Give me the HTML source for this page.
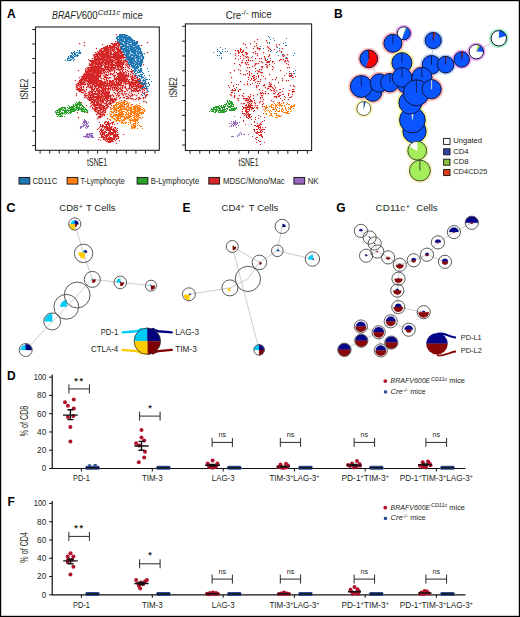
<!DOCTYPE html>
<html><head><meta charset="utf-8"><style>
html,body{margin:0;padding:0;background:#fff;}
svg{display:block;}
text{font-family:"Liberation Sans", sans-serif;}
</style></head><body>
<svg width="520" height="617" viewBox="0 0 520 617">
<rect x="0" y="0" width="520" height="617" fill="#fff"/>
<g fill="#231f20">
<text x="6.9" y="18.2" font-size="12" font-weight="bold" fill="#000">A</text>
<text x="52" y="18.5" font-size="10.3" font-style="italic" textLength="29.6" lengthAdjust="spacingAndGlyphs">BRAFV</text>
<text x="81.7" y="18.5" font-size="10.3" textLength="15.9" lengthAdjust="spacingAndGlyphs">600</text>
<text x="97.8" y="14.6" font-size="7.4" font-style="italic" textLength="22.5" lengthAdjust="spacingAndGlyphs">Cd11c</text>
<text x="122.6" y="18.5" font-size="10.3" textLength="20.1" lengthAdjust="spacingAndGlyphs">mice</text>
<text x="225.7" y="18.5" font-size="10.3" textLength="15.5" lengthAdjust="spacingAndGlyphs">Cre</text>
<text x="241.0" y="15.0" font-size="7.8" textLength="7.2" lengthAdjust="spacingAndGlyphs">-/-</text>
<text x="251.2" y="18.4" font-size="10.3" textLength="20.3" lengthAdjust="spacingAndGlyphs">mice</text>
<rect x="35.5" y="27" width="123.80000000000001" height="123.30000000000001" fill="none" stroke="#231f20" stroke-width="1.1"/>
<path d="M32.3 29.50H35.5M32.3 44.00H35.5M32.3 58.50H35.5M32.3 73.00H35.5M32.3 87.50H35.5M32.3 102.00H35.5M32.3 116.50H35.5M32.3 131.00H35.5M32.3 145.50H35.5M40.10 150.3V153.5M49.68 150.3V153.5M59.26 150.3V153.5M68.84 150.3V153.5M78.42 150.3V153.5M88.00 150.3V153.5M97.58 150.3V153.5M107.16 150.3V153.5M116.74 150.3V153.5M126.32 150.3V153.5M135.90 150.3V153.5M145.48 150.3V153.5M155.06 150.3V153.5" stroke="#231f20" stroke-width="1" fill="none"/>
<rect x="185.4" y="23.9" width="126.20000000000002" height="126.6" fill="none" stroke="#231f20" stroke-width="1.1"/>
<path d="M182.2 26.30H185.4M182.2 41.14H185.4M182.2 55.98H185.4M182.2 70.82H185.4M182.2 85.66H185.4M182.2 100.50H185.4M182.2 115.34H185.4M182.2 130.18H185.4M182.2 145.02H185.4M190.00 150.5V153.7M199.78 150.5V153.7M209.56 150.5V153.7M219.34 150.5V153.7M229.12 150.5V153.7M238.90 150.5V153.7M248.68 150.5V153.7M258.46 150.5V153.7M268.24 150.5V153.7M278.02 150.5V153.7M287.80 150.5V153.7M297.58 150.5V153.7M307.36 150.5V153.7" stroke="#231f20" stroke-width="1" fill="none"/>
<text x="97.1" y="165.8" font-size="10.2" text-anchor="middle" textLength="20" lengthAdjust="spacingAndGlyphs">tSNE1</text>
<text x="248.5" y="165.8" font-size="10.2" text-anchor="middle" textLength="20" lengthAdjust="spacingAndGlyphs">tSNE1</text>
<text x="27.9" y="89" font-size="10.2" text-anchor="middle" textLength="20.5" lengthAdjust="spacingAndGlyphs" transform="rotate(-90 27.9 89)">tSNE2</text>
<text x="177.4" y="87.3" font-size="10.2" text-anchor="middle" textLength="19.8" lengthAdjust="spacingAndGlyphs" transform="rotate(-90 177.4 87.3)">tSNE2</text>
<rect x="19.0" y="177.4" width="10.8" height="6.7" fill="#1f77b4" stroke="#111" stroke-width="0.9"/>
<text x="32.4" y="183.7" font-size="8.4" textLength="24.9" lengthAdjust="spacingAndGlyphs">CD11C</text>
<rect x="67.1" y="177.4" width="10.8" height="6.7" fill="#ff7f0e" stroke="#111" stroke-width="0.9"/>
<text x="80.5" y="183.7" font-size="8.4" textLength="44.3" lengthAdjust="spacingAndGlyphs">T-Lymphocyte</text>
<rect x="137.1" y="177.4" width="10.8" height="6.7" fill="#2ca02c" stroke="#111" stroke-width="0.9"/>
<text x="150.7" y="183.7" font-size="8.4" textLength="48.5" lengthAdjust="spacingAndGlyphs">B-Lymphocyte</text>
<rect x="208.8" y="177.4" width="10.8" height="6.7" fill="#d62728" stroke="#111" stroke-width="0.9"/>
<text x="222.9" y="183.7" font-size="8.4" textLength="61.9" lengthAdjust="spacingAndGlyphs">MDSC/Mono/Mac</text>
<rect x="293.9" y="177.4" width="10.8" height="6.7" fill="#9467bd" stroke="#111" stroke-width="0.9"/>
<text x="307.7" y="183.7" font-size="8.4" textLength="10.8" lengthAdjust="spacingAndGlyphs">NK</text>
<polygon points="119.0,41.0 114.4,42.3 108.5,44.6 101.0,49.0 96.5,52.5 93.0,55.5 90.0,62.0 86.5,69.0 82.0,77.0 77.5,83.5 75.8,86.5 76.5,89.5 80.8,92.3 85.4,96.9 90.0,101.5 92.3,107.7 95.4,113.8 97.7,118.5 103.8,116.9 108.5,107.7 112.0,104.0 116.2,100.5 122.3,98.0 130.0,99.5 137.7,99.6 143.8,100.8 147.5,96.0 148.1,92.1 144.2,86.3 139.1,79.8 133.9,72.1 128.7,63.0 123.5,53.9 120.3,46.1" fill="#d62728" fill-opacity="0.06"/>
<path d="M106.5 91.5h0M105.5 62.5h0M126.5 60.5h0M114.5 57.5h0M86.5 75.5h0M127.5 81.5h0M100.5 80.5h0M109.5 55.5h0M92.5 86.5h0M97.5 76.5h0M91.5 77.5h0M113.5 55.5h0M79.5 90.5h0M95.5 92.5h0M120.5 76.5h0M112.5 64.5h0M88.5 94.5h0M94.5 93.5h0M129.5 84.5h0M101.5 112.5h0M122.5 75.5h0M105.5 103.5h0M102.5 111.5h0M78.5 82.5h0M86.5 79.5h0M112.5 74.5h0M104.5 60.5h0M117.5 48.5h0M106.5 74.5h0M111.5 70.5h0M93.5 60.5h0M99.5 107.5h0M81.5 76.5h0M98.5 62.5h0M94.5 80.5h0M121.5 57.5h0M117.5 64.5h0M121.5 54.5h0M102.5 51.5h0M121.5 61.5h0M91.5 67.5h0M116.5 34.5h0M88.5 96.5h0M103.5 57.5h0M100.5 109.5h0M116.5 59.5h0M98.5 52.5h0M85.5 71.5h0M108.5 78.5h0M86.5 75.5h0M105.5 50.5h0M105.5 112.5h0M126.5 72.5h0M107.5 82.5h0M95.5 101.5h0M90.5 82.5h0M105.5 62.5h0M115.5 44.5h0M126.5 42.5h0M117.5 53.5h0M98.5 105.5h0M114.5 99.5h0M91.5 67.5h0M108.5 90.5h0M107.5 75.5h0M106.5 54.5h0M121.5 59.5h0M102.5 85.5h0M121.5 77.5h0M106.5 85.5h0M97.5 54.5h0M123.5 95.5h0M104.5 55.5h0M107.5 58.5h0M88.5 69.5h0M96.5 80.5h0M91.5 88.5h0M122.5 56.5h0M119.5 57.5h0M96.5 98.5h0M99.5 92.5h0M108.5 51.5h0M106.5 59.5h0M94.5 97.5h0M100.5 101.5h0M100.5 56.5h0M96.5 114.5h0M117.5 57.5h0M100.5 82.5h0M101.5 100.5h0M91.5 81.5h0M129.5 84.5h0M97.5 59.5h0M119.5 93.5h0M112.5 67.5h0M107.5 59.5h0M106.5 88.5h0M78.5 85.5h0M106.5 107.5h0M93.5 108.5h0M104.5 79.5h0M108.5 64.5h0M117.5 56.5h0M135.5 78.5h0M124.5 93.5h0M120.5 85.5h0M101.5 87.5h0M116.5 77.5h0M108.5 56.5h0M106.5 84.5h0M108.5 61.5h0M89.5 65.5h0M122.5 74.5h0M134.5 82.5h0M109.5 49.5h0M112.5 63.5h0M116.5 54.5h0M125.5 82.5h0M118.5 85.5h0M83.5 83.5h0M103.5 90.5h0M89.5 69.5h0M98.5 70.5h0M117.5 58.5h0M103.5 109.5h0M95.5 58.5h0M91.5 79.5h0M106.5 102.5h0M94.5 89.5h0M105.5 65.5h0M97.5 94.5h0M138.5 79.5h0M82.5 92.5h0M110.5 62.5h0M107.5 49.5h0M95.5 68.5h0M100.5 107.5h0M89.5 72.5h0M100.5 76.5h0M100.5 73.5h0M97.5 62.5h0M118.5 87.5h0M113.5 47.5h0M101.5 112.5h0M105.5 75.5h0M84.5 42.5h0M123.5 61.5h0M134.5 76.5h0M82.5 92.5h0M125.5 84.5h0M91.5 99.5h0M119.5 49.5h0M94.5 108.5h0M121.5 62.5h0M102.5 61.5h0M127.5 70.5h0M118.5 65.5h0M92.5 101.5h0M97.5 75.5h0M90.5 61.5h0M94.5 81.5h0M116.5 54.5h0M119.5 72.5h0M101.5 103.5h0M111.5 46.5h0M109.5 58.5h0M92.5 75.5h0M77.5 104.5h0M81.5 87.5h0M108.5 69.5h0M121.5 55.5h0M94.5 78.5h0M109.5 61.5h0M102.5 98.5h0M106.5 66.5h0M80.5 90.5h0M120.5 83.5h0M96.5 94.5h0M118.5 49.5h0M80.5 80.5h0M102.5 92.5h0M120.5 80.5h0M118.5 63.5h0M91.5 79.5h0M78.5 117.5h0M120.5 81.5h0M103.5 96.5h0M92.5 104.5h0M90.5 61.5h0M113.5 73.5h0M100.5 58.5h0M118.5 45.5h0M109.5 60.5h0M121.5 53.5h0M97.5 71.5h0M120.5 81.5h0M102.5 91.5h0M94.5 68.5h0M82.5 89.5h0M91.5 67.5h0M94.5 94.5h0M98.5 110.5h0M119.5 54.5h0M91.5 79.5h0M104.5 107.5h0M91.5 72.5h0M107.5 55.5h0M119.5 88.5h0M107.5 54.5h0M106.5 101.5h0M105.5 81.5h0M96.5 74.5h0M130.5 88.5h0M95.5 61.5h0M99.5 80.5h0M101.5 63.5h0M88.5 92.5h0M123.5 72.5h0M86.5 78.5h0M103.5 57.5h0M116.5 81.5h0M119.5 49.5h0M142.5 95.5h0M103.5 48.5h0M122.5 52.5h0M103.5 107.5h0M97.5 82.5h0M99.5 73.5h0M92.5 70.5h0M98.5 87.5h0M104.5 89.5h0M103.5 96.5h0M106.5 92.5h0M98.5 68.5h0M109.5 95.5h0M94.5 80.5h0M100.5 82.5h0M117.5 94.5h0M88.5 76.5h0M115.5 78.5h0M115.5 45.5h0M94.5 62.5h0M107.5 52.5h0M130.5 98.5h0M132.5 84.5h0M89.5 99.5h0M114.5 60.5h0M100.5 109.5h0M115.5 79.5h0M98.5 56.5h0M81.5 81.5h0M117.5 84.5h0M106.5 53.5h0M124.5 81.5h0M96.5 62.5h0M98.5 71.5h0M91.5 86.5h0M99.5 113.5h0M102.5 53.5h0M142.5 89.5h0M111.5 64.5h0M111.5 53.5h0M102.5 106.5h0M101.5 103.5h0M98.5 101.5h0M110.5 95.5h0M95.5 104.5h0M110.5 87.5h0M94.5 68.5h0M115.5 81.5h0M100.5 83.5h0M126.5 60.5h0M103.5 54.5h0M90.5 79.5h0M115.5 67.5h0M92.5 104.5h0M97.5 72.5h0M93.5 77.5h0M83.5 78.5h0M127.5 96.5h0M94.5 101.5h0M123.5 78.5h0M120.5 77.5h0M114.5 44.5h0M105.5 97.5h0M92.5 72.5h0M105.5 86.5h0M92.5 71.5h0M102.5 61.5h0M114.5 56.5h0M110.5 47.5h0M98.5 95.5h0M111.5 47.5h0M108.5 87.5h0M130.5 82.5h0M125.5 79.5h0M123.5 64.5h0M107.5 92.5h0M99.5 95.5h0M96.5 111.5h0M84.5 81.5h0M97.5 72.5h0M98.5 77.5h0M96.5 102.5h0M118.5 67.5h0M101.5 88.5h0M100.5 64.5h0M99.5 100.5h0M107.5 64.5h0M81.5 79.5h0M95.5 86.5h0M94.5 75.5h0M120.5 51.5h0M137.5 79.5h0M103.5 58.5h0M91.5 89.5h0M94.5 82.5h0M103.5 93.5h0M119.5 63.5h0M121.5 62.5h0M115.5 63.5h0M106.5 108.5h0M92.5 68.5h0M125.5 77.5h0M135.5 80.5h0M91.5 75.5h0M97.5 56.5h0M119.5 62.5h0M131.5 76.5h0M106.5 75.5h0M96.5 81.5h0M102.5 95.5h0M118.5 79.5h0M104.5 110.5h0M99.5 53.5h0M116.5 58.5h0M112.5 61.5h0M123.5 81.5h0M132.5 77.5h0M84.5 91.5h0M113.5 54.5h0M88.5 73.5h0M103.5 113.5h0M106.5 98.5h0M112.5 66.5h0M123.5 75.5h0M102.5 92.5h0M134.5 83.5h0M89.5 80.5h0M116.5 88.5h0M108.5 103.5h0M119.5 63.5h0M98.5 95.5h0M97.5 102.5h0M106.5 105.5h0M110.5 54.5h0M106.5 55.5h0M106.5 96.5h0M112.5 44.5h0M91.5 105.5h0M114.5 77.5h0M105.5 100.5h0M91.5 73.5h0M125.5 94.5h0M120.5 55.5h0M85.5 76.5h0M87.5 77.5h0M93.5 93.5h0M94.5 100.5h0M109.5 80.5h0M105.5 100.5h0M140.5 88.5h0M92.5 71.5h0M94.5 88.5h0M112.5 81.5h0M109.5 55.5h0M122.5 76.5h0M107.5 93.5h0M115.5 55.5h0M99.5 114.5h0M120.5 81.5h0M88.5 73.5h0M108.5 55.5h0M98.5 90.5h0M91.5 90.5h0M129.5 60.5h0M95.5 93.5h0M93.5 74.5h0M79.5 84.5h0M117.5 57.5h0M97.5 78.5h0M119.5 38.5h0M98.5 80.5h0M124.5 73.5h0M88.5 78.5h0M118.5 43.5h0M102.5 109.5h0M91.5 64.5h0M113.5 101.5h0M99.5 69.5h0M109.5 53.5h0M101.5 95.5h0M101.5 81.5h0M108.5 97.5h0M92.5 79.5h0M137.5 82.5h0M95.5 73.5h0M101.5 67.5h0M96.5 68.5h0M109.5 95.5h0M108.5 50.5h0M107.5 59.5h0M104.5 59.5h0M112.5 83.5h0M98.5 69.5h0M97.5 66.5h0M105.5 94.5h0M122.5 65.5h0M141.5 86.5h0M91.5 101.5h0M101.5 83.5h0M137.5 86.5h0M120.5 61.5h0M122.5 52.5h0M93.5 80.5h0M97.5 63.5h0M110.5 68.5h0M96.5 48.5h0M90.5 97.5h0M92.5 65.5h0M107.5 93.5h0M139.5 78.5h0M89.5 99.5h0M92.5 63.5h0M98.5 116.5h0M95.5 62.5h0M106.5 52.5h0M96.5 93.5h0M97.5 67.5h0M107.5 56.5h0M132.5 95.5h0M106.5 103.5h0M129.5 92.5h0M117.5 46.5h0M123.5 78.5h0M131.5 81.5h0M101.5 116.5h0M113.5 86.5h0M102.5 89.5h0M95.5 78.5h0M114.5 99.5h0M91.5 74.5h0M103.5 89.5h0M111.5 83.5h0M135.5 74.5h0M95.5 78.5h0M94.5 68.5h0M125.5 75.5h0M131.5 89.5h0M91.5 63.5h0M123.5 63.5h0M102.5 58.5h0M94.5 60.5h0M119.5 44.5h0M89.5 65.5h0M105.5 98.5h0M107.5 48.5h0M113.5 96.5h0M95.5 70.5h0M87.5 70.5h0M99.5 105.5h0M93.5 66.5h0M95.5 78.5h0M145.5 84.5h0M93.5 71.5h0M97.5 104.5h0M121.5 63.5h0M106.5 108.5h0M120.5 56.5h0M94.5 109.5h0M135.5 99.5h0M92.5 76.5h0M88.5 77.5h0M132.5 82.5h0M93.5 73.5h0M101.5 49.5h0M97.5 71.5h0M118.5 68.5h0M94.5 80.5h0M93.5 105.5h0M112.5 59.5h0M115.5 57.5h0M92.5 93.5h0M98.5 54.5h0M132.5 86.5h0M99.5 116.5h0M145.5 95.5h0M98.5 81.5h0M105.5 56.5h0M107.5 62.5h0M96.5 66.5h0M136.5 90.5h0M125.5 55.5h0M93.5 81.5h0M83.5 77.5h0M131.5 98.5h0M95.5 81.5h0M112.5 68.5h0M107.5 54.5h0M92.5 74.5h0M125.5 77.5h0M95.5 72.5h0M96.5 89.5h0M87.5 83.5h0M133.5 91.5h0M120.5 62.5h0M95.5 77.5h0M78.5 84.5h0M98.5 78.5h0M96.5 53.5h0M126.5 75.5h0M104.5 49.5h0M93.5 63.5h0M108.5 60.5h0M104.5 107.5h0M94.5 68.5h0M112.5 85.5h0M102.5 59.5h0M122.5 93.5h0M117.5 63.5h0M122.5 57.5h0M117.5 62.5h0M96.5 62.5h0M100.5 104.5h0M114.5 92.5h0M108.5 106.5h0M112.5 56.5h0M120.5 56.5h0M121.5 64.5h0M91.5 97.5h0M104.5 77.5h0M83.5 92.5h0M103.5 102.5h0M103.5 70.5h0M117.5 83.5h0M103.5 88.5h0M131.5 86.5h0M113.5 68.5h0M134.5 86.5h0M97.5 83.5h0M122.5 78.5h0M90.5 64.5h0M109.5 51.5h0M114.5 76.5h0M92.5 61.5h0M128.5 76.5h0M94.5 83.5h0M88.5 81.5h0M111.5 69.5h0M97.5 105.5h0M121.5 80.5h0M84.5 95.5h0M118.5 67.5h0M119.5 78.5h0M98.5 70.5h0M98.5 104.5h0M109.5 93.5h0M76.5 93.5h0M100.5 60.5h0M84.5 74.5h0M134.5 63.5h0M99.5 90.5h0M103.5 107.5h0M86.5 95.5h0M111.5 83.5h0M83.5 92.5h0M102.5 91.5h0M104.5 54.5h0M107.5 98.5h0M91.5 71.5h0M121.5 56.5h0M99.5 87.5h0M126.5 78.5h0M112.5 66.5h0M96.5 61.5h0M95.5 64.5h0M112.5 59.5h0M123.5 74.5h0M109.5 84.5h0M104.5 67.5h0M128.5 74.5h0M98.5 62.5h0M110.5 86.5h0M107.5 94.5h0M90.5 70.5h0M118.5 50.5h0M92.5 99.5h0M86.5 78.5h0M94.5 79.5h0M92.5 80.5h0M95.5 96.5h0M117.5 65.5h0M132.5 76.5h0M100.5 86.5h0M96.5 60.5h0M94.5 86.5h0M99.5 51.5h0M93.5 68.5h0M91.5 74.5h0M118.5 50.5h0M116.5 59.5h0M115.5 60.5h0M124.5 91.5h0M102.5 73.5h0M107.5 107.5h0M93.5 78.5h0M122.5 75.5h0M91.5 65.5h0M92.5 73.5h0M120.5 81.5h0M91.5 63.5h0M98.5 104.5h0M131.5 72.5h0M116.5 43.5h0M107.5 67.5h0M102.5 106.5h0M131.5 84.5h0M118.5 51.5h0M86.5 78.5h0M103.5 96.5h0M109.5 62.5h0M97.5 51.5h0M89.5 67.5h0M117.5 57.5h0M92.5 101.5h0M117.5 63.5h0M102.5 82.5h0M106.5 84.5h0M115.5 45.5h0M94.5 79.5h0M104.5 93.5h0M102.5 82.5h0M94.5 78.5h0M121.5 67.5h0M98.5 112.5h0M97.5 66.5h0M105.5 55.5h0M107.5 66.5h0M111.5 103.5h0M86.5 71.5h0M94.5 74.5h0M119.5 78.5h0M99.5 97.5h0M120.5 80.5h0M112.5 62.5h0M95.5 76.5h0M84.5 75.5h0M103.5 89.5h0M100.5 74.5h0M98.5 111.5h0M117.5 59.5h0M94.5 62.5h0M102.5 54.5h0M94.5 68.5h0M105.5 59.5h0M103.5 69.5h0M108.5 103.5h0M139.5 83.5h0M113.5 44.5h0M91.5 61.5h0M112.5 98.5h0M118.5 81.5h0M124.5 77.5h0M106.5 56.5h0M141.5 85.5h0M112.5 68.5h0M108.5 92.5h0M99.5 106.5h0M116.5 78.5h0M104.5 53.5h0M109.5 91.5h0M95.5 105.5h0M142.5 92.5h0M96.5 104.5h0M110.5 81.5h0M96.5 84.5h0M97.5 59.5h0M96.5 56.5h0M99.5 75.5h0M89.5 93.5h0M107.5 106.5h0M106.5 48.5h0M105.5 62.5h0M120.5 75.5h0M95.5 79.5h0M109.5 51.5h0M109.5 55.5h0M115.5 84.5h0M103.5 99.5h0M112.5 63.5h0M105.5 77.5h0M115.5 59.5h0M79.5 91.5h0M123.5 81.5h0M118.5 46.5h0M93.5 73.5h0M115.5 56.5h0M111.5 70.5h0M119.5 76.5h0M99.5 66.5h0M142.5 88.5h0M99.5 108.5h0M110.5 71.5h0M119.5 83.5h0M101.5 55.5h0M94.5 96.5h0M90.5 78.5h0M100.5 72.5h0M91.5 99.5h0M94.5 91.5h0M116.5 64.5h0M124.5 77.5h0M104.5 53.5h0M102.5 112.5h0M95.5 52.5h0M100.5 56.5h0M115.5 43.5h0M102.5 70.5h0M112.5 50.5h0M79.5 86.5h0M121.5 69.5h0M93.5 96.5h0M98.5 57.5h0M103.5 97.5h0M93.5 60.5h0M118.5 74.5h0M95.5 72.5h0M80.5 91.5h0M107.5 82.5h0M111.5 60.5h0M95.5 85.5h0M114.5 50.5h0M94.5 79.5h0M95.5 101.5h0M86.5 71.5h0M82.5 83.5h0M125.5 75.5h0M106.5 83.5h0M97.5 91.5h0M101.5 62.5h0M107.5 82.5h0M124.5 80.5h0M98.5 94.5h0M110.5 107.5h0M83.5 74.5h0M101.5 58.5h0M104.5 93.5h0M88.5 77.5h0M100.5 50.5h0M114.5 84.5h0M83.5 78.5h0M93.5 76.5h0M97.5 55.5h0M88.5 79.5h0M92.5 107.5h0M80.5 79.5h0M102.5 65.5h0M102.5 89.5h0M89.5 80.5h0M124.5 75.5h0M82.5 78.5h0M88.5 78.5h0M101.5 82.5h0M102.5 85.5h0M91.5 83.5h0M100.5 73.5h0M109.5 84.5h0M103.5 110.5h0M120.5 80.5h0M139.5 89.5h0M99.5 97.5h0M119.5 69.5h0M83.5 75.5h0M120.5 65.5h0M98.5 68.5h0M142.5 86.5h0M88.5 86.5h0M122.5 74.5h0M116.5 79.5h0M130.5 84.5h0M94.5 106.5h0M99.5 75.5h0M108.5 60.5h0M141.5 87.5h0M95.5 67.5h0M91.5 75.5h0M84.5 97.5h0M96.5 76.5h0M96.5 79.5h0M110.5 46.5h0M118.5 80.5h0M92.5 62.5h0M78.5 83.5h0M121.5 40.5h0M90.5 98.5h0M115.5 53.5h0M104.5 55.5h0M122.5 90.5h0M103.5 83.5h0M100.5 102.5h0M90.5 68.5h0M93.5 89.5h0M134.5 78.5h0M104.5 73.5h0M92.5 77.5h0M106.5 47.5h0M95.5 80.5h0M89.5 78.5h0M89.5 78.5h0M105.5 86.5h0M78.5 83.5h0M143.5 98.5h0M87.5 76.5h0M121.5 63.5h0M95.5 62.5h0M117.5 62.5h0M143.5 89.5h0M98.5 73.5h0M104.5 55.5h0M103.5 91.5h0M105.5 77.5h0M91.5 68.5h0M86.5 74.5h0M95.5 65.5h0M110.5 54.5h0M94.5 75.5h0M109.5 103.5h0M106.5 60.5h0M97.5 97.5h0M103.5 94.5h0M129.5 85.5h0M105.5 65.5h0M94.5 59.5h0M101.5 48.5h0M120.5 49.5h0M84.5 74.5h0M90.5 80.5h0M105.5 109.5h0M133.5 84.5h0M120.5 72.5h0M114.5 79.5h0M78.5 70.5h0M105.5 59.5h0M115.5 53.5h0M126.5 89.5h0M142.5 88.5h0M93.5 71.5h0M115.5 78.5h0M140.5 88.5h0M91.5 66.5h0M122.5 76.5h0M110.5 89.5h0M88.5 79.5h0M91.5 75.5h0M88.5 75.5h0M90.5 97.5h0M105.5 95.5h0M106.5 52.5h0M131.5 95.5h0M126.5 75.5h0M100.5 83.5h0M106.5 60.5h0M131.5 85.5h0M94.5 68.5h0M118.5 68.5h0M93.5 89.5h0M111.5 47.5h0M95.5 80.5h0M131.5 82.5h0M117.5 79.5h0M101.5 64.5h0M106.5 59.5h0M111.5 50.5h0M130.5 49.5h0M104.5 112.5h0M113.5 56.5h0M112.5 68.5h0M91.5 71.5h0M100.5 92.5h0M83.5 81.5h0M140.5 98.5h0M144.5 90.5h0M137.5 82.5h0M125.5 79.5h0M115.5 45.5h0M95.5 79.5h0M110.5 100.5h0M105.5 97.5h0M110.5 64.5h0M112.5 60.5h0M100.5 114.5h0M118.5 57.5h0M83.5 87.5h0M106.5 50.5h0M92.5 76.5h0M116.5 62.5h0M138.5 99.5h0M132.5 70.5h0M89.5 76.5h0M106.5 97.5h0M107.5 46.5h0M117.5 82.5h0M98.5 85.5h0M101.5 83.5h0M105.5 56.5h0M98.5 74.5h0M95.5 97.5h0M103.5 89.5h0M114.5 82.5h0M111.5 52.5h0M126.5 80.5h0M102.5 68.5h0M111.5 81.5h0M138.5 91.5h0M103.5 50.5h0M99.5 95.5h0M101.5 70.5h0M99.5 71.5h0M107.5 57.5h0M92.5 73.5h0M110.5 56.5h0M94.5 97.5h0M120.5 89.5h0M94.5 79.5h0M110.5 60.5h0M88.5 78.5h0M98.5 57.5h0M120.5 63.5h0M100.5 116.5h0M86.5 80.5h0M97.5 73.5h0M94.5 58.5h0M88.5 97.5h0M81.5 81.5h0M136.5 87.5h0M102.5 55.5h0M111.5 61.5h0M100.5 99.5h0M99.5 84.5h0M102.5 51.5h0M107.5 47.5h0M115.5 57.5h0M80.5 90.5h0M115.5 47.5h0M122.5 62.5h0M108.5 95.5h0M119.5 84.5h0M114.5 46.5h0M102.5 114.5h0M108.5 56.5h0M108.5 48.5h0M113.5 64.5h0M120.5 60.5h0M129.5 81.5h0M121.5 73.5h0M108.5 86.5h0M106.5 96.5h0M85.5 75.5h0M98.5 81.5h0M113.5 99.5h0M97.5 88.5h0M95.5 97.5h0M110.5 99.5h0M92.5 65.5h0M124.5 78.5h0M135.5 91.5h0M97.5 102.5h0M97.5 104.5h0M106.5 59.5h0M120.5 51.5h0M119.5 79.5h0M102.5 115.5h0M101.5 88.5h0M93.5 74.5h0M116.5 53.5h0M95.5 97.5h0M119.5 49.5h0M91.5 72.5h0M108.5 68.5h0M133.5 80.5h0M99.5 83.5h0M123.5 60.5h0M98.5 102.5h0M129.5 66.5h0M107.5 81.5h0M88.5 71.5h0M100.5 109.5h0M122.5 78.5h0M124.5 81.5h0M108.5 63.5h0M98.5 52.5h0M110.5 48.5h0M100.5 81.5h0M111.5 56.5h0M92.5 77.5h0M94.5 81.5h0M98.5 98.5h0M107.5 56.5h0M92.5 81.5h0M113.5 49.5h0M134.5 82.5h0M101.5 112.5h0M92.5 69.5h0M85.5 96.5h0M123.5 55.5h0M98.5 80.5h0M120.5 46.5h0M102.5 59.5h0M117.5 83.5h0M93.5 71.5h0M98.5 101.5h0M120.5 74.5h0M94.5 104.5h0M107.5 105.5h0M91.5 81.5h0M128.5 76.5h0M107.5 101.5h0M107.5 93.5h0M104.5 112.5h0M96.5 62.5h0M96.5 69.5h0M123.5 80.5h0M97.5 101.5h0M118.5 64.5h0M102.5 55.5h0M99.5 50.5h0M103.5 110.5h0M91.5 71.5h0M106.5 92.5h0M110.5 59.5h0M107.5 118.5h0M105.5 85.5h0M105.5 64.5h0M110.5 57.5h0M102.5 99.5h0M105.5 47.5h0M87.5 83.5h0M114.5 98.5h0M121.5 72.5h0M100.5 68.5h0M91.5 83.5h0M113.5 55.5h0M117.5 86.5h0M105.5 54.5h0M98.5 52.5h0M89.5 79.5h0M100.5 96.5h0M88.5 77.5h0M123.5 76.5h0M146.5 102.5h0M105.5 89.5h0M106.5 49.5h0M93.5 72.5h0M130.5 83.5h0M132.5 80.5h0M91.5 72.5h0M97.5 62.5h0M114.5 78.5h0M109.5 95.5h0M123.5 77.5h0M91.5 100.5h0M104.5 106.5h0M107.5 89.5h0M76.5 85.5h0M126.5 75.5h0M101.5 58.5h0M105.5 82.5h0M94.5 93.5h0M119.5 50.5h0M90.5 99.5h0M93.5 81.5h0M121.5 73.5h0M97.5 69.5h0M96.5 69.5h0M106.5 85.5h0M98.5 93.5h0M122.5 78.5h0M87.5 75.5h0M96.5 55.5h0M102.5 93.5h0M92.5 78.5h0M108.5 100.5h0M108.5 60.5h0M112.5 48.5h0M98.5 84.5h0M112.5 57.5h0M107.5 59.5h0M100.5 65.5h0M110.5 54.5h0M85.5 78.5h0M94.5 78.5h0M104.5 63.5h0M79.5 81.5h0M98.5 61.5h0M104.5 115.5h0M89.5 98.5h0M98.5 62.5h0M94.5 101.5h0M121.5 61.5h0M121.5 79.5h0M78.5 88.5h0M96.5 72.5h0M101.5 59.5h0M91.5 79.5h0M144.5 88.5h0M88.5 99.5h0M96.5 109.5h0M101.5 67.5h0M139.5 97.5h0M92.5 94.5h0M97.5 54.5h0M103.5 85.5h0M102.5 99.5h0M107.5 60.5h0M102.5 73.5h0M110.5 82.5h0M107.5 66.5h0M98.5 84.5h0M90.5 81.5h0M117.5 46.5h0M132.5 80.5h0M111.5 52.5h0M86.5 76.5h0M145.5 88.5h0M134.5 82.5h0M99.5 87.5h0M99.5 117.5h0M103.5 109.5h0M102.5 109.5h0M112.5 99.5h0M108.5 94.5h0M93.5 102.5h0M105.5 87.5h0M87.5 112.5h0M135.5 85.5h0M108.5 68.5h0M99.5 73.5h0M105.5 65.5h0M91.5 92.5h0M84.5 76.5h0M142.5 87.5h0M87.5 76.5h0M139.5 82.5h0M106.5 91.5h0M116.5 65.5h0M102.5 92.5h0M92.5 79.5h0M100.5 113.5h0M99.5 76.5h0M116.5 47.5h0M112.5 88.5h0M99.5 96.5h0M118.5 65.5h0M117.5 58.5h0M100.5 72.5h0M99.5 62.5h0M112.5 84.5h0M105.5 65.5h0M89.5 83.5h0M128.5 80.5h0M99.5 97.5h0M111.5 66.5h0M118.5 64.5h0M97.5 64.5h0M95.5 68.5h0M105.5 68.5h0M82.5 84.5h0M90.5 71.5h0M118.5 52.5h0M105.5 83.5h0M94.5 63.5h0M110.5 46.5h0M114.5 44.5h0M108.5 48.5h0M93.5 78.5h0M91.5 78.5h0M99.5 113.5h0M117.5 64.5h0M114.5 67.5h0M104.5 56.5h0M99.5 59.5h0M96.5 69.5h0M112.5 43.5h0M87.5 76.5h0M83.5 79.5h0M82.5 78.5h0M107.5 64.5h0M100.5 86.5h0M120.5 57.5h0M101.5 55.5h0M110.5 53.5h0M103.5 58.5h0M97.5 81.5h0M90.5 69.5h0M98.5 53.5h0M95.5 77.5h0M109.5 103.5h0M117.5 54.5h0M100.5 107.5h0M91.5 102.5h0M121.5 81.5h0M78.5 84.5h0M90.5 70.5h0M92.5 84.5h0M97.5 83.5h0M99.5 90.5h0M142.5 85.5h0M113.5 69.5h0M79.5 90.5h0M91.5 72.5h0M101.5 84.5h0M105.5 49.5h0M120.5 76.5h0M112.5 100.5h0M95.5 60.5h0M137.5 91.5h0M114.5 55.5h0M91.5 78.5h0M111.5 48.5h0M105.5 91.5h0M117.5 61.5h0M103.5 54.5h0M79.5 86.5h0M103.5 83.5h0M96.5 78.5h0M102.5 105.5h0M97.5 88.5h0M115.5 89.5h0M99.5 64.5h0M101.5 71.5h0M119.5 64.5h0M136.5 77.5h0M101.5 63.5h0M96.5 66.5h0M109.5 59.5h0M109.5 104.5h0M101.5 49.5h0M89.5 78.5h0M101.5 72.5h0M98.5 86.5h0M98.5 64.5h0M97.5 54.5h0M100.5 64.5h0M102.5 89.5h0M91.5 71.5h0M117.5 55.5h0M124.5 82.5h0M117.5 78.5h0M113.5 61.5h0M121.5 77.5h0M94.5 81.5h0M107.5 54.5h0M91.5 64.5h0M113.5 80.5h0M87.5 78.5h0M98.5 83.5h0M93.5 75.5h0M104.5 58.5h0M103.5 52.5h0M95.5 82.5h0M83.5 79.5h0M110.5 96.5h0M80.5 85.5h0M97.5 74.5h0M131.5 83.5h0M97.5 75.5h0M104.5 93.5h0M101.5 94.5h0M91.5 89.5h0M86.5 72.5h0M131.5 91.5h0M130.5 82.5h0M97.5 112.5h0M112.5 98.5h0M118.5 64.5h0M80.5 81.5h0M107.5 69.5h0M105.5 68.5h0M77.5 87.5h0M91.5 74.5h0M109.5 88.5h0M106.5 83.5h0M137.5 77.5h0M118.5 52.5h0M120.5 64.5h0M130.5 71.5h0M90.5 91.5h0M143.5 85.5h0M96.5 54.5h0M92.5 71.5h0M95.5 63.5h0M96.5 73.5h0M98.5 60.5h0M92.5 75.5h0M139.5 98.5h0M111.5 64.5h0M108.5 57.5h0M110.5 55.5h0M97.5 66.5h0M91.5 79.5h0M118.5 53.5h0M93.5 76.5h0M112.5 49.5h0M117.5 90.5h0M100.5 71.5h0M102.5 89.5h0M138.5 79.5h0M146.5 94.5h0M95.5 71.5h0M97.5 82.5h0M99.5 59.5h0M122.5 57.5h0M117.5 69.5h0M117.5 79.5h0M137.5 88.5h0M96.5 99.5h0M133.5 84.5h0M138.5 85.5h0M108.5 83.5h0M110.5 54.5h0M135.5 76.5h0M124.5 73.5h0M97.5 83.5h0M84.5 79.5h0M120.5 74.5h0M85.5 83.5h0M93.5 79.5h0M97.5 98.5h0M109.5 69.5h0M104.5 53.5h0M120.5 74.5h0M98.5 113.5h0M92.5 94.5h0M106.5 54.5h0M102.5 90.5h0M105.5 90.5h0M117.5 56.5h0M134.5 78.5h0M95.5 94.5h0M86.5 75.5h0M125.5 67.5h0M96.5 97.5h0M97.5 76.5h0M109.5 77.5h0M82.5 78.5h0M106.5 101.5h0M129.5 82.5h0M122.5 78.5h0M85.5 77.5h0M134.5 75.5h0M97.5 88.5h0M88.5 80.5h0M101.5 97.5h0M89.5 87.5h0M100.5 65.5h0M102.5 92.5h0M114.5 68.5h0M115.5 43.5h0M116.5 54.5h0M123.5 78.5h0M102.5 56.5h0M110.5 48.5h0M117.5 79.5h0M128.5 81.5h0M117.5 93.5h0M99.5 82.5h0M118.5 68.5h0M108.5 94.5h0M111.5 59.5h0M105.5 86.5h0M129.5 88.5h0M138.5 87.5h0M96.5 76.5h0M99.5 57.5h0M100.5 81.5h0M113.5 90.5h0M98.5 77.5h0M125.5 64.5h0M100.5 67.5h0M103.5 109.5h0M92.5 79.5h0M101.5 66.5h0M82.5 82.5h0M120.5 51.5h0M109.5 62.5h0M100.5 104.5h0M123.5 77.5h0M96.5 108.5h0M93.5 102.5h0M95.5 97.5h0M135.5 81.5h0M98.5 83.5h0M95.5 69.5h0M110.5 96.5h0M101.5 54.5h0M115.5 99.5h0M101.5 96.5h0M86.5 79.5h0M92.5 80.5h0M107.5 59.5h0M131.5 91.5h0M84.5 95.5h0M123.5 64.5h0M138.5 97.5h0M104.5 72.5h0M91.5 69.5h0M111.5 48.5h0M119.5 79.5h0M102.5 90.5h0M84.5 78.5h0M88.5 73.5h0M95.5 70.5h0M120.5 56.5h0M108.5 58.5h0M101.5 58.5h0M92.5 71.5h0M102.5 73.5h0M92.5 87.5h0M102.5 88.5h0M119.5 51.5h0M103.5 101.5h0M113.5 57.5h0M106.5 64.5h0M115.5 54.5h0M101.5 73.5h0M98.5 84.5h0M117.5 73.5h0M93.5 81.5h0M103.5 97.5h0M81.5 90.5h0M105.5 76.5h0M94.5 63.5h0M136.5 82.5h0M96.5 58.5h0M92.5 70.5h0M112.5 59.5h0M133.5 85.5h0M105.5 55.5h0M85.5 83.5h0M103.5 92.5h0M117.5 43.5h0M104.5 47.5h0M107.5 100.5h0M112.5 54.5h0M98.5 69.5h0M133.5 90.5h0M111.5 100.5h0M94.5 82.5h0M111.5 48.5h0M113.5 51.5h0M100.5 72.5h0M119.5 74.5h0M93.5 75.5h0M127.5 90.5h0M107.5 57.5h0M114.5 53.5h0M105.5 95.5h0M124.5 76.5h0M100.5 113.5h0M122.5 85.5h0M122.5 57.5h0M98.5 101.5h0M107.5 50.5h0M119.5 55.5h0M133.5 80.5h0M94.5 73.5h0M120.5 69.5h0M96.5 88.5h0M118.5 54.5h0M97.5 68.5h0M118.5 63.5h0M120.5 87.5h0M125.5 87.5h0M98.5 97.5h0M123.5 78.5h0M82.5 78.5h0M93.5 68.5h0M141.5 88.5h0M96.5 74.5h0M106.5 50.5h0M91.5 75.5h0M126.5 60.5h0M95.5 82.5h0M99.5 68.5h0M93.5 100.5h0M127.5 83.5h0M93.5 66.5h0M106.5 58.5h0M94.5 68.5h0M98.5 86.5h0M133.5 88.5h0M118.5 83.5h0M101.5 96.5h0M108.5 62.5h0M94.5 84.5h0M90.5 71.5h0M109.5 59.5h0M104.5 51.5h0M97.5 55.5h0M118.5 47.5h0M90.5 83.5h0M116.5 85.5h0M117.5 83.5h0M110.5 84.5h0M97.5 62.5h0M116.5 55.5h0M98.5 62.5h0M96.5 96.5h0M97.5 67.5h0M93.5 90.5h0M117.5 53.5h0M102.5 48.5h0M97.5 63.5h0M110.5 56.5h0M94.5 69.5h0M114.5 47.5h0M95.5 77.5h0M82.5 89.5h0M110.5 49.5h0M93.5 78.5h0M89.5 64.5h0M121.5 77.5h0M138.5 97.5h0M100.5 86.5h0M118.5 57.5h0M117.5 61.5h0M103.5 55.5h0M98.5 71.5h0M89.5 94.5h0M130.5 82.5h0M96.5 70.5h0M118.5 51.5h0M97.5 99.5h0M103.5 60.5h0M96.5 108.5h0M107.5 80.5h0M105.5 63.5h0M97.5 107.5h0M99.5 93.5h0M132.5 94.5h0M97.5 62.5h0M120.5 76.5h0M128.5 82.5h0M88.5 78.5h0M135.5 86.5h0M104.5 82.5h0M91.5 75.5h0M111.5 73.5h0M103.5 72.5h0M104.5 48.5h0M118.5 56.5h0M116.5 55.5h0M81.5 82.5h0M89.5 77.5h0M92.5 64.5h0M97.5 76.5h0M92.5 78.5h0M104.5 63.5h0M99.5 53.5h0M96.5 77.5h0M99.5 106.5h0M98.5 58.5h0M119.5 50.5h0M111.5 52.5h0M106.5 56.5h0M106.5 98.5h0M118.5 41.5h0M121.5 75.5h0M113.5 87.5h0M138.5 81.5h0M120.5 53.5h0M91.5 79.5h0M142.5 86.5h0M100.5 87.5h0M96.5 101.5h0M97.5 97.5h0M126.5 98.5h0M102.5 68.5h0M96.5 93.5h0M105.5 46.5h0M104.5 76.5h0M127.5 76.5h0M93.5 63.5h0M94.5 63.5h0M103.5 75.5h0M114.5 50.5h0M101.5 93.5h0M126.5 74.5h0M87.5 71.5h0M80.5 83.5h0M96.5 111.5h0M99.5 80.5h0M106.5 94.5h0M96.5 70.5h0M85.5 77.5h0M117.5 57.5h0M97.5 97.5h0M106.5 60.5h0M118.5 77.5h0M86.5 77.5h0M88.5 71.5h0M104.5 112.5h0M101.5 84.5h0M92.5 83.5h0M102.5 61.5h0M100.5 55.5h0M97.5 99.5h0M94.5 82.5h0M95.5 82.5h0M108.5 68.5h0M138.5 87.5h0M104.5 84.5h0M109.5 85.5h0M99.5 60.5h0M125.5 80.5h0M111.5 65.5h0M120.5 97.5h0M85.5 75.5h0M111.5 47.5h0M103.5 82.5h0M83.5 74.5h0M101.5 86.5h0M110.5 97.5h0M91.5 60.5h0M105.5 51.5h0M93.5 75.5h0M101.5 56.5h0M84.5 75.5h0M107.5 98.5h0M124.5 76.5h0M125.5 79.5h0M107.5 57.5h0M112.5 68.5h0M124.5 57.5h0M89.5 60.5h0M103.5 58.5h0M97.5 60.5h0M97.5 70.5h0M95.5 100.5h0M98.5 62.5h0M139.5 86.5h0M91.5 69.5h0M108.5 67.5h0M116.5 44.5h0M118.5 46.5h0M105.5 66.5h0M94.5 70.5h0M113.5 47.5h0M98.5 92.5h0M104.5 114.5h0M94.5 89.5h0M98.5 105.5h0M106.5 55.5h0M108.5 85.5h0M107.5 88.5h0M111.5 47.5h0M101.5 83.5h0M78.5 84.5h0M136.5 86.5h0M104.5 94.5h0M98.5 91.5h0M128.5 74.5h0M144.5 92.5h0M134.5 88.5h0M109.5 69.5h0M113.5 58.5h0M107.5 59.5h0M93.5 77.5h0M104.5 56.5h0M93.5 94.5h0M81.5 82.5h0M90.5 86.5h0M126.5 65.5h0M121.5 78.5h0M107.5 51.5h0M114.5 48.5h0M102.5 101.5h0M104.5 92.5h0M119.5 73.5h0M97.5 58.5h0M123.5 75.5h0M99.5 90.5h0M108.5 55.5h0M100.5 81.5h0M115.5 63.5h0M94.5 102.5h0M98.5 61.5h0M89.5 81.5h0M101.5 82.5h0M113.5 50.5h0M103.5 111.5h0M90.5 73.5h0M100.5 62.5h0M118.5 80.5h0M120.5 58.5h0M106.5 63.5h0M89.5 71.5h0M105.5 50.5h0M94.5 71.5h0M98.5 61.5h0M120.5 84.5h0M106.5 107.5h0M121.5 79.5h0M102.5 56.5h0M102.5 68.5h0M99.5 73.5h0M121.5 54.5h0M107.5 54.5h0M122.5 88.5h0M94.5 70.5h0M117.5 89.5h0M92.5 75.5h0M101.5 87.5h0M91.5 78.5h0M112.5 47.5h0M106.5 55.5h0M106.5 69.5h0M93.5 89.5h0M118.5 76.5h0M93.5 90.5h0M91.5 66.5h0M105.5 98.5h0M135.5 88.5h0M96.5 67.5h0M121.5 78.5h0M110.5 84.5h0M99.5 63.5h0M101.5 71.5h0M89.5 82.5h0M106.5 63.5h0M124.5 79.5h0M98.5 58.5h0M118.5 60.5h0M114.5 71.5h0M90.5 67.5h0M121.5 81.5h0M94.5 55.5h0M106.5 85.5h0M118.5 76.5h0M90.5 87.5h0M90.5 93.5h0M142.5 88.5h0M116.5 79.5h0M95.5 91.5h0M99.5 67.5h0M118.5 58.5h0M78.5 90.5h0M103.5 91.5h0M88.5 72.5h0M89.5 70.5h0M102.5 58.5h0M98.5 73.5h0M101.5 112.5h0M104.5 60.5h0M124.5 77.5h0M129.5 85.5h0M132.5 73.5h0M100.5 111.5h0M134.5 75.5h0M99.5 98.5h0M92.5 60.5h0M95.5 110.5h0M97.5 90.5h0M94.5 97.5h0M123.5 79.5h0M136.5 85.5h0M96.5 89.5h0M96.5 97.5h0M109.5 81.5h0M101.5 100.5h0M115.5 55.5h0M142.5 85.5h0M132.5 80.5h0M109.5 69.5h0M103.5 71.5h0M98.5 94.5h0M117.5 46.5h0M99.5 104.5h0M102.5 90.5h0M100.5 59.5h0M141.5 86.5h0M96.5 54.5h0M112.5 85.5h0M81.5 92.5h0M99.5 67.5h0M132.5 87.5h0M99.5 97.5h0M103.5 86.5h0M110.5 57.5h0M98.5 77.5h0M136.5 83.5h0M122.5 55.5h0M96.5 83.5h0M115.5 68.5h0M100.5 59.5h0M93.5 80.5h0M111.5 95.5h0M102.5 109.5h0M128.5 75.5h0M122.5 94.5h0M102.5 90.5h0M109.5 58.5h0M98.5 66.5h0M138.5 93.5h0M140.5 64.5h0M107.5 68.5h0M85.5 78.5h0M100.5 112.5h0M118.5 50.5h0M116.5 58.5h0M125.5 78.5h0M97.5 64.5h0M100.5 100.5h0M104.5 94.5h0M94.5 65.5h0M120.5 64.5h0M131.5 71.5h0M102.5 68.5h0M101.5 73.5h0M105.5 89.5h0M102.5 54.5h0M118.5 54.5h0M97.5 79.5h0M81.5 83.5h0M90.5 76.5h0M128.5 97.5h0M123.5 78.5h0M95.5 80.5h0M107.5 59.5h0M142.5 86.5h0M105.5 90.5h0M82.5 80.5h0M92.5 80.5h0M123.5 61.5h0M100.5 71.5h0M91.5 101.5h0M106.5 58.5h0M90.5 82.5h0M89.5 80.5h0M99.5 80.5h0M95.5 77.5h0M80.5 81.5h0M95.5 83.5h0M99.5 98.5h0M90.5 76.5h0M117.5 88.5h0M104.5 50.5h0M107.5 56.5h0M122.5 70.5h0M118.5 76.5h0M109.5 85.5h0M116.5 55.5h0M92.5 79.5h0M98.5 63.5h0M118.5 59.5h0M103.5 105.5h0M120.5 52.5h0M99.5 75.5h0M123.5 64.5h0M105.5 62.5h0M102.5 84.5h0M142.5 85.5h0M104.5 60.5h0M91.5 88.5h0M129.5 87.5h0M97.5 73.5h0M102.5 52.5h0M99.5 64.5h0M100.5 107.5h0M98.5 90.5h0M138.5 84.5h0M117.5 85.5h0M99.5 103.5h0M112.5 67.5h0M93.5 70.5h0M115.5 58.5h0M123.5 74.5h0M125.5 64.5h0M87.5 77.5h0M107.5 59.5h0M118.5 45.5h0M122.5 75.5h0M108.5 61.5h0M100.5 84.5h0M112.5 64.5h0M112.5 66.5h0M103.5 53.5h0M94.5 65.5h0M106.5 80.5h0M121.5 77.5h0M94.5 65.5h0M120.5 74.5h0M109.5 104.5h0M107.5 58.5h0M92.5 77.5h0M96.5 66.5h0M81.5 79.5h0M100.5 58.5h0M91.5 71.5h0M123.5 58.5h0M108.5 94.5h0M89.5 80.5h0M123.5 62.5h0M103.5 62.5h0M79.5 77.5h0M117.5 53.5h0M126.5 93.5h0M117.5 91.5h0M98.5 71.5h0M122.5 79.5h0M114.5 98.5h0M115.5 67.5h0M95.5 54.5h0M130.5 74.5h0M95.5 69.5h0M118.5 69.5h0M138.5 80.5h0M98.5 94.5h0M93.5 89.5h0M122.5 66.5h0M93.5 75.5h0M116.5 57.5h0M91.5 62.5h0M98.5 69.5h0M99.5 85.5h0M88.5 76.5h0M84.5 80.5h0M143.5 97.5h0M93.5 81.5h0M93.5 108.5h0M102.5 107.5h0M100.5 116.5h0M123.5 78.5h0M137.5 84.5h0M104.5 77.5h0M120.5 83.5h0M100.5 65.5h0M129.5 65.5h0M89.5 82.5h0M96.5 83.5h0M102.5 102.5h0M143.5 101.5h0M83.5 79.5h0M93.5 104.5h0M119.5 55.5h0M98.5 100.5h0M89.5 77.5h0M98.5 73.5h0M79.5 88.5h0M95.5 101.5h0M86.5 75.5h0M94.5 85.5h0M115.5 54.5h0M110.5 54.5h0M105.5 91.5h0M121.5 56.5h0M111.5 46.5h0M107.5 58.5h0M77.5 89.5h0M84.5 76.5h0M84.5 95.5h0M105.5 105.5h0M107.5 45.5h0M98.5 107.5h0M133.5 80.5h0M97.5 108.5h0M117.5 46.5h0M93.5 97.5h0M118.5 52.5h0M101.5 82.5h0M122.5 74.5h0M127.5 66.5h0M99.5 59.5h0M95.5 83.5h0M100.5 77.5h0M125.5 78.5h0M79.5 80.5h0M94.5 89.5h0M104.5 98.5h0M104.5 58.5h0M132.5 84.5h0M118.5 52.5h0M147.5 42.5h0M100.5 64.5h0M109.5 96.5h0M97.5 69.5h0M86.5 81.5h0M110.5 61.5h0M97.5 76.5h0M90.5 73.5h0M97.5 67.5h0M120.5 81.5h0M131.5 77.5h0M92.5 71.5h0M94.5 74.5h0M98.5 58.5h0M103.5 107.5h0M122.5 74.5h0M78.5 82.5h0M87.5 86.5h0M115.5 53.5h0M100.5 117.5h0M116.5 52.5h0M97.5 85.5h0M92.5 62.5h0M99.5 93.5h0M119.5 79.5h0M110.5 47.5h0M120.5 67.5h0M127.5 75.5h0M125.5 69.5h0M136.5 98.5h0M112.5 83.5h0M100.5 99.5h0M125.5 60.5h0M106.5 54.5h0M105.5 94.5h0M137.5 84.5h0M96.5 66.5h0M100.5 83.5h0M118.5 50.5h0M90.5 78.5h0M115.5 51.5h0M112.5 57.5h0M111.5 67.5h0M97.5 94.5h0M122.5 67.5h0M91.5 91.5h0M93.5 73.5h0M118.5 53.5h0M95.5 96.5h0M92.5 81.5h0M115.5 54.5h0M119.5 63.5h0M96.5 93.5h0M95.5 104.5h0M92.5 102.5h0M85.5 70.5h0M104.5 56.5h0M83.5 81.5h0M85.5 79.5h0M117.5 88.5h0M117.5 60.5h0M114.5 45.5h0M108.5 47.5h0M96.5 102.5h0M105.5 67.5h0M103.5 72.5h0M98.5 61.5h0M104.5 54.5h0M104.5 51.5h0M110.5 48.5h0M123.5 69.5h0M100.5 99.5h0M96.5 99.5h0M107.5 96.5h0M101.5 103.5h0M104.5 58.5h0M106.5 60.5h0M100.5 75.5h0M87.5 77.5h0M100.5 107.5h0M90.5 95.5h0M98.5 84.5h0M78.5 89.5h0M95.5 93.5h0M105.5 92.5h0M114.5 52.5h0M104.5 50.5h0M115.5 75.5h0M104.5 93.5h0M103.5 89.5h0M120.5 78.5h0M118.5 82.5h0M125.5 78.5h0M124.5 75.5h0M104.5 69.5h0M81.5 88.5h0M95.5 68.5h0M105.5 66.5h0M113.5 56.5h0M119.5 50.5h0M98.5 88.5h0M104.5 65.5h0M105.5 82.5h0M99.5 95.5h0M94.5 66.5h0M103.5 50.5h0M102.5 88.5h0M103.5 114.5h0M102.5 55.5h0M104.5 51.5h0M92.5 64.5h0M100.5 63.5h0M116.5 58.5h0M93.5 77.5h0M83.5 74.5h0M97.5 95.5h0M122.5 64.5h0M97.5 70.5h0M123.5 77.5h0M95.5 107.5h0M115.5 52.5h0M118.5 65.5h0M136.5 95.5h0M97.5 53.5h0M100.5 84.5h0M122.5 91.5h0M141.5 86.5h0M114.5 50.5h0M109.5 70.5h0M85.5 84.5h0M108.5 55.5h0M97.5 100.5h0M115.5 54.5h0M94.5 77.5h0M96.5 61.5h0M103.5 93.5h0M99.5 82.5h0M99.5 73.5h0M106.5 86.5h0M110.5 65.5h0M105.5 110.5h0M119.5 80.5h0M112.5 67.5h0M97.5 57.5h0M76.5 86.5h0M98.5 99.5h0M113.5 44.5h0M125.5 77.5h0M98.5 99.5h0M117.5 64.5h0M93.5 72.5h0M115.5 86.5h0M109.5 100.5h0M133.5 83.5h0M95.5 68.5h0M132.5 75.5h0M101.5 56.5h0M98.5 64.5h0M92.5 60.5h0M103.5 51.5h0M99.5 66.5h0M91.5 61.5h0M116.5 65.5h0M121.5 76.5h0M100.5 94.5h0M99.5 60.5h0M95.5 100.5h0M98.5 94.5h0M113.5 46.5h0M84.5 76.5h0M121.5 54.5h0M125.5 77.5h0M84.5 81.5h0M93.5 69.5h0M128.5 107.5h0M95.5 79.5h0M93.5 61.5h0M93.5 74.5h0M126.5 96.5h0M106.5 94.5h0M88.5 78.5h0M116.5 82.5h0M95.5 75.5h0M98.5 81.5h0M125.5 79.5h0M135.5 74.5h0M141.5 83.5h0M117.5 52.5h0M93.5 76.5h0M82.5 76.5h0M94.5 85.5h0M100.5 98.5h0M89.5 64.5h0M118.5 55.5h0M109.5 47.5h0M84.5 78.5h0M107.5 50.5h0M100.5 85.5h0M105.5 112.5h0M98.5 52.5h0M92.5 73.5h0M106.5 46.5h0M115.5 86.5h0M119.5 76.5h0M143.5 64.5h0M134.5 84.5h0M102.5 98.5h0M94.5 74.5h0M127.5 78.5h0M95.5 101.5h0M94.5 67.5h0M126.5 79.5h0M102.5 109.5h0M95.5 73.5h0M125.5 76.5h0M103.5 61.5h0M99.5 55.5h0M93.5 104.5h0M104.5 72.5h0M115.5 93.5h0M98.5 54.5h0M95.5 83.5h0M135.5 75.5h0M143.5 85.5h0M94.5 61.5h0M88.5 80.5h0M95.5 109.5h0M133.5 88.5h0M134.5 86.5h0M126.5 78.5h0M94.5 65.5h0M95.5 73.5h0M119.5 52.5h0M126.5 76.5h0M109.5 56.5h0M138.5 85.5h0M91.5 80.5h0M103.5 93.5h0M92.5 95.5h0M109.5 45.5h0M110.5 85.5h0M101.5 94.5h0M97.5 93.5h0M79.5 84.5h0M134.5 94.5h0M101.5 78.5h0M102.5 93.5h0M76.5 89.5h0M94.5 82.5h0M118.5 80.5h0M93.5 83.5h0M92.5 69.5h0M117.5 66.5h0M131.5 93.5h0M106.5 85.5h0M102.5 87.5h0M110.5 60.5h0M141.5 45.5h0M105.5 74.5h0M89.5 69.5h0M93.5 71.5h0M100.5 67.5h0M120.5 71.5h0M92.5 64.5h0M98.5 60.5h0M140.5 81.5h0M97.5 84.5h0M117.5 53.5h0M119.5 65.5h0M91.5 65.5h0M125.5 69.5h0M93.5 61.5h0M79.5 88.5h0M109.5 53.5h0M89.5 78.5h0M115.5 85.5h0M103.5 113.5h0M85.5 74.5h0M105.5 55.5h0M136.5 86.5h0M82.5 89.5h0M92.5 73.5h0M97.5 66.5h0M96.5 77.5h0M99.5 86.5h0M124.5 104.5h0M99.5 81.5h0M126.5 79.5h0M106.5 62.5h0M84.5 45.5h0M96.5 83.5h0M96.5 73.5h0M85.5 74.5h0M111.5 83.5h0M104.5 93.5h0M120.5 64.5h0M114.5 49.5h0M132.5 77.5h0M96.5 55.5h0M85.5 72.5h0M98.5 103.5h0M89.5 76.5h0M124.5 76.5h0M111.5 50.5h0M92.5 80.5h0M96.5 69.5h0M111.5 59.5h0M81.5 80.5h0M106.5 94.5h0M98.5 97.5h0M126.5 61.5h0M90.5 83.5h0M97.5 91.5h0M138.5 83.5h0M77.5 112.5h0M101.5 104.5h0M93.5 76.5h0M146.5 95.5h0M103.5 64.5h0M101.5 101.5h0M106.5 56.5h0M110.5 73.5h0M99.5 64.5h0M102.5 83.5h0M92.5 102.5h0M133.5 86.5h0M104.5 57.5h0M138.5 86.5h0M81.5 87.5h0M98.5 84.5h0M95.5 99.5h0M96.5 53.5h0M108.5 63.5h0M100.5 65.5h0M100.5 107.5h0M138.5 90.5h0M92.5 85.5h0M137.5 85.5h0M122.5 76.5h0M102.5 52.5h0M118.5 68.5h0M79.5 89.5h0M133.5 82.5h0M113.5 53.5h0M107.5 83.5h0M122.5 54.5h0M105.5 52.5h0M109.5 83.5h0M118.5 76.5h0M91.5 73.5h0M103.5 50.5h0M95.5 59.5h0M87.5 75.5h0M98.5 71.5h0M113.5 65.5h0M92.5 88.5h0M90.5 70.5h0M88.5 77.5h0M103.5 88.5h0M107.5 63.5h0M99.5 87.5h0M115.5 58.5h0M110.5 80.5h0M100.5 67.5h0M118.5 52.5h0M122.5 79.5h0M117.5 49.5h0M109.5 67.5h0M90.5 67.5h0M97.5 72.5h0M133.5 85.5h0M98.5 69.5h0M102.5 58.5h0M95.5 111.5h0M108.5 97.5h0M117.5 67.5h0M86.5 77.5h0M96.5 80.5h0M105.5 94.5h0M95.5 77.5h0M98.5 70.5h0M118.5 48.5h0M107.5 60.5h0M112.5 63.5h0M95.5 76.5h0M104.5 65.5h0M107.5 60.5h0M93.5 80.5h0M76.5 84.5h0M99.5 60.5h0M106.5 83.5h0M94.5 75.5h0M122.5 78.5h0M101.5 101.5h0M89.5 91.5h0M97.5 99.5h0M100.5 63.5h0M105.5 51.5h0M98.5 100.5h0M93.5 83.5h0M104.5 53.5h0M116.5 97.5h0M112.5 64.5h0M93.5 79.5h0M94.5 73.5h0M106.5 48.5h0M115.5 62.5h0M83.5 87.5h0M124.5 72.5h0M104.5 66.5h0M95.5 56.5h0M110.5 81.5h0M89.5 83.5h0M107.5 92.5h0M106.5 99.5h0M96.5 75.5h0M76.5 87.5h0M133.5 82.5h0M102.5 65.5h0M105.5 98.5h0M110.5 64.5h0M102.5 63.5h0M106.5 64.5h0M101.5 85.5h0M94.5 97.5h0M97.5 57.5h0M118.5 84.5h0M94.5 76.5h0M99.5 110.5h0M96.5 75.5h0M116.5 47.5h0M136.5 90.5h0M92.5 77.5h0M116.5 48.5h0M105.5 64.5h0M95.5 63.5h0M106.5 49.5h0M90.5 75.5h0M116.5 53.5h0M102.5 62.5h0M113.5 56.5h0M102.5 109.5h0M109.5 84.5h0M117.5 62.5h0M121.5 77.5h0M90.5 70.5h0M93.5 103.5h0M77.5 89.5h0M114.5 64.5h0M89.5 80.5h0M92.5 72.5h0M99.5 61.5h0M91.5 79.5h0M105.5 93.5h0M93.5 76.5h0M130.5 83.5h0M118.5 63.5h0M89.5 91.5h0M122.5 68.5h0M111.5 85.5h0M101.5 101.5h0M88.5 82.5h0M92.5 99.5h0M97.5 74.5h0M110.5 96.5h0M90.5 78.5h0M96.5 68.5h0M108.5 67.5h0M93.5 98.5h0M96.5 86.5h0M133.5 84.5h0M101.5 83.5h0M128.5 71.5h0M122.5 70.5h0M98.5 61.5h0M118.5 66.5h0M97.5 58.5h0M104.5 62.5h0M96.5 96.5h0M116.5 55.5h0M87.5 80.5h0M120.5 83.5h0M84.5 78.5h0M115.5 53.5h0M96.5 55.5h0M90.5 71.5h0M85.5 75.5h0M79.5 81.5h0M84.5 84.5h0M96.5 66.5h0M105.5 94.5h0M92.5 108.5h0M98.5 74.5h0M108.5 100.5h0M93.5 74.5h0M98.5 113.5h0M118.5 55.5h0M98.5 53.5h0M131.5 82.5h0M131.5 79.5h0M128.5 75.5h0M97.5 58.5h0M94.5 83.5h0M84.5 75.5h0M136.5 80.5h0M94.5 82.5h0M96.5 82.5h0M96.5 103.5h0M97.5 72.5h0M115.5 60.5h0M98.5 99.5h0M104.5 51.5h0M134.5 86.5h0M117.5 63.5h0M94.5 59.5h0M116.5 87.5h0M93.5 96.5h0M106.5 104.5h0M121.5 82.5h0M118.5 78.5h0M87.5 72.5h0M87.5 77.5h0M90.5 75.5h0M118.5 43.5h0M108.5 64.5h0M112.5 84.5h0M91.5 105.5h0M89.5 73.5h0M99.5 83.5h0M100.5 73.5h0M88.5 85.5h0M135.5 86.5h0M94.5 99.5h0M90.5 76.5h0M114.5 56.5h0M118.5 52.5h0M88.5 74.5h0M119.5 63.5h0M99.5 69.5h0M104.5 93.5h0M121.5 64.5h0M84.5 81.5h0M112.5 67.5h0M82.5 77.5h0M119.5 51.5h0M97.5 83.5h0M102.5 82.5h0M91.5 72.5h0M92.5 97.5h0M124.5 62.5h0M103.5 72.5h0M132.5 79.5h0M114.5 75.5h0M93.5 78.5h0M88.5 75.5h0M103.5 88.5h0M92.5 70.5h0M119.5 85.5h0M93.5 74.5h0M92.5 92.5h0M111.5 85.5h0M117.5 54.5h0M104.5 56.5h0M104.5 92.5h0M97.5 113.5h0M122.5 80.5h0M88.5 67.5h0M100.5 53.5h0M100.5 105.5h0M106.5 77.5h0M122.5 78.5h0M99.5 62.5h0M93.5 96.5h0M110.5 77.5h0M99.5 108.5h0M107.5 64.5h0M93.5 64.5h0M93.5 79.5h0M100.5 75.5h0M105.5 63.5h0M94.5 103.5h0M106.5 57.5h0M117.5 43.5h0M108.5 53.5h0M111.5 56.5h0M84.5 78.5h0M110.5 51.5h0M94.5 65.5h0M108.5 50.5h0M118.5 53.5h0M124.5 80.5h0M124.5 57.5h0M117.5 57.5h0M121.5 78.5h0M117.5 79.5h0M118.5 65.5h0M89.5 63.5h0M118.5 80.5h0M86.5 79.5h0M132.5 104.5h0M108.5 95.5h0M113.5 58.5h0M98.5 100.5h0M88.5 77.5h0M107.5 57.5h0M98.5 94.5h0M125.5 86.5h0M85.5 68.5h0M123.5 56.5h0M105.5 69.5h0M103.5 84.5h0M105.5 88.5h0M95.5 87.5h0M120.5 53.5h0M106.5 108.5h0M98.5 72.5h0M106.5 59.5h0M92.5 79.5h0M104.5 58.5h0M137.5 81.5h0M120.5 48.5h0M81.5 92.5h0M114.5 50.5h0M93.5 77.5h0M118.5 44.5h0M94.5 68.5h0M131.5 85.5h0M121.5 62.5h0M92.5 80.5h0M133.5 77.5h0M88.5 80.5h0M118.5 66.5h0M100.5 90.5h0M121.5 104.5h0M102.5 89.5h0M96.5 73.5h0M98.5 73.5h0M87.5 68.5h0M137.5 41.5h0M82.5 82.5h0M109.5 45.5h0M108.5 96.5h0M90.5 82.5h0M101.5 61.5h0M132.5 81.5h0M91.5 87.5h0M110.5 54.5h0M101.5 50.5h0M124.5 78.5h0M116.5 48.5h0M89.5 79.5h0M118.5 65.5h0M90.5 64.5h0M97.5 103.5h0M90.5 81.5h0M99.5 108.5h0M118.5 79.5h0M119.5 88.5h0M127.5 61.5h0M108.5 88.5h0M88.5 78.5h0M105.5 96.5h0M103.5 89.5h0M85.5 93.5h0M89.5 81.5h0M135.5 89.5h0M96.5 96.5h0M98.5 78.5h0M109.5 46.5h0M100.5 81.5h0M129.5 82.5h0M129.5 86.5h0M91.5 77.5h0M94.5 82.5h0M105.5 57.5h0M113.5 56.5h0M138.5 86.5h0M90.5 71.5h0M98.5 66.5h0M97.5 72.5h0M91.5 78.5h0M122.5 78.5h0M91.5 72.5h0M79.5 84.5h0M107.5 97.5h0M105.5 60.5h0M114.5 54.5h0M123.5 63.5h0M101.5 84.5h0M93.5 55.5h0M112.5 49.5h0M93.5 74.5h0M102.5 96.5h0M90.5 71.5h0M85.5 75.5h0M118.5 63.5h0M111.5 83.5h0M84.5 77.5h0M97.5 103.5h0M111.5 68.5h0M130.5 84.5h0M112.5 64.5h0M96.5 59.5h0M119.5 79.5h0M98.5 111.5h0M95.5 91.5h0M99.5 83.5h0M91.5 68.5h0M121.5 60.5h0M107.5 94.5h0M114.5 89.5h0M136.5 83.5h0M88.5 77.5h0M145.5 96.5h0M89.5 98.5h0M122.5 81.5h0M124.5 97.5h0M106.5 105.5h0M111.5 61.5h0M115.5 47.5h0M102.5 73.5h0M98.5 73.5h0M108.5 67.5h0M98.5 94.5h0M101.5 78.5h0M98.5 78.5h0M124.5 79.5h0M93.5 71.5h0M126.5 75.5h0M100.5 51.5h0M115.5 84.5h0M138.5 87.5h0M96.5 88.5h0M87.5 86.5h0M91.5 64.5h0M125.5 82.5h0M79.5 88.5h0M110.5 88.5h0M87.5 75.5h0M103.5 91.5h0M92.5 73.5h0M139.5 81.5h0M139.5 84.5h0M94.5 110.5h0M109.5 71.5h0M123.5 61.5h0M133.5 99.5h0M105.5 47.5h0M125.5 77.5h0M123.5 67.5h0M137.5 90.5h0M104.5 63.5h0M81.5 88.5h0M134.5 80.5h0M113.5 87.5h0M91.5 88.5h0M119.5 84.5h0M104.5 96.5h0M95.5 83.5h0M87.5 67.5h0M102.5 69.5h0M96.5 73.5h0M94.5 86.5h0M102.5 52.5h0M96.5 71.5h0M117.5 79.5h0M92.5 89.5h0M108.5 49.5h0M98.5 62.5h0M121.5 61.5h0M137.5 86.5h0M83.5 77.5h0M99.5 72.5h0M96.5 63.5h0M100.5 60.5h0M123.5 85.5h0M116.5 52.5h0M107.5 67.5h0M81.5 89.5h0M97.5 54.5h0M111.5 83.5h0M104.5 98.5h0M105.5 59.5h0M96.5 59.5h0M102.5 82.5h0M93.5 80.5h0M122.5 63.5h0M88.5 84.5h0M117.5 65.5h0M84.5 80.5h0M139.5 79.5h0M108.5 66.5h0M82.5 80.5h0M110.5 86.5h0M93.5 102.5h0M105.5 110.5h0M100.5 68.5h0M96.5 73.5h0M96.5 67.5h0M121.5 76.5h0M119.5 77.5h0M125.5 71.5h0M108.5 94.5h0M79.5 89.5h0M104.5 108.5h0M105.5 57.5h0M113.5 83.5h0M108.5 58.5h0M103.5 88.5h0M118.5 69.5h0M112.5 59.5h0M79.5 80.5h0M94.5 79.5h0M82.5 79.5h0M132.5 87.5h0M103.5 99.5h0M129.5 81.5h0M101.5 85.5h0M106.5 55.5h0M95.5 106.5h0M123.5 79.5h0M102.5 87.5h0M96.5 105.5h0M127.5 98.5h0M114.5 67.5h0M138.5 79.5h0M99.5 81.5h0M107.5 57.5h0M105.5 47.5h0M89.5 75.5h0M104.5 69.5h0M107.5 50.5h0M99.5 73.5h0M112.5 70.5h0M98.5 65.5h0M92.5 97.5h0M89.5 80.5h0M127.5 61.5h0M96.5 77.5h0M103.5 88.5h0M112.5 89.5h0M102.5 63.5h0M109.5 84.5h0M102.5 58.5h0M99.5 69.5h0M86.5 76.5h0M114.5 54.5h0M93.5 82.5h0M133.5 85.5h0M137.5 79.5h0M106.5 74.5h0M104.5 69.5h0M119.5 78.5h0M101.5 72.5h0M99.5 96.5h0M122.5 80.5h0M115.5 57.5h0M138.5 82.5h0M94.5 61.5h0M79.5 82.5h0M107.5 95.5h0M95.5 62.5h0M83.5 74.5h0M133.5 73.5h0M100.5 49.5h0M102.5 98.5h0M96.5 71.5h0M92.5 78.5h0M111.5 67.5h0M140.5 86.5h0M111.5 60.5h0M92.5 80.5h0M119.5 42.5h0M122.5 56.5h0M101.5 107.5h0M89.5 75.5h0M92.5 85.5h0M95.5 80.5h0M122.5 65.5h0M100.5 109.5h0M118.5 73.5h0M94.5 110.5h0M105.5 71.5h0M112.5 82.5h0M108.5 47.5h0M89.5 81.5h0M95.5 70.5h0M121.5 59.5h0M104.5 59.5h0M117.5 66.5h0M90.5 77.5h0M103.5 86.5h0M87.5 80.5h0M119.5 60.5h0M125.5 83.5h0M99.5 58.5h0M115.5 51.5h0M102.5 114.5h0M117.5 51.5h0M96.5 76.5h0M107.5 51.5h0M84.5 94.5h0M95.5 104.5h0M92.5 85.5h0M105.5 53.5h0M117.5 61.5h0M98.5 67.5h0M104.5 107.5h0M121.5 52.5h0M98.5 100.5h0M97.5 96.5h0M117.5 76.5h0M102.5 73.5h0M91.5 82.5h0M122.5 64.5h0M83.5 78.5h0M101.5 98.5h0M122.5 78.5h0M93.5 103.5h0M122.5 55.5h0M125.5 77.5h0M85.5 96.5h0M86.5 71.5h0M120.5 75.5h0M129.5 79.5h0M97.5 110.5h0M119.5 81.5h0M110.5 69.5h0M115.5 54.5h0M147.5 88.5h0M99.5 58.5h0M115.5 55.5h0M104.5 114.5h0M119.5 50.5h0M101.5 116.5h0M80.5 89.5h0M98.5 100.5h0M144.5 93.5h0M134.5 47.5h0M83.5 76.5h0M94.5 71.5h0M95.5 105.5h0M90.5 85.5h0M91.5 80.5h0M105.5 53.5h0M112.5 61.5h0M121.5 58.5h0M92.5 87.5h0M102.5 112.5h0M119.5 74.5h0M107.5 96.5h0M94.5 73.5h0M108.5 48.5h0M124.5 60.5h0M147.5 91.5h0M108.5 89.5h0M124.5 72.5h0M120.5 57.5h0M119.5 45.5h0M76.5 95.5h0M98.5 63.5h0M108.5 57.5h0M95.5 66.5h0M98.5 74.5h0M129.5 95.5h0M121.5 55.5h0M90.5 81.5h0M108.5 100.5h0M98.5 84.5h0M98.5 84.5h0M103.5 75.5h0M116.5 59.5h0M125.5 71.5h0M114.5 47.5h0M103.5 47.5h0M95.5 108.5h0M135.5 78.5h0M115.5 78.5h0M91.5 80.5h0M119.5 58.5h0M96.5 59.5h0M82.5 80.5h0M119.5 63.5h0M116.5 53.5h0M115.5 55.5h0M109.5 58.5h0M118.5 85.5h0M107.5 66.5h0M117.5 57.5h0M105.5 92.5h0M115.5 100.5h0M89.5 80.5h0M102.5 85.5h0M90.5 96.5h0M89.5 69.5h0M109.5 45.5h0M121.5 48.5h0M97.5 93.5h0M103.5 94.5h0M122.5 79.5h0M106.5 107.5h0M94.5 75.5h0M88.5 81.5h0M96.5 70.5h0M93.5 105.5h0M98.5 81.5h0M112.5 101.5h0M93.5 79.5h0M118.5 77.5h0M106.5 105.5h0M108.5 95.5h0M97.5 85.5h0M103.5 54.5h0M89.5 79.5h0M90.5 65.5h0M98.5 98.5h0M83.5 77.5h0M113.5 51.5h0M86.5 105.5h0M109.5 102.5h0M81.5 86.5h0M80.5 79.5h0M95.5 68.5h0M101.5 57.5h0M82.5 78.5h0M110.5 52.5h0M90.5 74.5h0M99.5 76.5h0M108.5 56.5h0M100.5 106.5h0M92.5 79.5h0M121.5 68.5h0M92.5 60.5h0M140.5 87.5h0M118.5 62.5h0M79.5 82.5h0M116.5 84.5h0M121.5 58.5h0M117.5 65.5h0M114.5 53.5h0M97.5 74.5h0M102.5 90.5h0M101.5 94.5h0M105.5 55.5h0M128.5 94.5h0M96.5 85.5h0M113.5 83.5h0M123.5 97.5h0M119.5 75.5h0M97.5 83.5h0M97.5 77.5h0M87.5 73.5h0M129.5 95.5h0M97.5 66.5h0M123.5 73.5h0M92.5 107.5h0M96.5 74.5h0M86.5 89.5h0M93.5 77.5h0M107.5 54.5h0M112.5 94.5h0M105.5 94.5h0M91.5 78.5h0M101.5 64.5h0M95.5 92.5h0M119.5 61.5h0M90.5 103.5h0M100.5 115.5h0M116.5 90.5h0M91.5 70.5h0M101.5 114.5h0M91.5 67.5h0M140.5 83.5h0M117.5 50.5h0M93.5 77.5h0M125.5 60.5h0M102.5 52.5h0M102.5 100.5h0M93.5 83.5h0M97.5 65.5h0M89.5 95.5h0M97.5 91.5h0M100.5 74.5h0M129.5 86.5h0M112.5 89.5h0M96.5 61.5h0M110.5 48.5h0M95.5 76.5h0M112.5 62.5h0M116.5 61.5h0M98.5 84.5h0M102.5 114.5h0M95.5 109.5h0M123.5 78.5h0M127.5 75.5h0M97.5 80.5h0M107.5 99.5h0M96.5 90.5h0M95.5 64.5h0M133.5 99.5h0M101.5 52.5h0M107.5 59.5h0M87.5 81.5h0M97.5 53.5h0M111.5 83.5h0M98.5 86.5h0M129.5 81.5h0M92.5 82.5h0M99.5 85.5h0M92.5 67.5h0M89.5 97.5h0M116.5 77.5h0M87.5 80.5h0M96.5 61.5h0M118.5 64.5h0M136.5 83.5h0M84.5 80.5h0M98.5 70.5h0M92.5 96.5h0M94.5 71.5h0M102.5 93.5h0M108.5 70.5h0M93.5 84.5h0M95.5 63.5h0M119.5 55.5h0M90.5 98.5h0M99.5 68.5h0M132.5 84.5h0M140.5 87.5h0M108.5 106.5h0M102.5 88.5h0M107.5 101.5h0M127.5 64.5h0M96.5 82.5h0M87.5 71.5h0M108.5 63.5h0M103.5 68.5h0M91.5 70.5h0M95.5 72.5h0M89.5 80.5h0M120.5 73.5h0M77.5 89.5h0M103.5 53.5h0M95.5 93.5h0M92.5 81.5h0M102.5 89.5h0M114.5 87.5h0M88.5 69.5h0M131.5 77.5h0M119.5 55.5h0M106.5 69.5h0M136.5 88.5h0M107.5 99.5h0M84.5 77.5h0M90.5 78.5h0M102.5 60.5h0M119.5 55.5h0M97.5 72.5h0M93.5 94.5h0M126.5 83.5h0M122.5 73.5h0M118.5 61.5h0M98.5 99.5h0M103.5 99.5h0M108.5 93.5h0M106.5 95.5h0M93.5 72.5h0M101.5 105.5h0M101.5 50.5h0M144.5 88.5h0M97.5 82.5h0M90.5 60.5h0M98.5 87.5h0M106.5 61.5h0M118.5 42.5h0M121.5 54.5h0M115.5 53.5h0M98.5 58.5h0M102.5 55.5h0M108.5 53.5h0M109.5 64.5h0M85.5 78.5h0M101.5 64.5h0M132.5 90.5h0M105.5 52.5h0M125.5 60.5h0M95.5 108.5h0M100.5 83.5h0M120.5 80.5h0M122.5 79.5h0M121.5 79.5h0M104.5 54.5h0M116.5 99.5h0M88.5 75.5h0M135.5 82.5h0M119.5 56.5h0M102.5 90.5h0M127.5 90.5h0M89.5 79.5h0M81.5 79.5h0M113.5 54.5h0M142.5 87.5h0M79.5 90.5h0M137.5 77.5h0M123.5 54.5h0M133.5 79.5h0M105.5 60.5h0M88.5 81.5h0M111.5 65.5h0M130.5 96.5h0M122.5 71.5h0M116.5 44.5h0M124.5 87.5h0M89.5 74.5h0M99.5 54.5h0M104.5 67.5h0M88.5 78.5h0M123.5 80.5h0M128.5 59.5h0M103.5 102.5h0M89.5 70.5h0M118.5 57.5h0M100.5 108.5h0M94.5 100.5h0M94.5 73.5h0M102.5 100.5h0M94.5 75.5h0M101.5 95.5h0M99.5 67.5h0M93.5 67.5h0M109.5 66.5h0M141.5 94.5h0M90.5 77.5h0M108.5 68.5h0M95.5 71.5h0M90.5 71.5h0M116.5 63.5h0M89.5 92.5h0M103.5 78.5h0M120.5 82.5h0M100.5 81.5h0M94.5 72.5h0M96.5 63.5h0M119.5 52.5h0M115.5 68.5h0M96.5 90.5h0M122.5 76.5h0M103.5 58.5h0M129.5 85.5h0M107.5 94.5h0M77.5 83.5h0M99.5 89.5h0M109.5 58.5h0M115.5 55.5h0M110.5 55.5h0M102.5 51.5h0M108.5 51.5h0M108.5 52.5h0M86.5 97.5h0M100.5 54.5h0M114.5 60.5h0M147.5 52.5h0M123.5 56.5h0M138.5 90.5h0M95.5 97.5h0M93.5 95.5h0M103.5 87.5h0M113.5 56.5h0M93.5 74.5h0M126.5 74.5h0M99.5 63.5h0M107.5 53.5h0M107.5 50.5h0M98.5 63.5h0M100.5 81.5h0M103.5 111.5h0M92.5 78.5h0M119.5 51.5h0M114.5 70.5h0M101.5 94.5h0M124.5 82.5h0M141.5 85.5h0M111.5 43.5h0M116.5 55.5h0M126.5 81.5h0M124.5 100.5h0M144.5 88.5h0M122.5 52.5h0M112.5 54.5h0M99.5 54.5h0M126.5 76.5h0M101.5 71.5h0M139.5 90.5h0M94.5 79.5h0M94.5 100.5h0M115.5 54.5h0M100.5 102.5h0M118.5 78.5h0M143.5 86.5h0M105.5 110.5h0M100.5 62.5h0M99.5 84.5h0M88.5 68.5h0M106.5 63.5h0M112.5 80.5h0M108.5 58.5h0M100.5 102.5h0M122.5 55.5h0M80.5 82.5h0M110.5 99.5h0M102.5 44.5h0M112.5 102.5h0M94.5 83.5h0M95.5 81.5h0M121.5 74.5h0M116.5 55.5h0M100.5 50.5h0M126.5 63.5h0M98.5 74.5h0M111.5 60.5h0M91.5 95.5h0M91.5 75.5h0M111.5 62.5h0M94.5 61.5h0M131.5 78.5h0M112.5 47.5h0M106.5 108.5h0M92.5 72.5h0M110.5 85.5h0M113.5 102.5h0M103.5 83.5h0M83.5 86.5h0M116.5 43.5h0M96.5 63.5h0M99.5 84.5h0M110.5 74.5h0M125.5 61.5h0M103.5 55.5h0M90.5 100.5h0M93.5 62.5h0M90.5 78.5h0M79.5 91.5h0M98.5 107.5h0M111.5 68.5h0M93.5 67.5h0M98.5 68.5h0M113.5 65.5h0M121.5 77.5h0M87.5 67.5h0M87.5 76.5h0M94.5 83.5h0M92.5 77.5h0M96.5 102.5h0M99.5 86.5h0M93.5 75.5h0M91.5 71.5h0M90.5 78.5h0M141.5 87.5h0M105.5 103.5h0M112.5 84.5h0M92.5 66.5h0M101.5 57.5h0M113.5 45.5h0M108.5 68.5h0M100.5 90.5h0M97.5 89.5h0M99.5 92.5h0M122.5 90.5h0M92.5 89.5h0M144.5 88.5h0M141.5 84.5h0M99.5 85.5h0M105.5 60.5h0M121.5 89.5h0M94.5 74.5h0M91.5 81.5h0M134.5 83.5h0M106.5 56.5h0M98.5 84.5h0M99.5 70.5h0M98.5 79.5h0M124.5 77.5h0M116.5 65.5h0M132.5 98.5h0M103.5 84.5h0M100.5 50.5h0M93.5 66.5h0M109.5 92.5h0M104.5 51.5h0M101.5 65.5h0M104.5 59.5h0M106.5 99.5h0M91.5 82.5h0M86.5 73.5h0M85.5 83.5h0M105.5 69.5h0M82.5 77.5h0M115.5 59.5h0M128.5 71.5h0M94.5 74.5h0M97.5 67.5h0M118.5 89.5h0M103.5 61.5h0M142.5 84.5h0M94.5 54.5h0M121.5 77.5h0M94.5 105.5h0M129.5 83.5h0M95.5 79.5h0M106.5 72.5h0M93.5 71.5h0M119.5 91.5h0M134.5 84.5h0M99.5 73.5h0M106.5 53.5h0M115.5 98.5h0M121.5 54.5h0M143.5 87.5h0M85.5 91.5h0M91.5 98.5h0M124.5 76.5h0M118.5 56.5h0M108.5 98.5h0M91.5 74.5h0M107.5 69.5h0M80.5 80.5h0M91.5 94.5h0M90.5 75.5h0M110.5 96.5h0M114.5 53.5h0M94.5 56.5h0M105.5 59.5h0M92.5 70.5h0M119.5 45.5h0M117.5 41.5h0M132.5 61.5h0M91.5 82.5h0M97.5 55.5h0M120.5 52.5h0M99.5 84.5h0M107.5 63.5h0M91.5 60.5h0M91.5 98.5h0M79.5 80.5h0M102.5 92.5h0M112.5 44.5h0M103.5 64.5h0M100.5 64.5h0M113.5 67.5h0M89.5 83.5h0M98.5 76.5h0M97.5 53.5h0M129.5 68.5h0M121.5 66.5h0M98.5 60.5h0M92.5 71.5h0M125.5 57.5h0M96.5 107.5h0M93.5 97.5h0M81.5 82.5h0M87.5 86.5h0M105.5 91.5h0M81.5 84.5h0M114.5 101.5h0M94.5 63.5h0M92.5 77.5h0M101.5 80.5h0M112.5 70.5h0M115.5 86.5h0M103.5 60.5h0M95.5 61.5h0M120.5 78.5h0M93.5 72.5h0M104.5 56.5h0M95.5 72.5h0M99.5 52.5h0M104.5 62.5h0M108.5 51.5h0M107.5 106.5h0M98.5 91.5h0M104.5 84.5h0M104.5 50.5h0M98.5 95.5h0M107.5 80.5h0M97.5 73.5h0M125.5 76.5h0M102.5 55.5h0M86.5 97.5h0M89.5 82.5h0M112.5 65.5h0M101.5 70.5h0M87.5 72.5h0M145.5 97.5h0M102.5 87.5h0M93.5 71.5h0M142.5 91.5h0M122.5 68.5h0M132.5 71.5h0M104.5 93.5h0M87.5 78.5h0M99.5 91.5h0M91.5 70.5h0M104.5 95.5h0M88.5 72.5h0M104.5 49.5h0M110.5 47.5h0M105.5 89.5h0M94.5 78.5h0M119.5 66.5h0M102.5 62.5h0M98.5 85.5h0M95.5 81.5h0M123.5 83.5h0M98.5 71.5h0M122.5 78.5h0M96.5 96.5h0M114.5 48.5h0M113.5 90.5h0M105.5 92.5h0M122.5 55.5h0M107.5 104.5h0M99.5 82.5h0M135.5 82.5h0M128.5 73.5h0M101.5 61.5h0M98.5 63.5h0M137.5 85.5h0M112.5 46.5h0M108.5 54.5h0M125.5 78.5h0M103.5 96.5h0M117.5 57.5h0M85.5 95.5h0M118.5 48.5h0M110.5 58.5h0M92.5 80.5h0M103.5 90.5h0M114.5 65.5h0M101.5 80.5h0M98.5 59.5h0M110.5 98.5h0M91.5 79.5h0M98.5 61.5h0M84.5 77.5h0M110.5 95.5h0M116.5 79.5h0M119.5 51.5h0M97.5 93.5h0M105.5 67.5h0M123.5 74.5h0M96.5 66.5h0M126.5 76.5h0M118.5 75.5h0M81.5 81.5h0M99.5 53.5h0M91.5 101.5h0M103.5 91.5h0M87.5 80.5h0M115.5 66.5h0M99.5 52.5h0M80.5 90.5h0M102.5 81.5h0M99.5 51.5h0M93.5 61.5h0M111.5 84.5h0M111.5 83.5h0M108.5 72.5h0M98.5 91.5h0M89.5 75.5h0M118.5 77.5h0M137.5 78.5h0M88.5 81.5h0M96.5 56.5h0M90.5 65.5h0M82.5 76.5h0M107.5 58.5h0M119.5 95.5h0M94.5 76.5h0M123.5 73.5h0M90.5 106.5h0M116.5 55.5h0M100.5 62.5h0M99.5 84.5h0M115.5 81.5h0M90.5 77.5h0M119.5 52.5h0M116.5 49.5h0M101.5 58.5h0M86.5 69.5h0M111.5 46.5h0M97.5 63.5h0M94.5 91.5h0M106.5 108.5h0M97.5 97.5h0M101.5 71.5h0M104.5 53.5h0M115.5 56.5h0M139.5 87.5h0M124.5 79.5h0M121.5 85.5h0M106.5 60.5h0M124.5 81.5h0M107.5 71.5h0M92.5 75.5h0M97.5 69.5h0M89.5 72.5h0M101.5 108.5h0M116.5 53.5h0M120.5 47.5h0M125.5 71.5h0M89.5 98.5h0M100.5 75.5h0M101.5 72.5h0M136.5 89.5h0M105.5 111.5h0M133.5 84.5h0M90.5 79.5h0M100.5 63.5h0M100.5 64.5h0M111.5 99.5h0M130.5 83.5h0M120.5 79.5h0M132.5 77.5h0M112.5 49.5h0M139.5 87.5h0M110.5 57.5h0M92.5 95.5h0M98.5 74.5h0M137.5 90.5h0M87.5 84.5h0M109.5 61.5h0M91.5 71.5h0M92.5 94.5h0M93.5 76.5h0M97.5 110.5h0M83.5 84.5h0M140.5 83.5h0M119.5 77.5h0M113.5 75.5h0M134.5 71.5h0M100.5 109.5h0M106.5 74.5h0M94.5 62.5h0M91.5 75.5h0M118.5 65.5h0M118.5 57.5h0M97.5 73.5h0M98.5 104.5h0M90.5 103.5h0M105.5 64.5h0M85.5 80.5h0M93.5 73.5h0M118.5 79.5h0M126.5 78.5h0M118.5 52.5h0M135.5 86.5h0M89.5 71.5h0M97.5 69.5h0M92.5 75.5h0M103.5 52.5h0M92.5 91.5h0M107.5 93.5h0M99.5 100.5h0M116.5 54.5h0M97.5 100.5h0M100.5 85.5h0M105.5 100.5h0M135.5 84.5h0M122.5 86.5h0M103.5 61.5h0M103.5 59.5h0M133.5 77.5h0M123.5 77.5h0M103.5 102.5h0M115.5 45.5h0M111.5 83.5h0M104.5 63.5h0M101.5 53.5h0M102.5 111.5h0M101.5 109.5h0M95.5 77.5h0M113.5 55.5h0M119.5 75.5h0M101.5 108.5h0M108.5 69.5h0M140.5 90.5h0M88.5 94.5h0M104.5 99.5h0M100.5 90.5h0M99.5 55.5h0M97.5 81.5h0M107.5 85.5h0M91.5 72.5h0M96.5 96.5h0M101.5 86.5h0M111.5 59.5h0M117.5 42.5h0M116.5 64.5h0M94.5 60.5h0M100.5 106.5h0M105.5 47.5h0M107.5 55.5h0M97.5 64.5h0M115.5 89.5h0M106.5 67.5h0M100.5 82.5h0M113.5 56.5h0M136.5 85.5h0M120.5 79.5h0M77.5 87.5h0M108.5 74.5h0M93.5 81.5h0M116.5 52.5h0M104.5 85.5h0M99.5 69.5h0M81.5 102.5h0M98.5 88.5h0M96.5 81.5h0M143.5 86.5h0M99.5 82.5h0M83.5 77.5h0M113.5 95.5h0M109.5 82.5h0M88.5 84.5h0M96.5 58.5h0M123.5 54.5h0M111.5 105.5h0M128.5 67.5h0M114.5 88.5h0M116.5 58.5h0M106.5 79.5h0M110.5 61.5h0M98.5 113.5h0M104.5 106.5h0M120.5 89.5h0M108.5 65.5h0M128.5 98.5h0M112.5 87.5h0M91.5 76.5h0M77.5 85.5h0M112.5 65.5h0M132.5 73.5h0M119.5 98.5h0M98.5 59.5h0M110.5 102.5h0M118.5 51.5h0M103.5 61.5h0M118.5 67.5h0M101.5 94.5h0M99.5 117.5h0M125.5 81.5h0M93.5 75.5h0M130.5 76.5h0M105.5 89.5h0M106.5 58.5h0M116.5 56.5h0M90.5 75.5h0M110.5 45.5h0M81.5 92.5h0M102.5 100.5h0M88.5 80.5h0M82.5 76.5h0M80.5 87.5h0M134.5 90.5h0M141.5 86.5h0M84.5 77.5h0M103.5 56.5h0M97.5 97.5h0M98.5 105.5h0M92.5 73.5h0M86.5 77.5h0M91.5 66.5h0M106.5 84.5h0M101.5 69.5h0M103.5 60.5h0M117.5 46.5h0M118.5 63.5h0M119.5 77.5h0M109.5 93.5h0M91.5 74.5h0M99.5 53.5h0M78.5 82.5h0M101.5 58.5h0M123.5 57.5h0M122.5 64.5h0M117.5 54.5h0M119.5 43.5h0M94.5 109.5h0M110.5 67.5h0M104.5 63.5h0M78.5 90.5h0M106.5 107.5h0M119.5 59.5h0M101.5 90.5h0M138.5 79.5h0M120.5 53.5h0M105.5 59.5h0M110.5 49.5h0M76.5 85.5h0M101.5 68.5h0M111.5 54.5h0M100.5 71.5h0M93.5 69.5h0M107.5 93.5h0M84.5 82.5h0M120.5 81.5h0M96.5 74.5h0M106.5 62.5h0M98.5 57.5h0M94.5 81.5h0M104.5 53.5h0M100.5 84.5h0M93.5 99.5h0M95.5 70.5h0M84.5 73.5h0M88.5 80.5h0M110.5 99.5h0M106.5 56.5h0M127.5 62.5h0M109.5 57.5h0M89.5 81.5h0M107.5 92.5h0M106.5 57.5h0M109.5 62.5h0M107.5 98.5h0M96.5 77.5h0M117.5 53.5h0M109.5 47.5h0M120.5 51.5h0M97.5 55.5h0M101.5 82.5h0M140.5 85.5h0M111.5 86.5h0M120.5 50.5h0M129.5 65.5h0M95.5 107.5h0M87.5 98.5h0M104.5 89.5h0M120.5 79.5h0M122.5 87.5h0M98.5 57.5h0M106.5 83.5h0M101.5 63.5h0M115.5 52.5h0M103.5 89.5h0M109.5 84.5h0M104.5 84.5h0M104.5 90.5h0M130.5 82.5h0M102.5 57.5h0M102.5 58.5h0M90.5 83.5h0M99.5 58.5h0M100.5 56.5h0M94.5 83.5h0M96.5 64.5h0M110.5 101.5h0M89.5 76.5h0M112.5 68.5h0M96.5 82.5h0M122.5 76.5h0M98.5 64.5h0M115.5 84.5h0M91.5 91.5h0M118.5 85.5h0M103.5 94.5h0M117.5 56.5h0M121.5 93.5h0M107.5 56.5h0M95.5 58.5h0M92.5 58.5h0M111.5 98.5h0M121.5 55.5h0M108.5 103.5h0M116.5 69.5h0M113.5 100.5h0M137.5 84.5h0M96.5 94.5h0M107.5 85.5h0M118.5 65.5h0M119.5 51.5h0M121.5 100.5h0M103.5 96.5h0M132.5 83.5h0M106.5 50.5h0M89.5 73.5h0M94.5 76.5h0M84.5 90.5h0M110.5 59.5h0M103.5 58.5h0M111.5 63.5h0M134.5 89.5h0M122.5 77.5h0M89.5 78.5h0M83.5 82.5h0M117.5 56.5h0M105.5 53.5h0M105.5 46.5h0M118.5 47.5h0M107.5 98.5h0M104.5 103.5h0M90.5 65.5h0M98.5 58.5h0M116.5 53.5h0M102.5 91.5h0M96.5 88.5h0M117.5 74.5h0M98.5 113.5h0M109.5 96.5h0M98.5 85.5h0M77.5 88.5h0M105.5 48.5h0M110.5 52.5h0M90.5 69.5h0M106.5 102.5h0M94.5 57.5h0M98.5 76.5h0M125.5 74.5h0M140.5 81.5h0M108.5 97.5h0M133.5 83.5h0M119.5 52.5h0M105.5 61.5h0M95.5 72.5h0M114.5 72.5h0M118.5 73.5h0M109.5 57.5h0M95.5 70.5h0M107.5 84.5h0M110.5 103.5h0M90.5 81.5h0M101.5 63.5h0M111.5 54.5h0M106.5 107.5h0M91.5 69.5h0M112.5 61.5h0M91.5 76.5h0M128.5 83.5h0M120.5 91.5h0M99.5 55.5h0M92.5 70.5h0M110.5 84.5h0M100.5 80.5h0M140.5 86.5h0M106.5 93.5h0M102.5 88.5h0M117.5 83.5h0M130.5 85.5h0M144.5 87.5h0M88.5 70.5h0M102.5 54.5h0M93.5 82.5h0M110.5 62.5h0M115.5 54.5h0M88.5 73.5h0M115.5 54.5h0M119.5 45.5h0M139.5 82.5h0M136.5 81.5h0M100.5 112.5h0M118.5 53.5h0M101.5 56.5h0M94.5 69.5h0M86.5 73.5h0M107.5 61.5h0M132.5 78.5h0M77.5 88.5h0M91.5 74.5h0M86.5 72.5h0M93.5 89.5h0M91.5 65.5h0M121.5 83.5h0M127.5 79.5h0M94.5 85.5h0M110.5 49.5h0M95.5 76.5h0M116.5 45.5h0M116.5 59.5h0M97.5 55.5h0M116.5 83.5h0M102.5 51.5h0M90.5 80.5h0M105.5 82.5h0M104.5 70.5h0M95.5 71.5h0M114.5 55.5h0M141.5 84.5h0M107.5 55.5h0M85.5 75.5h0M116.5 80.5h0M96.5 79.5h0M107.5 49.5h0M95.5 108.5h0M104.5 93.5h0M89.5 84.5h0M89.5 76.5h0M98.5 77.5h0M120.5 55.5h0M114.5 43.5h0M98.5 76.5h0M103.5 56.5h0M120.5 77.5h0M120.5 66.5h0M113.5 84.5h0M93.5 68.5h0M107.5 91.5h0M100.5 63.5h0M115.5 65.5h0M105.5 50.5h0M112.5 63.5h0M86.5 93.5h0M110.5 100.5h0M88.5 81.5h0M131.5 69.5h0M104.5 88.5h0M109.5 63.5h0M101.5 59.5h0M99.5 67.5h0M112.5 68.5h0M101.5 86.5h0M110.5 55.5h0M99.5 68.5h0M92.5 95.5h0M91.5 78.5h0M102.5 98.5h0M118.5 64.5h0M123.5 54.5h0M118.5 55.5h0M109.5 103.5h0M125.5 75.5h0M117.5 58.5h0M105.5 86.5h0M114.5 64.5h0M77.5 89.5h0M137.5 80.5h0M92.5 67.5h0M99.5 68.5h0M102.5 60.5h0M101.5 66.5h0M99.5 116.5h0M96.5 61.5h0M118.5 96.5h0M138.5 81.5h0M101.5 91.5h0M103.5 61.5h0M78.5 84.5h0M118.5 92.5h0M111.5 70.5h0M114.5 58.5h0M110.5 67.5h0M86.5 87.5h0M121.5 51.5h0M105.5 81.5h0M94.5 79.5h0M118.5 64.5h0M86.5 78.5h0M137.5 90.5h0M99.5 59.5h0M92.5 78.5h0M96.5 68.5h0M103.5 55.5h0M95.5 76.5h0M112.5 49.5h0M104.5 106.5h0M120.5 88.5h0M118.5 78.5h0M97.5 66.5h0M117.5 49.5h0M94.5 76.5h0M75.5 80.5h0M93.5 94.5h0M147.5 94.5h0M103.5 84.5h0M113.5 75.5h0M143.5 89.5h0M120.5 76.5h0M88.5 69.5h0M99.5 54.5h0M98.5 73.5h0M97.5 118.5h0M83.5 75.5h0M135.5 83.5h0M112.5 87.5h0M98.5 95.5h0M117.5 54.5h0M144.5 87.5h0M98.5 117.5h0M116.5 95.5h0M91.5 69.5h0M126.5 88.5h0M114.5 83.5h0M104.5 83.5h0M116.5 48.5h0M128.5 64.5h0M115.5 41.5h0M102.5 57.5h0M91.5 67.5h0M86.5 81.5h0M100.5 63.5h0M96.5 70.5h0M97.5 74.5h0M90.5 65.5h0M95.5 85.5h0M118.5 95.5h0M99.5 69.5h0M84.5 73.5h0M104.5 92.5h0M123.5 78.5h0M94.5 57.5h0M96.5 74.5h0M113.5 90.5h0M118.5 54.5h0M100.5 110.5h0M107.5 77.5h0M96.5 99.5h0M115.5 84.5h0M103.5 78.5h0M110.5 71.5h0M125.5 77.5h0M119.5 76.5h0M113.5 44.5h0M106.5 51.5h0M101.5 81.5h0M142.5 84.5h0M100.5 97.5h0M114.5 85.5h0M93.5 75.5h0M97.5 70.5h0M138.5 118.5h0M112.5 81.5h0M119.5 79.5h0M110.5 50.5h0M131.5 71.5h0M94.5 94.5h0M126.5 81.5h0M99.5 68.5h0M140.5 86.5h0M79.5 43.5h0M88.5 70.5h0M94.5 96.5h0M101.5 51.5h0M82.5 90.5h0M107.5 59.5h0M87.5 74.5h0M98.5 96.5h0M98.5 100.5h0M101.5 96.5h0M103.5 106.5h0M83.5 89.5h0M94.5 73.5h0M106.5 105.5h0M119.5 49.5h0M132.5 84.5h0M117.5 59.5h0M104.5 57.5h0M124.5 78.5h0M104.5 49.5h0M111.5 57.5h0M119.5 77.5h0M96.5 72.5h0M142.5 88.5h0M99.5 106.5h0M94.5 82.5h0M118.5 43.5h0M110.5 99.5h0M131.5 90.5h0M125.5 91.5h0M91.5 70.5h0M102.5 105.5h0M118.5 76.5h0M103.5 100.5h0M103.5 62.5h0M114.5 62.5h0M90.5 100.5h0M77.5 85.5h0M104.5 81.5h0M97.5 72.5h0M79.5 89.5h0M109.5 60.5h0M128.5 88.5h0M105.5 52.5h0M98.5 84.5h0M97.5 63.5h0M143.5 97.5h0M111.5 84.5h0M113.5 60.5h0M113.5 81.5h0M122.5 81.5h0M91.5 72.5h0M95.5 57.5h0M100.5 65.5h0M99.5 54.5h0M130.5 85.5h0M111.5 82.5h0M100.5 112.5h0M109.5 45.5h0M121.5 90.5h0M94.5 80.5h0M95.5 82.5h0M125.5 59.5h0M136.5 80.5h0M100.5 65.5h0M91.5 91.5h0M100.5 62.5h0M113.5 58.5h0M96.5 63.5h0M101.5 94.5h0M94.5 99.5h0M140.5 83.5h0M100.5 70.5h0M94.5 75.5h0M104.5 86.5h0M98.5 73.5h0M96.5 94.5h0M87.5 75.5h0M111.5 66.5h0M105.5 59.5h0M82.5 77.5h0M78.5 88.5h0M90.5 77.5h0M116.5 72.5h0M103.5 61.5h0M104.5 90.5h0M88.5 80.5h0M119.5 74.5h0M101.5 68.5h0M118.5 62.5h0M122.5 52.5h0M120.5 53.5h0M94.5 103.5h0M98.5 60.5h0M89.5 81.5h0M97.5 112.5h0M115.5 87.5h0M96.5 76.5h0M106.5 52.5h0M108.5 51.5h0M99.5 64.5h0M124.5 82.5h0M96.5 98.5h0M79.5 88.5h0M106.5 94.5h0M130.5 82.5h0M105.5 108.5h0M126.5 76.5h0M76.5 89.5h0M106.5 78.5h0M99.5 85.5h0M80.5 84.5h0M117.5 66.5h0M103.5 56.5h0M124.5 78.5h0M100.5 66.5h0M116.5 56.5h0M111.5 50.5h0M103.5 108.5h0M136.5 86.5h0M117.5 56.5h0M108.5 47.5h0M103.5 70.5h0M119.5 70.5h0M98.5 84.5h0M118.5 56.5h0M103.5 87.5h0M88.5 81.5h0M95.5 105.5h0M92.5 71.5h0M98.5 75.5h0M110.5 52.5h0M101.5 114.5h0M94.5 84.5h0M131.5 87.5h0M109.5 81.5h0M113.5 69.5h0M116.5 54.5h0M96.5 85.5h0M90.5 76.5h0M81.5 81.5h0M109.5 67.5h0M99.5 83.5h0M111.5 84.5h0M142.5 86.5h0M91.5 77.5h0M108.5 64.5h0M96.5 72.5h0M89.5 100.5h0M120.5 53.5h0M97.5 103.5h0M118.5 47.5h0M105.5 94.5h0M103.5 113.5h0M105.5 57.5h0M119.5 85.5h0M97.5 67.5h0M106.5 91.5h0M104.5 48.5h0M119.5 78.5h0M89.5 76.5h0M118.5 55.5h0M102.5 82.5h0M89.5 82.5h0M141.5 82.5h0M88.5 73.5h0M100.5 84.5h0M95.5 75.5h0M81.5 78.5h0M90.5 91.5h0M87.5 95.5h0" stroke="#d62728" stroke-width="1.25" stroke-linecap="square" fill="none"/>
<path d="M131.5 63.5h0M144.5 53.5h0M133.5 47.5h0M135.5 45.5h0M137.5 65.5h0M133.5 51.5h0M140.5 53.5h0M125.5 59.5h0M138.5 45.5h0M128.5 38.5h0M126.5 43.5h0M134.5 55.5h0M119.5 37.5h0M133.5 50.5h0M132.5 57.5h0M141.5 51.5h0M134.5 41.5h0M130.5 40.5h0M136.5 57.5h0M130.5 56.5h0M122.5 34.5h0M125.5 48.5h0M133.5 42.5h0M131.5 66.5h0M138.5 60.5h0M127.5 51.5h0M140.5 61.5h0M131.5 39.5h0M134.5 49.5h0M136.5 57.5h0M123.5 50.5h0M123.5 36.5h0M140.5 50.5h0M134.5 60.5h0M124.5 37.5h0M123.5 40.5h0M127.5 35.5h0M137.5 57.5h0M124.5 45.5h0M138.5 50.5h0M133.5 48.5h0M130.5 58.5h0M132.5 51.5h0M135.5 45.5h0M131.5 55.5h0M129.5 44.5h0M139.5 61.5h0M133.5 66.5h0M132.5 62.5h0M119.5 36.5h0M121.5 40.5h0M127.5 59.5h0M124.5 35.5h0M122.5 39.5h0M137.5 62.5h0M132.5 63.5h0M133.5 66.5h0M133.5 63.5h0M130.5 45.5h0M138.5 52.5h0M131.5 58.5h0M136.5 41.5h0M137.5 53.5h0M124.5 41.5h0M142.5 55.5h0M123.5 36.5h0M128.5 48.5h0M140.5 53.5h0M137.5 52.5h0M130.5 50.5h0M138.5 63.5h0M137.5 45.5h0M134.5 53.5h0M133.5 40.5h0M132.5 54.5h0M132.5 40.5h0M124.5 37.5h0M128.5 47.5h0M120.5 36.5h0M133.5 63.5h0M127.5 51.5h0M134.5 61.5h0M129.5 57.5h0M133.5 67.5h0M132.5 49.5h0M128.5 55.5h0M136.5 58.5h0M117.5 40.5h0M125.5 54.5h0M141.5 64.5h0M134.5 56.5h0M122.5 36.5h0M121.5 48.5h0M123.5 40.5h0M130.5 47.5h0M130.5 55.5h0M138.5 52.5h0M138.5 52.5h0M119.5 35.5h0M130.5 64.5h0M133.5 51.5h0M142.5 59.5h0M122.5 45.5h0M124.5 37.5h0M140.5 61.5h0M116.5 38.5h0M119.5 36.5h0M126.5 42.5h0M131.5 42.5h0M122.5 47.5h0M130.5 61.5h0M137.5 63.5h0M122.5 47.5h0M121.5 41.5h0M141.5 62.5h0M119.5 37.5h0M137.5 43.5h0M127.5 56.5h0M137.5 48.5h0M131.5 64.5h0M135.5 55.5h0M138.5 50.5h0M128.5 44.5h0M121.5 34.5h0M137.5 52.5h0M136.5 67.5h0M134.5 47.5h0M132.5 47.5h0M136.5 60.5h0M126.5 41.5h0M138.5 57.5h0M132.5 48.5h0M131.5 38.5h0M123.5 49.5h0M128.5 50.5h0M130.5 56.5h0M134.5 45.5h0M135.5 54.5h0M133.5 65.5h0M132.5 40.5h0M119.5 37.5h0M136.5 43.5h0M126.5 55.5h0M132.5 66.5h0M131.5 50.5h0M136.5 58.5h0M135.5 47.5h0M138.5 60.5h0M125.5 40.5h0M128.5 37.5h0M124.5 52.5h0M133.5 51.5h0M127.5 46.5h0M118.5 36.5h0M132.5 57.5h0M126.5 38.5h0M137.5 58.5h0M130.5 60.5h0M137.5 61.5h0M131.5 49.5h0M130.5 47.5h0M129.5 36.5h0M129.5 42.5h0M124.5 52.5h0M138.5 61.5h0M129.5 52.5h0M132.5 41.5h0M142.5 61.5h0M130.5 49.5h0M132.5 41.5h0M138.5 54.5h0M133.5 44.5h0M126.5 55.5h0M123.5 48.5h0M130.5 62.5h0M131.5 42.5h0M139.5 58.5h0M140.5 48.5h0M128.5 53.5h0M131.5 52.5h0M133.5 62.5h0M126.5 45.5h0M130.5 56.5h0M132.5 40.5h0M119.5 35.5h0M125.5 36.5h0M124.5 42.5h0M132.5 63.5h0M140.5 56.5h0M127.5 53.5h0M128.5 42.5h0M128.5 62.5h0M123.5 39.5h0M133.5 50.5h0M124.5 49.5h0M132.5 41.5h0M134.5 63.5h0M134.5 51.5h0M126.5 46.5h0M137.5 52.5h0M140.5 62.5h0M119.5 34.5h0M140.5 55.5h0M124.5 38.5h0M128.5 52.5h0M130.5 40.5h0M138.5 61.5h0M123.5 50.5h0M123.5 37.5h0M135.5 51.5h0M127.5 55.5h0M136.5 66.5h0M136.5 44.5h0M129.5 57.5h0M136.5 64.5h0M125.5 35.5h0M125.5 50.5h0M132.5 65.5h0M119.5 41.5h0M142.5 59.5h0M124.5 48.5h0M127.5 53.5h0M137.5 48.5h0M120.5 38.5h0M128.5 56.5h0M136.5 68.5h0M119.5 40.5h0M126.5 55.5h0M134.5 41.5h0M141.5 59.5h0M136.5 62.5h0M138.5 47.5h0M125.5 35.5h0M127.5 54.5h0M125.5 51.5h0M140.5 66.5h0M136.5 48.5h0M119.5 42.5h0M131.5 50.5h0M139.5 53.5h0M123.5 36.5h0M130.5 45.5h0M119.5 41.5h0M124.5 45.5h0M132.5 59.5h0M134.5 44.5h0M122.5 41.5h0M138.5 49.5h0M121.5 39.5h0M128.5 50.5h0M129.5 53.5h0M136.5 55.5h0M133.5 55.5h0M130.5 58.5h0M133.5 63.5h0M134.5 51.5h0M140.5 66.5h0M120.5 43.5h0M133.5 52.5h0M129.5 50.5h0M121.5 35.5h0M126.5 35.5h0M126.5 49.5h0M118.5 39.5h0M118.5 36.5h0M131.5 57.5h0M120.5 35.5h0M126.5 46.5h0M137.5 66.5h0M122.5 36.5h0M137.5 67.5h0M120.5 47.5h0M141.5 63.5h0M126.5 50.5h0M127.5 47.5h0M131.5 64.5h0M140.5 60.5h0M133.5 58.5h0M137.5 56.5h0M134.5 68.5h0M130.5 62.5h0M125.5 45.5h0M124.5 37.5h0M120.5 44.5h0M125.5 40.5h0M138.5 61.5h0M137.5 53.5h0M126.5 39.5h0M123.5 45.5h0M126.5 41.5h0M119.5 37.5h0M135.5 62.5h0M130.5 59.5h0M142.5 61.5h0M138.5 56.5h0M126.5 49.5h0M131.5 57.5h0M139.5 65.5h0M134.5 40.5h0M126.5 45.5h0M121.5 36.5h0M133.5 63.5h0M131.5 40.5h0M135.5 55.5h0M130.5 58.5h0M134.5 63.5h0M131.5 49.5h0M136.5 54.5h0M134.5 48.5h0M137.5 47.5h0M136.5 67.5h0M133.5 43.5h0M133.5 70.5h0M120.5 39.5h0M133.5 55.5h0M124.5 54.5h0M140.5 57.5h0M137.5 67.5h0M126.5 45.5h0M131.5 63.5h0M123.5 52.5h0M127.5 50.5h0M137.5 48.5h0M134.5 53.5h0M130.5 54.5h0M134.5 45.5h0M122.5 36.5h0M128.5 46.5h0M125.5 43.5h0M128.5 46.5h0M129.5 58.5h0M142.5 56.5h0M120.5 40.5h0M139.5 64.5h0M130.5 38.5h0M140.5 65.5h0M134.5 63.5h0M130.5 58.5h0M120.5 42.5h0M133.5 45.5h0M128.5 38.5h0M117.5 38.5h0M124.5 50.5h0M138.5 63.5h0M129.5 37.5h0M130.5 57.5h0M135.5 62.5h0M129.5 37.5h0M138.5 48.5h0M141.5 53.5h0M122.5 41.5h0M137.5 43.5h0M142.5 53.5h0M126.5 54.5h0M130.5 62.5h0M126.5 46.5h0M132.5 55.5h0M120.5 44.5h0M137.5 59.5h0M118.5 41.5h0M141.5 51.5h0M134.5 59.5h0M125.5 49.5h0M135.5 53.5h0M136.5 58.5h0M129.5 41.5h0M123.5 34.5h0M129.5 62.5h0M125.5 55.5h0M135.5 49.5h0M141.5 65.5h0M127.5 50.5h0M124.5 38.5h0M129.5 42.5h0M131.5 48.5h0M120.5 42.5h0M133.5 47.5h0M141.5 54.5h0M134.5 54.5h0M139.5 64.5h0M137.5 55.5h0M124.5 43.5h0M128.5 44.5h0M124.5 42.5h0M128.5 58.5h0M122.5 44.5h0M120.5 39.5h0M125.5 37.5h0M140.5 49.5h0M126.5 45.5h0M126.5 47.5h0M127.5 56.5h0M139.5 47.5h0M117.5 37.5h0M134.5 66.5h0M121.5 43.5h0M131.5 65.5h0M140.5 59.5h0M121.5 34.5h0M122.5 39.5h0M121.5 47.5h0M123.5 34.5h0M132.5 46.5h0M124.5 38.5h0M121.5 36.5h0M131.5 57.5h0M140.5 61.5h0M143.5 58.5h0M132.5 57.5h0M135.5 42.5h0M117.5 39.5h0M129.5 48.5h0M116.5 37.5h0M130.5 54.5h0M122.5 36.5h0M134.5 61.5h0M138.5 58.5h0M130.5 61.5h0M142.5 60.5h0M122.5 35.5h0M131.5 62.5h0M130.5 44.5h0M121.5 40.5h0M141.5 61.5h0M130.5 45.5h0M139.5 53.5h0M126.5 53.5h0M126.5 45.5h0M134.5 49.5h0M124.5 34.5h0M123.5 45.5h0M122.5 39.5h0M131.5 61.5h0M124.5 46.5h0M129.5 51.5h0M132.5 55.5h0M137.5 53.5h0M127.5 40.5h0M117.5 37.5h0M137.5 55.5h0M134.5 61.5h0M129.5 41.5h0M120.5 37.5h0M138.5 49.5h0M138.5 59.5h0M125.5 54.5h0M129.5 60.5h0M119.5 37.5h0M132.5 60.5h0M119.5 38.5h0M133.5 48.5h0M125.5 44.5h0M126.5 44.5h0M120.5 37.5h0M130.5 62.5h0M135.5 42.5h0M132.5 67.5h0M137.5 58.5h0M133.5 62.5h0M120.5 42.5h0M135.5 69.5h0M138.5 45.5h0M122.5 49.5h0M130.5 57.5h0M129.5 48.5h0M121.5 36.5h0M133.5 66.5h0M131.5 63.5h0M142.5 61.5h0M138.5 66.5h0M133.5 43.5h0M128.5 54.5h0M139.5 49.5h0M135.5 68.5h0M129.5 42.5h0M132.5 62.5h0M138.5 46.5h0M122.5 40.5h0M121.5 49.5h0M128.5 41.5h0M133.5 40.5h0M121.5 46.5h0M129.5 38.5h0M136.5 51.5h0M128.5 63.5h0M143.5 56.5h0M125.5 44.5h0M136.5 67.5h0M139.5 48.5h0M132.5 49.5h0M139.5 52.5h0M133.5 51.5h0M132.5 45.5h0M130.5 61.5h0M132.5 44.5h0M134.5 49.5h0M120.5 40.5h0M121.5 37.5h0M120.5 44.5h0M134.5 58.5h0M127.5 57.5h0M126.5 42.5h0M137.5 52.5h0M126.5 39.5h0M118.5 36.5h0M139.5 64.5h0M135.5 43.5h0M135.5 68.5h0M129.5 46.5h0M126.5 40.5h0M118.5 39.5h0M135.5 57.5h0M123.5 51.5h0M130.5 61.5h0M140.5 60.5h0M122.5 40.5h0M124.5 52.5h0M119.5 42.5h0M119.5 36.5h0M141.5 62.5h0M132.5 43.5h0M131.5 47.5h0M130.5 57.5h0M125.5 44.5h0M124.5 54.5h0M140.5 50.5h0M138.5 46.5h0M134.5 41.5h0M134.5 43.5h0M127.5 51.5h0M132.5 44.5h0M134.5 59.5h0M142.5 54.5h0M126.5 58.5h0M132.5 55.5h0M142.5 59.5h0M122.5 43.5h0M130.5 46.5h0M129.5 58.5h0M134.5 44.5h0M135.5 52.5h0M128.5 62.5h0M125.5 39.5h0M126.5 38.5h0M129.5 37.5h0M138.5 53.5h0M135.5 44.5h0M134.5 58.5h0M116.5 37.5h0M133.5 66.5h0M131.5 41.5h0M119.5 39.5h0M122.5 48.5h0M120.5 42.5h0M132.5 39.5h0M125.5 47.5h0M140.5 63.5h0M137.5 60.5h0M126.5 53.5h0M135.5 54.5h0M123.5 51.5h0M129.5 38.5h0M126.5 36.5h0M118.5 41.5h0M133.5 53.5h0M129.5 56.5h0M141.5 54.5h0M128.5 38.5h0M124.5 54.5h0M124.5 53.5h0M129.5 42.5h0M127.5 38.5h0M135.5 61.5h0M135.5 46.5h0M130.5 48.5h0M123.5 49.5h0M135.5 64.5h0M129.5 52.5h0M127.5 54.5h0M130.5 42.5h0M134.5 42.5h0M128.5 42.5h0M132.5 66.5h0M137.5 47.5h0M128.5 57.5h0M135.5 49.5h0M123.5 41.5h0M125.5 55.5h0M137.5 42.5h0M124.5 48.5h0M120.5 43.5h0M138.5 47.5h0M135.5 65.5h0M126.5 39.5h0M126.5 45.5h0M127.5 37.5h0M132.5 46.5h0M135.5 64.5h0M129.5 53.5h0M133.5 59.5h0M131.5 47.5h0M137.5 65.5h0M130.5 37.5h0M130.5 42.5h0M120.5 37.5h0M131.5 57.5h0M124.5 36.5h0M137.5 66.5h0M126.5 46.5h0M137.5 50.5h0M133.5 56.5h0M122.5 51.5h0M132.5 58.5h0M134.5 69.5h0M125.5 41.5h0M126.5 36.5h0M126.5 57.5h0M122.5 34.5h0M117.5 37.5h0M124.5 42.5h0M127.5 43.5h0M116.5 38.5h0M129.5 61.5h0M139.5 63.5h0M136.5 44.5h0M136.5 47.5h0M141.5 63.5h0M124.5 43.5h0M124.5 53.5h0M143.5 56.5h0M125.5 36.5h0M135.5 51.5h0M121.5 38.5h0M130.5 39.5h0M133.5 44.5h0M135.5 65.5h0M131.5 46.5h0M136.5 58.5h0M136.5 58.5h0M137.5 64.5h0M128.5 54.5h0M134.5 49.5h0M135.5 55.5h0M130.5 63.5h0M126.5 55.5h0M134.5 66.5h0M140.5 51.5h0M125.5 41.5h0M124.5 53.5h0M129.5 59.5h0M137.5 51.5h0M141.5 55.5h0M121.5 47.5h0M137.5 52.5h0M132.5 62.5h0M128.5 37.5h0M136.5 47.5h0M132.5 52.5h0M126.5 58.5h0M133.5 57.5h0M132.5 54.5h0M138.5 59.5h0M126.5 36.5h0M117.5 36.5h0M122.5 37.5h0M129.5 60.5h0M133.5 56.5h0M132.5 45.5h0M123.5 44.5h0M127.5 46.5h0M117.5 40.5h0M143.5 57.5h0M121.5 36.5h0M142.5 57.5h0M132.5 50.5h0M137.5 63.5h0M122.5 41.5h0M138.5 55.5h0M121.5 34.5h0M139.5 62.5h0M127.5 58.5h0M129.5 41.5h0M137.5 43.5h0M120.5 38.5h0M132.5 65.5h0M128.5 55.5h0M125.5 44.5h0M140.5 49.5h0M134.5 43.5h0M132.5 43.5h0M138.5 54.5h0M137.5 52.5h0M122.5 48.5h0M130.5 37.5h0M135.5 44.5h0M128.5 52.5h0M135.5 49.5h0M141.5 51.5h0M142.5 58.5h0M138.5 50.5h0M139.5 51.5h0M129.5 45.5h0M131.5 51.5h0M126.5 58.5h0M134.5 68.5h0M120.5 37.5h0M129.5 59.5h0M137.5 48.5h0M131.5 49.5h0M129.5 39.5h0M126.5 57.5h0M133.5 49.5h0M140.5 61.5h0M138.5 57.5h0M138.5 64.5h0M131.5 46.5h0M128.5 49.5h0M137.5 60.5h0M127.5 46.5h0M141.5 59.5h0M126.5 54.5h0M134.5 65.5h0M136.5 51.5h0M116.5 38.5h0M129.5 58.5h0M125.5 34.5h0M131.5 57.5h0M141.5 60.5h0M139.5 52.5h0M125.5 41.5h0M125.5 49.5h0M141.5 55.5h0M138.5 61.5h0M129.5 64.5h0M127.5 37.5h0M136.5 63.5h0M134.5 54.5h0M124.5 49.5h0M135.5 51.5h0M141.5 53.5h0M126.5 45.5h0M127.5 38.5h0M123.5 46.5h0M138.5 55.5h0M143.5 58.5h0M136.5 44.5h0M129.5 56.5h0M139.5 65.5h0M137.5 47.5h0M129.5 51.5h0M138.5 59.5h0M131.5 46.5h0M117.5 40.5h0M127.5 41.5h0M127.5 54.5h0M134.5 60.5h0M130.5 61.5h0M130.5 40.5h0M127.5 53.5h0M131.5 59.5h0M129.5 39.5h0M116.5 38.5h0M125.5 46.5h0M134.5 49.5h0M134.5 54.5h0M132.5 44.5h0M136.5 44.5h0M140.5 58.5h0M121.5 44.5h0M122.5 40.5h0M119.5 35.5h0M132.5 65.5h0M134.5 43.5h0M121.5 44.5h0M136.5 42.5h0M129.5 40.5h0M132.5 57.5h0M133.5 64.5h0M120.5 34.5h0M131.5 57.5h0M125.5 44.5h0M119.5 38.5h0M132.5 59.5h0M121.5 42.5h0M128.5 54.5h0M122.5 34.5h0M128.5 60.5h0M133.5 60.5h0M136.5 46.5h0M142.5 56.5h0M140.5 65.5h0M133.5 70.5h0M131.5 61.5h0M122.5 41.5h0M129.5 44.5h0M134.5 50.5h0M126.5 53.5h0M133.5 55.5h0M128.5 51.5h0M130.5 50.5h0M138.5 60.5h0M124.5 45.5h0M128.5 50.5h0M128.5 46.5h0M133.5 55.5h0M130.5 39.5h0M127.5 52.5h0M126.5 48.5h0M133.5 55.5h0M125.5 34.5h0M133.5 60.5h0M122.5 46.5h0M123.5 51.5h0M130.5 59.5h0M132.5 61.5h0M134.5 58.5h0M120.5 42.5h0M130.5 48.5h0M141.5 52.5h0M120.5 36.5h0M123.5 38.5h0M121.5 35.5h0M136.5 62.5h0M130.5 44.5h0M126.5 39.5h0M124.5 38.5h0M135.5 49.5h0M131.5 44.5h0M138.5 67.5h0M128.5 39.5h0M120.5 36.5h0M128.5 41.5h0M139.5 61.5h0M126.5 46.5h0M128.5 41.5h0M130.5 55.5h0M135.5 52.5h0M128.5 36.5h0M119.5 41.5h0M132.5 39.5h0M135.5 43.5h0M134.5 52.5h0M134.5 48.5h0M142.5 58.5h0M125.5 41.5h0M121.5 42.5h0M121.5 47.5h0M134.5 51.5h0M131.5 60.5h0M131.5 50.5h0M136.5 49.5h0M141.5 52.5h0M138.5 55.5h0M130.5 63.5h0M127.5 39.5h0M121.5 37.5h0M131.5 54.5h0M140.5 56.5h0M126.5 50.5h0M126.5 55.5h0M136.5 51.5h0M131.5 46.5h0M133.5 62.5h0M130.5 44.5h0M125.5 42.5h0M127.5 49.5h0M129.5 42.5h0M131.5 42.5h0M127.5 56.5h0M140.5 60.5h0M131.5 42.5h0M132.5 60.5h0M137.5 48.5h0M133.5 43.5h0M122.5 35.5h0M141.5 54.5h0M140.5 57.5h0M130.5 58.5h0M118.5 39.5h0M134.5 59.5h0M135.5 57.5h0M128.5 47.5h0M142.5 62.5h0M130.5 48.5h0M134.5 60.5h0M129.5 48.5h0M135.5 51.5h0M129.5 62.5h0M127.5 40.5h0M117.5 38.5h0M134.5 56.5h0M119.5 36.5h0M135.5 67.5h0M137.5 46.5h0M136.5 62.5h0M122.5 41.5h0M135.5 57.5h0M122.5 47.5h0M125.5 38.5h0M139.5 56.5h0M134.5 41.5h0M140.5 55.5h0M129.5 52.5h0M126.5 56.5h0M129.5 59.5h0M128.5 43.5h0M129.5 45.5h0M127.5 56.5h0M137.5 47.5h0M131.5 50.5h0M133.5 49.5h0M140.5 53.5h0M130.5 58.5h0M132.5 49.5h0M134.5 68.5h0M129.5 45.5h0M139.5 49.5h0M139.5 52.5h0M130.5 40.5h0M138.5 54.5h0M133.5 57.5h0M132.5 66.5h0M126.5 51.5h0M132.5 42.5h0M128.5 60.5h0M136.5 49.5h0M130.5 40.5h0M120.5 37.5h0M136.5 56.5h0M134.5 67.5h0M140.5 52.5h0M140.5 55.5h0M127.5 35.5h0M126.5 52.5h0M137.5 50.5h0M132.5 41.5h0M135.5 50.5h0M138.5 56.5h0M126.5 37.5h0M139.5 53.5h0M136.5 55.5h0M139.5 48.5h0M130.5 45.5h0M137.5 61.5h0M140.5 64.5h0M139.5 45.5h0M123.5 38.5h0M138.5 45.5h0M126.5 56.5h0M139.5 48.5h0" stroke="#1f77b4" stroke-width="1.25" stroke-linecap="square" fill="none"/>
<path d="M139.5 75.5h0M143.5 84.5h0M139.5 71.5h0M142.5 77.5h0M140.5 76.5h0M139.5 72.5h0M138.5 70.5h0M140.5 70.5h0M135.5 73.5h0M143.5 81.5h0M140.5 83.5h0M140.5 66.5h0M148.5 91.5h0M140.5 68.5h0M142.5 87.5h0M140.5 79.5h0M146.5 89.5h0M142.5 76.5h0M138.5 75.5h0M146.5 92.5h0M137.5 72.5h0M143.5 86.5h0M147.5 86.5h0M139.5 76.5h0M140.5 80.5h0M145.5 79.5h0M140.5 79.5h0M144.5 82.5h0M143.5 83.5h0M143.5 80.5h0M136.5 70.5h0M140.5 83.5h0M146.5 83.5h0M139.5 80.5h0M144.5 80.5h0M147.5 90.5h0M142.5 76.5h0M140.5 74.5h0M141.5 88.5h0M138.5 69.5h0M141.5 74.5h0M139.5 81.5h0M140.5 68.5h0M136.5 75.5h0M143.5 87.5h0M135.5 70.5h0M137.5 76.5h0M141.5 75.5h0M140.5 82.5h0M140.5 71.5h0M137.5 68.5h0M140.5 68.5h0M141.5 78.5h0M137.5 71.5h0M139.5 70.5h0M145.5 82.5h0M139.5 80.5h0M147.5 88.5h0M141.5 83.5h0M135.5 71.5h0M136.5 73.5h0M141.5 71.5h0M142.5 83.5h0M137.5 67.5h0M142.5 80.5h0M142.5 82.5h0M143.5 80.5h0M140.5 69.5h0M145.5 86.5h0M141.5 76.5h0M139.5 71.5h0M144.5 87.5h0M142.5 84.5h0M140.5 74.5h0M145.5 80.5h0M145.5 85.5h0M144.5 78.5h0M137.5 72.5h0M141.5 74.5h0M140.5 83.5h0M140.5 71.5h0M145.5 83.5h0M142.5 72.5h0M146.5 86.5h0M135.5 69.5h0M141.5 74.5h0M141.5 69.5h0M145.5 81.5h0M144.5 84.5h0M136.5 73.5h0M140.5 72.5h0M142.5 74.5h0M138.5 80.5h0M135.5 74.5h0M144.5 80.5h0M138.5 72.5h0M141.5 76.5h0M140.5 72.5h0M144.5 82.5h0M140.5 76.5h0M143.5 86.5h0M140.5 72.5h0M145.5 85.5h0M143.5 73.5h0M139.5 71.5h0M135.5 70.5h0M141.5 70.5h0M146.5 88.5h0M141.5 68.5h0M143.5 87.5h0M144.5 78.5h0M134.5 72.5h0M134.5 71.5h0M145.5 83.5h0M134.5 72.5h0M144.5 83.5h0M146.5 92.5h0M138.5 80.5h0M136.5 73.5h0M137.5 77.5h0" stroke="#1f77b4" stroke-width="1.2" stroke-linecap="square" fill="none"/>
<path d="M142.5 111.5h0M115.5 109.5h0M122.5 102.5h0M144.5 101.5h0M124.5 122.5h0M134.5 111.5h0M132.5 111.5h0M129.5 116.5h0M112.5 112.5h0M116.5 117.5h0M131.5 113.5h0M122.5 117.5h0M121.5 104.5h0M122.5 111.5h0M140.5 126.5h0M128.5 105.5h0M122.5 121.5h0M138.5 107.5h0M118.5 110.5h0M138.5 116.5h0M128.5 113.5h0M134.5 108.5h0M125.5 118.5h0M116.5 110.5h0M123.5 116.5h0M135.5 124.5h0M136.5 107.5h0M120.5 114.5h0M120.5 107.5h0M138.5 116.5h0M132.5 111.5h0M123.5 102.5h0M122.5 104.5h0M118.5 104.5h0M126.5 114.5h0M122.5 113.5h0M135.5 105.5h0M134.5 111.5h0M138.5 115.5h0M134.5 114.5h0M118.5 119.5h0M128.5 116.5h0M131.5 125.5h0M121.5 106.5h0M117.5 115.5h0M141.5 126.5h0M138.5 117.5h0M138.5 109.5h0M116.5 103.5h0M138.5 117.5h0M116.5 108.5h0M134.5 109.5h0M138.5 109.5h0M129.5 102.5h0M116.5 110.5h0M139.5 113.5h0M109.5 113.5h0M131.5 118.5h0M140.5 109.5h0M130.5 116.5h0M129.5 119.5h0M119.5 105.5h0M137.5 125.5h0M122.5 115.5h0M134.5 121.5h0M125.5 108.5h0M113.5 111.5h0M134.5 107.5h0M128.5 114.5h0M119.5 120.5h0M141.5 114.5h0M113.5 113.5h0M130.5 111.5h0M125.5 104.5h0M120.5 112.5h0M132.5 111.5h0M113.5 118.5h0M138.5 116.5h0M133.5 112.5h0M132.5 109.5h0M131.5 113.5h0M126.5 113.5h0M129.5 108.5h0M136.5 119.5h0M128.5 103.5h0M135.5 112.5h0M115.5 104.5h0M137.5 123.5h0M134.5 108.5h0M120.5 118.5h0M134.5 107.5h0M137.5 119.5h0M135.5 110.5h0M137.5 105.5h0M120.5 103.5h0M133.5 124.5h0M123.5 116.5h0M116.5 104.5h0M137.5 116.5h0M120.5 110.5h0M111.5 109.5h0M124.5 117.5h0M133.5 127.5h0M120.5 110.5h0M131.5 108.5h0M116.5 102.5h0M136.5 104.5h0M122.5 114.5h0M132.5 128.5h0M137.5 112.5h0M142.5 117.5h0M127.5 103.5h0M129.5 113.5h0M128.5 122.5h0M122.5 120.5h0M139.5 106.5h0M112.5 108.5h0M118.5 115.5h0M134.5 117.5h0M135.5 121.5h0M122.5 113.5h0M121.5 109.5h0M137.5 111.5h0M134.5 109.5h0M123.5 123.5h0M115.5 109.5h0M138.5 114.5h0M117.5 108.5h0M120.5 103.5h0M115.5 110.5h0M114.5 109.5h0M127.5 116.5h0M123.5 123.5h0M127.5 111.5h0M135.5 114.5h0M122.5 120.5h0M121.5 123.5h0M135.5 125.5h0M113.5 116.5h0M136.5 120.5h0M138.5 105.5h0M111.5 112.5h0M123.5 119.5h0M135.5 106.5h0M121.5 105.5h0M123.5 114.5h0M132.5 119.5h0M121.5 105.5h0M121.5 122.5h0M130.5 121.5h0M111.5 117.5h0M110.5 111.5h0M129.5 110.5h0M144.5 109.5h0M133.5 109.5h0M130.5 112.5h0M127.5 106.5h0M124.5 117.5h0M129.5 108.5h0M119.5 113.5h0M128.5 115.5h0M113.5 115.5h0M110.5 114.5h0M120.5 116.5h0M133.5 112.5h0M119.5 110.5h0M131.5 114.5h0M130.5 108.5h0M120.5 113.5h0M133.5 127.5h0M121.5 116.5h0M135.5 120.5h0M132.5 111.5h0M137.5 116.5h0M119.5 112.5h0M124.5 106.5h0M116.5 109.5h0M137.5 116.5h0M120.5 110.5h0M135.5 108.5h0M137.5 109.5h0M130.5 114.5h0M114.5 119.5h0M120.5 102.5h0M130.5 113.5h0M125.5 109.5h0M116.5 121.5h0M123.5 120.5h0M138.5 113.5h0M113.5 107.5h0M137.5 106.5h0M126.5 110.5h0M137.5 118.5h0M133.5 123.5h0M121.5 114.5h0M136.5 116.5h0M127.5 105.5h0M118.5 119.5h0M131.5 113.5h0M110.5 109.5h0M134.5 123.5h0M122.5 117.5h0M114.5 106.5h0M137.5 115.5h0M136.5 116.5h0M116.5 121.5h0M120.5 112.5h0M133.5 115.5h0M127.5 118.5h0M137.5 106.5h0M135.5 124.5h0M119.5 113.5h0M111.5 114.5h0M120.5 120.5h0M134.5 108.5h0M114.5 111.5h0M131.5 109.5h0M137.5 113.5h0M114.5 118.5h0M130.5 120.5h0M122.5 117.5h0M116.5 118.5h0M128.5 118.5h0M134.5 118.5h0M121.5 115.5h0M127.5 116.5h0M135.5 118.5h0M137.5 108.5h0M123.5 103.5h0M118.5 104.5h0M121.5 115.5h0M143.5 113.5h0M117.5 116.5h0M124.5 120.5h0M129.5 108.5h0M117.5 118.5h0M131.5 111.5h0M121.5 102.5h0M123.5 114.5h0M130.5 115.5h0M137.5 125.5h0M133.5 124.5h0M130.5 112.5h0M128.5 107.5h0M130.5 119.5h0M113.5 105.5h0M144.5 110.5h0M133.5 107.5h0M110.5 115.5h0M132.5 127.5h0M120.5 106.5h0M126.5 101.5h0M134.5 127.5h0M133.5 124.5h0M136.5 113.5h0M130.5 119.5h0M113.5 109.5h0M111.5 116.5h0M137.5 107.5h0M139.5 105.5h0M128.5 116.5h0M121.5 108.5h0M120.5 114.5h0M138.5 117.5h0M129.5 117.5h0M116.5 108.5h0M141.5 118.5h0M128.5 117.5h0M138.5 108.5h0M123.5 103.5h0M133.5 106.5h0M126.5 117.5h0M132.5 112.5h0M116.5 110.5h0M123.5 102.5h0M137.5 110.5h0M119.5 109.5h0M127.5 109.5h0M134.5 119.5h0M117.5 117.5h0M131.5 126.5h0M124.5 117.5h0M135.5 121.5h0M111.5 116.5h0M120.5 103.5h0M117.5 114.5h0M136.5 109.5h0M142.5 112.5h0M114.5 115.5h0M122.5 114.5h0M134.5 106.5h0M118.5 116.5h0M111.5 109.5h0M133.5 108.5h0M140.5 113.5h0M125.5 115.5h0M122.5 121.5h0M128.5 106.5h0M134.5 110.5h0M127.5 116.5h0M133.5 125.5h0M122.5 120.5h0M122.5 114.5h0M134.5 109.5h0M134.5 123.5h0M117.5 119.5h0M123.5 102.5h0M121.5 109.5h0M132.5 119.5h0M141.5 109.5h0M126.5 117.5h0M134.5 112.5h0M120.5 117.5h0M140.5 108.5h0M134.5 114.5h0M112.5 112.5h0M114.5 106.5h0M127.5 102.5h0M128.5 116.5h0M135.5 114.5h0M140.5 109.5h0M122.5 112.5h0M118.5 114.5h0M140.5 112.5h0M141.5 114.5h0M116.5 109.5h0M123.5 116.5h0M124.5 118.5h0M114.5 118.5h0M133.5 107.5h0M117.5 120.5h0M134.5 107.5h0M121.5 102.5h0M130.5 109.5h0M134.5 126.5h0M119.5 120.5h0M129.5 107.5h0M115.5 107.5h0M118.5 108.5h0M122.5 112.5h0M135.5 108.5h0M116.5 105.5h0M120.5 105.5h0M135.5 121.5h0M130.5 113.5h0M119.5 115.5h0M133.5 120.5h0M125.5 118.5h0M123.5 105.5h0M139.5 110.5h0M131.5 125.5h0M137.5 120.5h0M136.5 107.5h0M119.5 118.5h0M137.5 109.5h0M133.5 115.5h0M118.5 107.5h0M115.5 105.5h0M137.5 112.5h0M135.5 113.5h0M123.5 102.5h0M114.5 108.5h0M131.5 116.5h0M139.5 111.5h0M121.5 105.5h0M115.5 108.5h0M109.5 119.5h0M113.5 113.5h0M123.5 107.5h0M112.5 116.5h0M134.5 112.5h0M118.5 120.5h0M118.5 117.5h0M131.5 112.5h0M128.5 116.5h0M137.5 111.5h0M136.5 116.5h0M130.5 110.5h0M128.5 118.5h0M119.5 120.5h0M127.5 105.5h0M120.5 104.5h0M118.5 111.5h0M131.5 109.5h0M129.5 115.5h0M134.5 107.5h0M128.5 116.5h0M134.5 114.5h0M130.5 117.5h0M130.5 110.5h0M118.5 116.5h0M137.5 128.5h0M125.5 112.5h0M135.5 105.5h0M135.5 120.5h0M110.5 115.5h0M135.5 114.5h0M119.5 120.5h0M113.5 106.5h0M121.5 113.5h0M119.5 111.5h0M134.5 113.5h0M136.5 115.5h0M123.5 109.5h0M130.5 110.5h0M115.5 116.5h0M111.5 114.5h0M142.5 109.5h0M130.5 119.5h0M126.5 101.5h0M113.5 105.5h0M135.5 111.5h0M136.5 119.5h0M137.5 121.5h0M135.5 112.5h0M126.5 110.5h0M124.5 116.5h0M121.5 107.5h0M122.5 113.5h0M117.5 116.5h0M122.5 102.5h0M125.5 122.5h0M126.5 114.5h0M135.5 111.5h0M117.5 120.5h0M139.5 108.5h0M136.5 111.5h0M116.5 106.5h0M118.5 110.5h0M133.5 113.5h0M124.5 120.5h0M143.5 108.5h0M121.5 112.5h0M127.5 110.5h0M120.5 118.5h0M110.5 104.5h0M132.5 111.5h0M134.5 109.5h0M131.5 104.5h0M117.5 107.5h0M144.5 111.5h0M115.5 107.5h0M132.5 115.5h0M123.5 106.5h0M133.5 115.5h0M138.5 114.5h0M116.5 106.5h0M134.5 109.5h0M125.5 117.5h0M135.5 105.5h0M114.5 107.5h0M124.5 108.5h0M132.5 120.5h0M119.5 103.5h0M131.5 113.5h0M135.5 108.5h0M134.5 108.5h0M135.5 127.5h0M115.5 112.5h0M125.5 122.5h0M120.5 108.5h0M122.5 105.5h0M139.5 117.5h0M115.5 105.5h0M119.5 101.5h0M117.5 104.5h0M124.5 116.5h0M136.5 117.5h0M143.5 110.5h0M112.5 117.5h0M133.5 111.5h0M115.5 120.5h0M115.5 120.5h0M137.5 110.5h0M127.5 103.5h0M133.5 106.5h0M119.5 116.5h0M128.5 109.5h0M141.5 112.5h0M126.5 113.5h0M115.5 119.5h0M117.5 118.5h0M117.5 118.5h0M127.5 117.5h0M121.5 119.5h0M131.5 110.5h0M116.5 103.5h0M141.5 107.5h0M130.5 105.5h0M138.5 105.5h0M126.5 104.5h0M138.5 122.5h0M118.5 103.5h0M135.5 107.5h0M137.5 111.5h0M133.5 120.5h0M114.5 108.5h0M128.5 117.5h0M133.5 124.5h0M115.5 110.5h0M133.5 125.5h0M111.5 111.5h0M130.5 123.5h0M131.5 113.5h0M140.5 106.5h0M130.5 112.5h0M122.5 104.5h0M118.5 115.5h0M118.5 113.5h0M135.5 107.5h0M120.5 105.5h0M129.5 113.5h0M126.5 122.5h0M119.5 115.5h0M115.5 119.5h0M135.5 119.5h0M119.5 112.5h0M133.5 107.5h0M110.5 116.5h0M137.5 108.5h0M116.5 114.5h0M120.5 120.5h0M118.5 102.5h0M122.5 111.5h0M115.5 119.5h0M119.5 114.5h0M131.5 107.5h0M136.5 111.5h0M125.5 101.5h0M138.5 118.5h0M132.5 111.5h0M136.5 106.5h0M124.5 116.5h0M134.5 113.5h0M130.5 121.5h0M124.5 107.5h0M111.5 108.5h0M137.5 119.5h0M139.5 107.5h0M126.5 116.5h0M136.5 116.5h0M131.5 118.5h0M141.5 113.5h0M128.5 118.5h0M121.5 115.5h0M123.5 113.5h0M118.5 118.5h0M119.5 110.5h0M139.5 110.5h0M134.5 125.5h0M124.5 102.5h0M127.5 110.5h0M135.5 112.5h0M121.5 116.5h0M134.5 110.5h0M138.5 107.5h0M126.5 104.5h0M113.5 112.5h0M120.5 109.5h0M121.5 104.5h0M123.5 111.5h0M116.5 109.5h0M133.5 126.5h0M121.5 110.5h0M121.5 109.5h0M124.5 119.5h0M128.5 107.5h0M127.5 114.5h0M133.5 107.5h0M116.5 118.5h0M116.5 111.5h0M136.5 116.5h0M107.5 114.5h0M126.5 103.5h0M133.5 111.5h0M121.5 112.5h0M124.5 116.5h0M138.5 111.5h0M140.5 112.5h0M124.5 101.5h0M126.5 113.5h0M120.5 110.5h0M130.5 107.5h0M135.5 116.5h0M128.5 104.5h0M129.5 119.5h0M120.5 115.5h0M125.5 117.5h0M136.5 116.5h0M130.5 122.5h0M135.5 112.5h0M131.5 106.5h0M133.5 111.5h0M134.5 128.5h0M131.5 120.5h0M143.5 112.5h0M140.5 117.5h0M129.5 115.5h0M123.5 114.5h0M128.5 112.5h0M118.5 106.5h0M129.5 119.5h0M135.5 106.5h0M116.5 112.5h0M122.5 122.5h0M133.5 126.5h0M141.5 112.5h0M122.5 106.5h0M132.5 111.5h0M134.5 108.5h0M115.5 107.5h0M134.5 113.5h0M113.5 109.5h0M121.5 110.5h0M136.5 109.5h0M116.5 115.5h0M125.5 118.5h0M119.5 106.5h0M114.5 119.5h0M134.5 115.5h0M138.5 111.5h0M119.5 114.5h0M135.5 105.5h0M139.5 109.5h0M125.5 114.5h0M139.5 125.5h0M110.5 119.5h0M120.5 104.5h0M130.5 120.5h0M136.5 115.5h0M113.5 121.5h0M142.5 113.5h0M137.5 115.5h0M134.5 107.5h0M126.5 107.5h0M120.5 116.5h0M135.5 123.5h0M111.5 112.5h0M124.5 120.5h0M136.5 109.5h0M119.5 115.5h0M121.5 112.5h0M137.5 108.5h0M128.5 113.5h0M120.5 116.5h0M128.5 122.5h0M115.5 115.5h0M138.5 105.5h0M134.5 109.5h0M134.5 121.5h0M115.5 114.5h0M140.5 110.5h0M116.5 102.5h0M121.5 107.5h0M124.5 109.5h0M137.5 114.5h0M125.5 123.5h0M113.5 112.5h0M111.5 109.5h0M141.5 107.5h0M119.5 121.5h0M121.5 111.5h0M136.5 115.5h0M113.5 112.5h0M138.5 115.5h0M135.5 107.5h0M119.5 120.5h0M135.5 126.5h0M138.5 105.5h0M116.5 120.5h0M124.5 103.5h0M115.5 115.5h0M122.5 108.5h0M136.5 114.5h0M131.5 113.5h0M134.5 120.5h0M135.5 106.5h0M137.5 107.5h0M133.5 117.5h0M117.5 102.5h0M133.5 121.5h0M125.5 112.5h0M133.5 112.5h0M128.5 113.5h0M139.5 108.5h0M130.5 109.5h0M120.5 108.5h0M122.5 106.5h0M119.5 116.5h0M121.5 114.5h0M127.5 110.5h0M123.5 106.5h0M134.5 112.5h0M119.5 118.5h0M124.5 111.5h0M124.5 107.5h0M117.5 110.5h0M135.5 109.5h0M135.5 110.5h0M128.5 110.5h0M134.5 116.5h0M134.5 108.5h0M131.5 110.5h0M119.5 113.5h0M129.5 102.5h0M135.5 127.5h0M131.5 120.5h0M126.5 118.5h0M139.5 111.5h0M123.5 107.5h0M134.5 108.5h0M141.5 113.5h0M115.5 120.5h0M129.5 120.5h0M135.5 106.5h0M130.5 111.5h0M126.5 109.5h0M122.5 117.5h0M134.5 110.5h0M131.5 112.5h0M138.5 113.5h0M128.5 106.5h0M140.5 109.5h0M135.5 127.5h0M116.5 114.5h0M134.5 118.5h0M120.5 105.5h0M131.5 127.5h0M123.5 116.5h0M135.5 122.5h0M114.5 110.5h0M125.5 117.5h0M133.5 108.5h0M134.5 106.5h0M137.5 110.5h0M139.5 112.5h0M137.5 115.5h0M134.5 120.5h0M126.5 108.5h0M114.5 114.5h0M122.5 112.5h0M117.5 114.5h0M126.5 118.5h0M121.5 121.5h0M122.5 109.5h0M131.5 108.5h0M123.5 111.5h0M134.5 121.5h0M135.5 119.5h0M132.5 124.5h0M126.5 106.5h0M122.5 116.5h0M134.5 107.5h0M126.5 112.5h0M121.5 112.5h0M135.5 118.5h0M122.5 120.5h0M125.5 119.5h0M137.5 114.5h0M119.5 107.5h0M138.5 110.5h0M123.5 103.5h0M138.5 105.5h0M139.5 103.5h0M119.5 112.5h0M133.5 119.5h0M123.5 101.5h0M123.5 103.5h0M117.5 117.5h0M112.5 112.5h0M121.5 104.5h0M119.5 109.5h0M139.5 117.5h0M121.5 114.5h0M130.5 115.5h0M134.5 109.5h0M110.5 115.5h0M136.5 114.5h0M124.5 102.5h0M136.5 109.5h0M131.5 128.5h0M142.5 128.5h0M136.5 106.5h0M128.5 124.5h0M120.5 120.5h0M120.5 110.5h0M122.5 103.5h0M114.5 105.5h0M135.5 106.5h0M139.5 115.5h0M123.5 106.5h0M137.5 116.5h0M123.5 119.5h0M137.5 112.5h0M120.5 102.5h0M128.5 116.5h0M123.5 102.5h0M121.5 109.5h0M137.5 113.5h0M120.5 117.5h0" stroke="#ff7f0e" stroke-width="1.2" stroke-linecap="square" fill="none"/>
<path d="M107.5 130.5h0M117.5 135.5h0M112.5 130.5h0M105.5 135.5h0M108.5 139.5h0M112.5 123.5h0M116.5 135.5h0M109.5 125.5h0M110.5 139.5h0M109.5 136.5h0M109.5 131.5h0M100.5 126.5h0M104.5 128.5h0M103.5 139.5h0M103.5 137.5h0M109.5 132.5h0M114.5 131.5h0M109.5 130.5h0M110.5 131.5h0M113.5 130.5h0M110.5 138.5h0M104.5 137.5h0M107.5 140.5h0M116.5 134.5h0M106.5 139.5h0M108.5 134.5h0M107.5 127.5h0M112.5 132.5h0M105.5 124.5h0M116.5 129.5h0M100.5 132.5h0M111.5 134.5h0M105.5 122.5h0M100.5 133.5h0M114.5 138.5h0M105.5 136.5h0M114.5 129.5h0M106.5 136.5h0M112.5 124.5h0M111.5 132.5h0M118.5 136.5h0M110.5 128.5h0M111.5 141.5h0M112.5 139.5h0M109.5 141.5h0M107.5 139.5h0M106.5 135.5h0M105.5 121.5h0M103.5 137.5h0M103.5 132.5h0M104.5 138.5h0M109.5 137.5h0M113.5 135.5h0M102.5 130.5h0M103.5 132.5h0M105.5 137.5h0M105.5 139.5h0M111.5 139.5h0M115.5 131.5h0M102.5 132.5h0M99.5 131.5h0M102.5 125.5h0M115.5 133.5h0M105.5 129.5h0M104.5 133.5h0M106.5 134.5h0M108.5 134.5h0M103.5 138.5h0M108.5 141.5h0M110.5 138.5h0M110.5 135.5h0M111.5 129.5h0M111.5 137.5h0M108.5 135.5h0M112.5 133.5h0M110.5 142.5h0M115.5 134.5h0M103.5 130.5h0M115.5 130.5h0M106.5 130.5h0M108.5 122.5h0M112.5 138.5h0M114.5 137.5h0M106.5 141.5h0M109.5 138.5h0M108.5 138.5h0M108.5 123.5h0M106.5 139.5h0M123.5 134.5h0M117.5 130.5h0M101.5 136.5h0M109.5 138.5h0M118.5 136.5h0M108.5 130.5h0M113.5 129.5h0M106.5 135.5h0M110.5 132.5h0M113.5 129.5h0M109.5 132.5h0M107.5 139.5h0M111.5 138.5h0M106.5 128.5h0M112.5 132.5h0M104.5 127.5h0M111.5 137.5h0M116.5 134.5h0M107.5 127.5h0M112.5 133.5h0M119.5 140.5h0M111.5 139.5h0M110.5 138.5h0M111.5 128.5h0M110.5 137.5h0M115.5 135.5h0M117.5 135.5h0M101.5 134.5h0M110.5 130.5h0M108.5 142.5h0M102.5 130.5h0M100.5 129.5h0M110.5 134.5h0M107.5 129.5h0M104.5 132.5h0M110.5 134.5h0M115.5 132.5h0M110.5 128.5h0M113.5 130.5h0M102.5 126.5h0M107.5 138.5h0M108.5 129.5h0M107.5 127.5h0M107.5 140.5h0M102.5 124.5h0M110.5 140.5h0M111.5 133.5h0M108.5 134.5h0M105.5 131.5h0M102.5 137.5h0M108.5 121.5h0M104.5 134.5h0M103.5 132.5h0M116.5 135.5h0M105.5 136.5h0M97.5 129.5h0M107.5 136.5h0M104.5 123.5h0M103.5 126.5h0M99.5 127.5h0M107.5 138.5h0M105.5 137.5h0M110.5 135.5h0M110.5 128.5h0M106.5 141.5h0M109.5 127.5h0M116.5 131.5h0M100.5 125.5h0M101.5 134.5h0M107.5 129.5h0M102.5 133.5h0M107.5 140.5h0M114.5 135.5h0M107.5 140.5h0M108.5 133.5h0M111.5 128.5h0M104.5 133.5h0M110.5 135.5h0M111.5 140.5h0M116.5 138.5h0M108.5 132.5h0M110.5 139.5h0M110.5 140.5h0M109.5 139.5h0M103.5 138.5h0M108.5 124.5h0M109.5 142.5h0M101.5 130.5h0M109.5 138.5h0M103.5 129.5h0M106.5 128.5h0M105.5 129.5h0M113.5 132.5h0M100.5 129.5h0M117.5 132.5h0M105.5 140.5h0M101.5 126.5h0M102.5 137.5h0M114.5 136.5h0M110.5 127.5h0M103.5 133.5h0M112.5 126.5h0M103.5 129.5h0M107.5 126.5h0M103.5 136.5h0M109.5 142.5h0M108.5 127.5h0M109.5 126.5h0M102.5 137.5h0M109.5 128.5h0M105.5 140.5h0M102.5 135.5h0M108.5 137.5h0M109.5 123.5h0M105.5 136.5h0M115.5 130.5h0M116.5 139.5h0M112.5 129.5h0M113.5 131.5h0M113.5 135.5h0M117.5 134.5h0M106.5 136.5h0M103.5 137.5h0M116.5 135.5h0M112.5 141.5h0M114.5 138.5h0M114.5 134.5h0M102.5 133.5h0M107.5 140.5h0M109.5 125.5h0M102.5 125.5h0M110.5 127.5h0M114.5 124.5h0M113.5 139.5h0M108.5 139.5h0M113.5 131.5h0M107.5 122.5h0M115.5 130.5h0M106.5 136.5h0M115.5 128.5h0M108.5 128.5h0M113.5 135.5h0M114.5 139.5h0M112.5 139.5h0M114.5 132.5h0M109.5 133.5h0M118.5 137.5h0M98.5 139.5h0M100.5 134.5h0M109.5 140.5h0M107.5 123.5h0M110.5 134.5h0M110.5 141.5h0M111.5 132.5h0M99.5 122.5h0M102.5 125.5h0M103.5 138.5h0M109.5 134.5h0M111.5 122.5h0M109.5 125.5h0M108.5 125.5h0M110.5 130.5h0M110.5 123.5h0M108.5 134.5h0M111.5 126.5h0M101.5 131.5h0M115.5 134.5h0M114.5 131.5h0M106.5 124.5h0M110.5 130.5h0M110.5 138.5h0M106.5 139.5h0M102.5 127.5h0M113.5 132.5h0M107.5 136.5h0M104.5 126.5h0M108.5 139.5h0M109.5 139.5h0M108.5 127.5h0M113.5 130.5h0M111.5 140.5h0M102.5 134.5h0M111.5 139.5h0M115.5 133.5h0M106.5 127.5h0M107.5 140.5h0M110.5 132.5h0M108.5 134.5h0M109.5 124.5h0M103.5 137.5h0M110.5 129.5h0M110.5 130.5h0M111.5 132.5h0M116.5 143.5h0M107.5 123.5h0M108.5 142.5h0M109.5 132.5h0M102.5 127.5h0M106.5 129.5h0M112.5 134.5h0M101.5 126.5h0M117.5 128.5h0M110.5 131.5h0M102.5 136.5h0M115.5 135.5h0M105.5 139.5h0M101.5 134.5h0M107.5 139.5h0M107.5 127.5h0M109.5 131.5h0M106.5 137.5h0M112.5 126.5h0M109.5 136.5h0M107.5 129.5h0M113.5 141.5h0M103.5 125.5h0M114.5 138.5h0M110.5 127.5h0M115.5 134.5h0M116.5 135.5h0M110.5 128.5h0M100.5 134.5h0M107.5 129.5h0M107.5 124.5h0M98.5 128.5h0M112.5 132.5h0M108.5 128.5h0M101.5 131.5h0M104.5 137.5h0M107.5 129.5h0M100.5 140.5h0M109.5 132.5h0M113.5 139.5h0M107.5 134.5h0M103.5 129.5h0M102.5 134.5h0M111.5 139.5h0M101.5 131.5h0M111.5 141.5h0M110.5 131.5h0M104.5 134.5h0M113.5 138.5h0M107.5 129.5h0M110.5 128.5h0M114.5 138.5h0M100.5 124.5h0M114.5 137.5h0M108.5 129.5h0M115.5 136.5h0M107.5 134.5h0M110.5 140.5h0M102.5 132.5h0M104.5 132.5h0M109.5 141.5h0M108.5 127.5h0M102.5 131.5h0M115.5 131.5h0M115.5 133.5h0M107.5 136.5h0M110.5 120.5h0M105.5 139.5h0M107.5 134.5h0M106.5 126.5h0M103.5 132.5h0M107.5 138.5h0M102.5 126.5h0M109.5 126.5h0M111.5 139.5h0M106.5 135.5h0M101.5 129.5h0M115.5 137.5h0M111.5 132.5h0M110.5 130.5h0M113.5 134.5h0M104.5 138.5h0M110.5 137.5h0M110.5 128.5h0M118.5 138.5h0M105.5 137.5h0M109.5 125.5h0M109.5 137.5h0M112.5 141.5h0M115.5 134.5h0M101.5 132.5h0M108.5 137.5h0M103.5 133.5h0M111.5 134.5h0M106.5 125.5h0M110.5 128.5h0M113.5 136.5h0M101.5 135.5h0M109.5 134.5h0M106.5 121.5h0M112.5 133.5h0M108.5 129.5h0M106.5 138.5h0M109.5 129.5h0M113.5 137.5h0M115.5 137.5h0M110.5 141.5h0M106.5 136.5h0M112.5 140.5h0M114.5 132.5h0M110.5 140.5h0M114.5 127.5h0M103.5 129.5h0M114.5 131.5h0M108.5 124.5h0M112.5 122.5h0M116.5 136.5h0M116.5 135.5h0M102.5 136.5h0M115.5 127.5h0M113.5 129.5h0M104.5 135.5h0M106.5 130.5h0M106.5 137.5h0M106.5 132.5h0M103.5 130.5h0M105.5 132.5h0M104.5 131.5h0M115.5 135.5h0M107.5 136.5h0M109.5 128.5h0M101.5 128.5h0M101.5 128.5h0M110.5 135.5h0M113.5 128.5h0M115.5 134.5h0M108.5 130.5h0M118.5 134.5h0M114.5 136.5h0M116.5 136.5h0M102.5 132.5h0M107.5 128.5h0M114.5 139.5h0M109.5 139.5h0M107.5 140.5h0M104.5 139.5h0M113.5 122.5h0M114.5 130.5h0M116.5 136.5h0M101.5 137.5h0M108.5 141.5h0M106.5 135.5h0M108.5 124.5h0M114.5 127.5h0M112.5 134.5h0M109.5 141.5h0M107.5 135.5h0M110.5 134.5h0M107.5 129.5h0M107.5 128.5h0M118.5 134.5h0M115.5 127.5h0M111.5 140.5h0M116.5 135.5h0M100.5 130.5h0M105.5 127.5h0M103.5 134.5h0M113.5 133.5h0M107.5 140.5h0M106.5 130.5h0M109.5 131.5h0M106.5 121.5h0M108.5 139.5h0M108.5 141.5h0M111.5 127.5h0M104.5 122.5h0M102.5 134.5h0M110.5 132.5h0M112.5 141.5h0M99.5 137.5h0M117.5 136.5h0M108.5 124.5h0M112.5 138.5h0M105.5 127.5h0M110.5 133.5h0M103.5 137.5h0M106.5 138.5h0M114.5 136.5h0M105.5 126.5h0M117.5 138.5h0M106.5 136.5h0M107.5 129.5h0M109.5 140.5h0M109.5 139.5h0M114.5 138.5h0M115.5 140.5h0M111.5 132.5h0M107.5 141.5h0M117.5 123.5h0" stroke="#d62728" stroke-width="1.2" stroke-linecap="square" fill="none"/>
<path d="M76.5 104.5h0M62.5 110.5h0M74.5 111.5h0M75.5 104.5h0M69.5 106.5h0M78.5 108.5h0M83.5 111.5h0M67.5 107.5h0M85.5 108.5h0M74.5 108.5h0M65.5 111.5h0M71.5 110.5h0M67.5 112.5h0M82.5 110.5h0M78.5 103.5h0M78.5 102.5h0M67.5 109.5h0M70.5 110.5h0M75.5 110.5h0M71.5 111.5h0M64.5 111.5h0M79.5 106.5h0M79.5 107.5h0M58.5 112.5h0M67.5 112.5h0M62.5 113.5h0M86.5 110.5h0M70.5 112.5h0M58.5 114.5h0M81.5 107.5h0M72.5 109.5h0M78.5 107.5h0M77.5 110.5h0M75.5 109.5h0M65.5 109.5h0M73.5 111.5h0M66.5 112.5h0M83.5 106.5h0M75.5 104.5h0M81.5 111.5h0M70.5 109.5h0M79.5 104.5h0M76.5 109.5h0M62.5 112.5h0M59.5 114.5h0M79.5 104.5h0M60.5 114.5h0M68.5 113.5h0M66.5 113.5h0M59.5 111.5h0M56.5 114.5h0M58.5 114.5h0M71.5 109.5h0M74.5 108.5h0M59.5 110.5h0M73.5 106.5h0M67.5 109.5h0M73.5 111.5h0M82.5 110.5h0M61.5 108.5h0M64.5 108.5h0M63.5 109.5h0M81.5 104.5h0M61.5 115.5h0M72.5 111.5h0M83.5 111.5h0M68.5 110.5h0M79.5 109.5h0M80.5 108.5h0M63.5 110.5h0M59.5 111.5h0M85.5 109.5h0M65.5 108.5h0M70.5 113.5h0M60.5 111.5h0M71.5 107.5h0M61.5 115.5h0M73.5 108.5h0M80.5 108.5h0M67.5 109.5h0M81.5 110.5h0M70.5 111.5h0M82.5 106.5h0M60.5 114.5h0M57.5 110.5h0M59.5 108.5h0M68.5 110.5h0M63.5 113.5h0M76.5 104.5h0M75.5 104.5h0M77.5 103.5h0M79.5 102.5h0M57.5 114.5h0M58.5 110.5h0M87.5 111.5h0M56.5 110.5h0M63.5 113.5h0M80.5 109.5h0M82.5 105.5h0M73.5 110.5h0M60.5 110.5h0M61.5 109.5h0M76.5 106.5h0M70.5 108.5h0M71.5 112.5h0M75.5 105.5h0M73.5 104.5h0M73.5 109.5h0M58.5 115.5h0M62.5 116.5h0M78.5 108.5h0M65.5 114.5h0M64.5 111.5h0M62.5 108.5h0M81.5 110.5h0M73.5 105.5h0M80.5 102.5h0M63.5 109.5h0M75.5 105.5h0M72.5 107.5h0M65.5 112.5h0M85.5 111.5h0M69.5 112.5h0M79.5 109.5h0M75.5 103.5h0M58.5 115.5h0M72.5 111.5h0M78.5 104.5h0M80.5 105.5h0M79.5 102.5h0M62.5 113.5h0M62.5 114.5h0M65.5 109.5h0M64.5 111.5h0M81.5 110.5h0M59.5 113.5h0M62.5 114.5h0M78.5 107.5h0M61.5 113.5h0M71.5 106.5h0M69.5 110.5h0M60.5 116.5h0M61.5 115.5h0M71.5 112.5h0M74.5 109.5h0M74.5 110.5h0M78.5 107.5h0M77.5 106.5h0M55.5 112.5h0M73.5 107.5h0M56.5 113.5h0M70.5 107.5h0M80.5 108.5h0M57.5 111.5h0M76.5 102.5h0M62.5 114.5h0M79.5 108.5h0M84.5 107.5h0M67.5 112.5h0M72.5 106.5h0M80.5 102.5h0M68.5 111.5h0M73.5 111.5h0M83.5 108.5h0M58.5 115.5h0M59.5 108.5h0M84.5 112.5h0M60.5 116.5h0M81.5 108.5h0M86.5 109.5h0M60.5 111.5h0M65.5 110.5h0M67.5 112.5h0M61.5 112.5h0M71.5 110.5h0M64.5 111.5h0M59.5 111.5h0M62.5 116.5h0M84.5 107.5h0M59.5 112.5h0M73.5 106.5h0M77.5 105.5h0M61.5 115.5h0M70.5 112.5h0M64.5 113.5h0M77.5 107.5h0M60.5 109.5h0M68.5 108.5h0M74.5 110.5h0M80.5 104.5h0M58.5 114.5h0M77.5 107.5h0M65.5 110.5h0M62.5 114.5h0M67.5 110.5h0M72.5 106.5h0M79.5 105.5h0M62.5 114.5h0M74.5 108.5h0M72.5 110.5h0M68.5 111.5h0M83.5 109.5h0M68.5 105.5h0M70.5 109.5h0M86.5 112.5h0M72.5 110.5h0M65.5 109.5h0M62.5 107.5h0M58.5 114.5h0M77.5 103.5h0M72.5 108.5h0M71.5 108.5h0M57.5 110.5h0M78.5 109.5h0M70.5 112.5h0M80.5 108.5h0M69.5 107.5h0M71.5 106.5h0M73.5 107.5h0M65.5 111.5h0M64.5 116.5h0M76.5 108.5h0M86.5 110.5h0M63.5 107.5h0M83.5 107.5h0M85.5 108.5h0M63.5 109.5h0M86.5 110.5h0M84.5 111.5h0M65.5 107.5h0M76.5 104.5h0M71.5 106.5h0M73.5 108.5h0M78.5 110.5h0M70.5 108.5h0M60.5 108.5h0M55.5 111.5h0M70.5 108.5h0M83.5 106.5h0M73.5 107.5h0M79.5 101.5h0M75.5 107.5h0M56.5 112.5h0M64.5 110.5h0M65.5 112.5h0M78.5 103.5h0M78.5 109.5h0M69.5 108.5h0M57.5 112.5h0M68.5 108.5h0M82.5 108.5h0M82.5 108.5h0M78.5 109.5h0M77.5 108.5h0M80.5 103.5h0M67.5 112.5h0M70.5 107.5h0M66.5 110.5h0M82.5 106.5h0M72.5 109.5h0M76.5 105.5h0M73.5 107.5h0M61.5 116.5h0M77.5 104.5h0M63.5 109.5h0M74.5 110.5h0M60.5 110.5h0M84.5 109.5h0M60.5 108.5h0M75.5 105.5h0M56.5 114.5h0M67.5 107.5h0M61.5 109.5h0M64.5 113.5h0M76.5 107.5h0M64.5 107.5h0M82.5 109.5h0M66.5 111.5h0M78.5 104.5h0M61.5 113.5h0M57.5 116.5h0M59.5 116.5h0M86.5 112.5h0M73.5 104.5h0M61.5 116.5h0M79.5 107.5h0M82.5 109.5h0M82.5 110.5h0M87.5 110.5h0M65.5 109.5h0M73.5 107.5h0M63.5 110.5h0M82.5 108.5h0M60.5 113.5h0M73.5 109.5h0M75.5 105.5h0M79.5 103.5h0M83.5 106.5h0M78.5 109.5h0M55.5 112.5h0M58.5 109.5h0M81.5 109.5h0M84.5 110.5h0M64.5 112.5h0M82.5 110.5h0M61.5 107.5h0M60.5 114.5h0M71.5 110.5h0M82.5 109.5h0M60.5 110.5h0M83.5 108.5h0M73.5 110.5h0M57.5 112.5h0M62.5 114.5h0M70.5 108.5h0M63.5 110.5h0M58.5 114.5h0M81.5 109.5h0M74.5 108.5h0M74.5 106.5h0M63.5 110.5h0M83.5 108.5h0M58.5 114.5h0M57.5 110.5h0M59.5 109.5h0M81.5 105.5h0M76.5 108.5h0M70.5 110.5h0M82.5 111.5h0M60.5 115.5h0" stroke="#2ca02c" stroke-width="1.15" stroke-linecap="square" fill="none"/>
<path d="M69.5 60.5h0M73.5 57.5h0M71.5 59.5h0M74.5 52.5h0M70.5 55.5h0M71.5 55.5h0M67.5 60.5h0M71.5 57.5h0M73.5 58.5h0M69.5 58.5h0M80.5 53.5h0M77.5 50.5h0M71.5 53.5h0M76.5 55.5h0M68.5 58.5h0M79.5 53.5h0M79.5 51.5h0M76.5 52.5h0M74.5 54.5h0M77.5 52.5h0M70.5 60.5h0M75.5 56.5h0M73.5 52.5h0M71.5 55.5h0M72.5 56.5h0M70.5 59.5h0M72.5 54.5h0M77.5 52.5h0M67.5 59.5h0M73.5 60.5h0M70.5 56.5h0M80.5 52.5h0M71.5 56.5h0M78.5 53.5h0M70.5 57.5h0M74.5 51.5h0M78.5 55.5h0M71.5 59.5h0M71.5 57.5h0M77.5 56.5h0M75.5 55.5h0M74.5 51.5h0M71.5 52.5h0M75.5 55.5h0M74.5 59.5h0M73.5 55.5h0M67.5 60.5h0M72.5 56.5h0M76.5 52.5h0M80.5 52.5h0M74.5 56.5h0M74.5 53.5h0M73.5 57.5h0M76.5 52.5h0M79.5 52.5h0M71.5 56.5h0M73.5 52.5h0M72.5 58.5h0M74.5 53.5h0M79.5 53.5h0M74.5 54.5h0M70.5 57.5h0M67.5 58.5h0M65.5 60.5h0M72.5 54.5h0M71.5 59.5h0M71.5 55.5h0M72.5 54.5h0M77.5 55.5h0M68.5 56.5h0M74.5 53.5h0M73.5 52.5h0M75.5 54.5h0M72.5 53.5h0M68.5 57.5h0M68.5 57.5h0M79.5 50.5h0M74.5 54.5h0M79.5 51.5h0M77.5 54.5h0M75.5 53.5h0M68.5 60.5h0M68.5 58.5h0M72.5 57.5h0M71.5 57.5h0M80.5 52.5h0M67.5 60.5h0M70.5 56.5h0M73.5 55.5h0M77.5 52.5h0" stroke="#1f77b4" stroke-width="1.2" stroke-linecap="square" fill="none"/>
<path d="M85.5 124.5h0M84.5 120.5h0M84.5 125.5h0M84.5 125.5h0M86.5 126.5h0M85.5 124.5h0M87.5 127.5h0M87.5 123.5h0M80.5 127.5h0M85.5 120.5h0M83.5 126.5h0M86.5 122.5h0M85.5 127.5h0M84.5 123.5h0M86.5 121.5h0M87.5 127.5h0M83.5 126.5h0M84.5 120.5h0M85.5 120.5h0M84.5 119.5h0M86.5 124.5h0M88.5 122.5h0M80.5 126.5h0M80.5 128.5h0M86.5 123.5h0M82.5 123.5h0M86.5 121.5h0M88.5 125.5h0M86.5 128.5h0M83.5 125.5h0M81.5 127.5h0M86.5 125.5h0M85.5 127.5h0M81.5 127.5h0M88.5 126.5h0M85.5 124.5h0M87.5 127.5h0M84.5 121.5h0M87.5 126.5h0M85.5 122.5h0M86.5 122.5h0M83.5 124.5h0M82.5 126.5h0M83.5 122.5h0M80.5 126.5h0M86.5 126.5h0M82.5 123.5h0M83.5 121.5h0M86.5 126.5h0M84.5 120.5h0M86.5 124.5h0M85.5 121.5h0M84.5 123.5h0M81.5 126.5h0M83.5 124.5h0M84.5 120.5h0M85.5 127.5h0M86.5 125.5h0M84.5 123.5h0M84.5 122.5h0" stroke="#9467bd" stroke-width="1.2" stroke-linecap="square" fill="none"/>
<path d="M92.5 136.5h0M85.5 136.5h0M90.5 135.5h0M87.5 136.5h0M93.5 137.5h0M91.5 136.5h0M86.5 134.5h0M92.5 133.5h0M85.5 136.5h0M92.5 135.5h0M92.5 137.5h0M87.5 137.5h0M88.5 134.5h0M84.5 136.5h0M89.5 134.5h0M89.5 135.5h0M87.5 134.5h0M91.5 135.5h0M86.5 135.5h0M83.5 136.5h0M89.5 137.5h0M87.5 137.5h0M88.5 134.5h0M86.5 136.5h0M88.5 136.5h0M86.5 135.5h0M89.5 133.5h0M91.5 136.5h0M85.5 137.5h0M87.5 136.5h0M91.5 133.5h0M90.5 135.5h0M89.5 135.5h0M87.5 135.5h0M88.5 137.5h0M92.5 133.5h0M92.5 136.5h0M91.5 135.5h0M91.5 137.5h0M87.5 134.5h0M90.5 133.5h0M91.5 134.5h0M83.5 136.5h0M90.5 136.5h0M86.5 135.5h0M92.5 135.5h0M87.5 133.5h0M83.5 136.5h0M84.5 136.5h0M83.5 136.5h0" stroke="#9467bd" stroke-width="1.2" stroke-linecap="square" fill="none"/>
<path d="M93.5 62.5h0M88.5 59.5h0M100.5 60.5h0M96.5 66.5h0M93.5 61.5h0" stroke="#d62728" stroke-width="1.0" stroke-linecap="square" fill="none"/>
<path d="M149.5 79.5h0M148.5 83.5h0M147.5 90.5h0M147.5 68.5h0M149.5 84.5h0M149.5 85.5h0M144.5 78.5h0M148.5 82.5h0M141.5 77.5h0M143.5 77.5h0M146.5 87.5h0M142.5 77.5h0M141.5 75.5h0M144.5 94.5h0M145.5 82.5h0M144.5 75.5h0M149.5 75.5h0M142.5 83.5h0M142.5 95.5h0M146.5 79.5h0M149.5 85.5h0M151.5 81.5h0M141.5 64.5h0M148.5 71.5h0M147.5 79.5h0M148.5 86.5h0M145.5 77.5h0M145.5 101.5h0M143.5 79.5h0M143.5 93.5h0" stroke="#1f77b4" stroke-width="1.0" stroke-linecap="square" fill="none"/>
<path d="M246.5 113.5h0M282.5 80.5h0M235.5 50.5h0M243.5 98.5h0M275.5 79.5h0M247.5 67.5h0M242.5 95.5h0M282.5 100.5h0M287.5 67.5h0M252.5 76.5h0M234.5 95.5h0M274.5 85.5h0M246.5 47.5h0M246.5 60.5h0M270.5 49.5h0M291.5 73.5h0M250.5 43.5h0M281.5 51.5h0M290.5 85.5h0M230.5 72.5h0M243.5 43.5h0M257.5 39.5h0M253.5 52.5h0M292.5 91.5h0M234.5 63.5h0M253.5 95.5h0M288.5 93.5h0M288.5 61.5h0M260.5 97.5h0M267.5 42.5h0M251.5 101.5h0M251.5 73.5h0M250.5 104.5h0M248.5 64.5h0M280.5 70.5h0M245.5 56.5h0M245.5 107.5h0M288.5 80.5h0M269.5 55.5h0M274.5 93.5h0M279.5 95.5h0M271.5 90.5h0M262.5 92.5h0M232.5 90.5h0M260.5 81.5h0M269.5 48.5h0M256.5 63.5h0M294.5 91.5h0M264.5 106.5h0M268.5 47.5h0M247.5 73.5h0M243.5 55.5h0M292.5 94.5h0M253.5 98.5h0M255.5 103.5h0M272.5 69.5h0M242.5 62.5h0M252.5 108.5h0M256.5 87.5h0M240.5 81.5h0M231.5 82.5h0M239.5 95.5h0M248.5 77.5h0M293.5 85.5h0M251.5 107.5h0M267.5 46.5h0M243.5 98.5h0M248.5 96.5h0M262.5 90.5h0M271.5 86.5h0M248.5 111.5h0M261.5 72.5h0M262.5 95.5h0M263.5 99.5h0M249.5 107.5h0M254.5 41.5h0M243.5 98.5h0M271.5 84.5h0M256.5 86.5h0M252.5 107.5h0M243.5 96.5h0M273.5 101.5h0M266.5 66.5h0M245.5 63.5h0M263.5 76.5h0M284.5 55.5h0M248.5 59.5h0M282.5 55.5h0M242.5 54.5h0M246.5 60.5h0M247.5 102.5h0M249.5 67.5h0M286.5 63.5h0M283.5 54.5h0M293.5 89.5h0M248.5 96.5h0M246.5 105.5h0M276.5 77.5h0M274.5 89.5h0M263.5 93.5h0M254.5 46.5h0M267.5 62.5h0M268.5 86.5h0M254.5 80.5h0M288.5 64.5h0M247.5 56.5h0M281.5 59.5h0M259.5 49.5h0M243.5 55.5h0M262.5 66.5h0M240.5 65.5h0M247.5 98.5h0M293.5 91.5h0M258.5 71.5h0M246.5 98.5h0M283.5 56.5h0M268.5 50.5h0M270.5 89.5h0M278.5 94.5h0M262.5 72.5h0M257.5 73.5h0M261.5 95.5h0M261.5 69.5h0M286.5 58.5h0M250.5 99.5h0M244.5 98.5h0M241.5 103.5h0M245.5 44.5h0M269.5 82.5h0M269.5 74.5h0M259.5 102.5h0M251.5 103.5h0M275.5 87.5h0M234.5 96.5h0M278.5 93.5h0M259.5 89.5h0M269.5 64.5h0M252.5 101.5h0M235.5 58.5h0M242.5 111.5h0M257.5 47.5h0M276.5 97.5h0M248.5 115.5h0M254.5 100.5h0M260.5 92.5h0M258.5 85.5h0M260.5 101.5h0M267.5 88.5h0M248.5 114.5h0M261.5 69.5h0M248.5 57.5h0M265.5 78.5h0M267.5 67.5h0M272.5 79.5h0M246.5 99.5h0M249.5 103.5h0M294.5 86.5h0M289.5 73.5h0M259.5 58.5h0M244.5 113.5h0M234.5 70.5h0M268.5 56.5h0M287.5 54.5h0M264.5 57.5h0M262.5 101.5h0M255.5 68.5h0M288.5 99.5h0M246.5 60.5h0M249.5 74.5h0M231.5 77.5h0M272.5 61.5h0M285.5 60.5h0M247.5 84.5h0M252.5 60.5h0M246.5 64.5h0M250.5 100.5h0M248.5 100.5h0M243.5 113.5h0M243.5 93.5h0M237.5 50.5h0M245.5 52.5h0M255.5 68.5h0M291.5 96.5h0M272.5 87.5h0M247.5 100.5h0M252.5 66.5h0M265.5 93.5h0M245.5 74.5h0M259.5 71.5h0M231.5 77.5h0M251.5 100.5h0M249.5 98.5h0M249.5 72.5h0M246.5 100.5h0M262.5 97.5h0M254.5 77.5h0M267.5 61.5h0M244.5 107.5h0M246.5 70.5h0M246.5 53.5h0M279.5 44.5h0M245.5 62.5h0M245.5 105.5h0M250.5 84.5h0M259.5 48.5h0M260.5 72.5h0M262.5 62.5h0M279.5 102.5h0M274.5 49.5h0M289.5 67.5h0M265.5 87.5h0M263.5 103.5h0M276.5 90.5h0M243.5 58.5h0M261.5 66.5h0M255.5 63.5h0M246.5 57.5h0M261.5 93.5h0M242.5 54.5h0M273.5 67.5h0M250.5 99.5h0M258.5 63.5h0M268.5 88.5h0M237.5 98.5h0M234.5 95.5h0M254.5 110.5h0M256.5 86.5h0M264.5 84.5h0M268.5 93.5h0M250.5 96.5h0M263.5 52.5h0M249.5 117.5h0M276.5 44.5h0M263.5 85.5h0M267.5 65.5h0M249.5 97.5h0M270.5 86.5h0M286.5 57.5h0M231.5 92.5h0M293.5 85.5h0M249.5 101.5h0M282.5 78.5h0M257.5 108.5h0M273.5 88.5h0M259.5 69.5h0M260.5 93.5h0M247.5 62.5h0M261.5 61.5h0M253.5 75.5h0M256.5 107.5h0M246.5 107.5h0M259.5 61.5h0M285.5 61.5h0M247.5 53.5h0M257.5 94.5h0M257.5 53.5h0M252.5 105.5h0M256.5 45.5h0M246.5 104.5h0M247.5 62.5h0M243.5 74.5h0M230.5 94.5h0M276.5 46.5h0M255.5 58.5h0M240.5 89.5h0M240.5 70.5h0M262.5 106.5h0M257.5 70.5h0M276.5 96.5h0M256.5 43.5h0M249.5 71.5h0M284.5 61.5h0M279.5 50.5h0M246.5 57.5h0M278.5 96.5h0M248.5 114.5h0M262.5 67.5h0M246.5 52.5h0M275.5 96.5h0M271.5 100.5h0M246.5 54.5h0M251.5 57.5h0M235.5 55.5h0M260.5 98.5h0M247.5 83.5h0M280.5 59.5h0M246.5 115.5h0M250.5 94.5h0M277.5 94.5h0M234.5 90.5h0M245.5 98.5h0M269.5 84.5h0M261.5 58.5h0M247.5 111.5h0M248.5 102.5h0M283.5 59.5h0M270.5 83.5h0M248.5 102.5h0M258.5 48.5h0M235.5 53.5h0M242.5 60.5h0M257.5 105.5h0M249.5 98.5h0M266.5 40.5h0M255.5 51.5h0M243.5 55.5h0M248.5 60.5h0M262.5 104.5h0M247.5 107.5h0M287.5 58.5h0M269.5 86.5h0M274.5 96.5h0M250.5 101.5h0M289.5 90.5h0M250.5 60.5h0M240.5 50.5h0M243.5 103.5h0M265.5 91.5h0M256.5 107.5h0M234.5 97.5h0M231.5 95.5h0M257.5 48.5h0M254.5 102.5h0M254.5 75.5h0M243.5 50.5h0M281.5 52.5h0M257.5 55.5h0M278.5 82.5h0M255.5 105.5h0M257.5 107.5h0M228.5 85.5h0M238.5 69.5h0M246.5 109.5h0M238.5 98.5h0M255.5 64.5h0M292.5 89.5h0M264.5 56.5h0M270.5 85.5h0M244.5 84.5h0M256.5 85.5h0M286.5 80.5h0M282.5 48.5h0M255.5 53.5h0M265.5 87.5h0M239.5 64.5h0M287.5 60.5h0M279.5 60.5h0M289.5 75.5h0M254.5 65.5h0M241.5 62.5h0M264.5 85.5h0M247.5 73.5h0M260.5 79.5h0M294.5 91.5h0M238.5 100.5h0M240.5 73.5h0M245.5 63.5h0M273.5 90.5h0M253.5 48.5h0M245.5 100.5h0" stroke="#d62728" stroke-width="1.25" stroke-linecap="square" fill="none"/>
<path d="M240.5 58.5h0M242.5 52.5h0M238.5 50.5h0M241.5 52.5h0M238.5 51.5h0M238.5 50.5h0M240.5 48.5h0M239.5 52.5h0M238.5 59.5h0M242.5 51.5h0M238.5 50.5h0M238.5 52.5h0M240.5 51.5h0M241.5 49.5h0M238.5 53.5h0M241.5 52.5h0M242.5 52.5h0M240.5 49.5h0M238.5 55.5h0M240.5 50.5h0M243.5 51.5h0M240.5 56.5h0" stroke="#d62728" stroke-width="1.0" stroke-linecap="square" fill="none"/>
<path d="M256.5 78.5h0M254.5 80.5h0M251.5 78.5h0M249.5 75.5h0M253.5 78.5h0M257.5 81.5h0M250.5 80.5h0M255.5 79.5h0M261.5 75.5h0M255.5 71.5h0M258.5 77.5h0M254.5 79.5h0M255.5 82.5h0M257.5 83.5h0M252.5 76.5h0M254.5 80.5h0M248.5 79.5h0M252.5 83.5h0M258.5 81.5h0M253.5 80.5h0M258.5 75.5h0M258.5 76.5h0M253.5 77.5h0M251.5 79.5h0M256.5 85.5h0M253.5 77.5h0M259.5 83.5h0M247.5 81.5h0M258.5 81.5h0M256.5 76.5h0" stroke="#d62728" stroke-width="1.0" stroke-linecap="square" fill="none"/>
<path d="M238.5 90.5h0M234.5 90.5h0M233.5 85.5h0M232.5 92.5h0M234.5 93.5h0M235.5 89.5h0M238.5 84.5h0M232.5 90.5h0M229.5 87.5h0M238.5 91.5h0M234.5 88.5h0M236.5 87.5h0M233.5 86.5h0M231.5 90.5h0M232.5 89.5h0M236.5 84.5h0M233.5 86.5h0M239.5 89.5h0M233.5 90.5h0M235.5 90.5h0" stroke="#d62728" stroke-width="1.0" stroke-linecap="square" fill="none"/>
<path d="M248.5 111.5h0M244.5 115.5h0M245.5 114.5h0M250.5 106.5h0M247.5 111.5h0M249.5 114.5h0M245.5 108.5h0M246.5 113.5h0M243.5 121.5h0M248.5 115.5h0M247.5 114.5h0M245.5 111.5h0M247.5 112.5h0M248.5 114.5h0M248.5 114.5h0M249.5 105.5h0M246.5 110.5h0M247.5 114.5h0M240.5 117.5h0M245.5 110.5h0M254.5 107.5h0M246.5 104.5h0M247.5 111.5h0M246.5 108.5h0M250.5 107.5h0M249.5 115.5h0M242.5 113.5h0M247.5 114.5h0M248.5 116.5h0M246.5 109.5h0M250.5 107.5h0M242.5 106.5h0M249.5 108.5h0M248.5 99.5h0M248.5 106.5h0M250.5 107.5h0M250.5 105.5h0M248.5 109.5h0M245.5 110.5h0M251.5 119.5h0M248.5 113.5h0M248.5 111.5h0M253.5 111.5h0M253.5 108.5h0M250.5 117.5h0M250.5 114.5h0M246.5 111.5h0M248.5 116.5h0M246.5 108.5h0M243.5 120.5h0M248.5 109.5h0M251.5 107.5h0M247.5 117.5h0M243.5 108.5h0M251.5 108.5h0M247.5 109.5h0M251.5 105.5h0M245.5 124.5h0M248.5 118.5h0M246.5 117.5h0M245.5 107.5h0M246.5 112.5h0M249.5 116.5h0M245.5 111.5h0M248.5 105.5h0M247.5 106.5h0M248.5 104.5h0M249.5 106.5h0M249.5 110.5h0M248.5 107.5h0M243.5 107.5h0M251.5 109.5h0M249.5 109.5h0M244.5 103.5h0M251.5 116.5h0M245.5 111.5h0M246.5 116.5h0M246.5 105.5h0M246.5 113.5h0M242.5 109.5h0" stroke="#d62728" stroke-width="1.05" stroke-linecap="square" fill="none"/>
<path d="M254.5 129.5h0M259.5 141.5h0M262.5 129.5h0M260.5 134.5h0M261.5 134.5h0M260.5 144.5h0M261.5 122.5h0M264.5 120.5h0M260.5 126.5h0M260.5 132.5h0M254.5 121.5h0M260.5 128.5h0M258.5 125.5h0M257.5 133.5h0M259.5 132.5h0M260.5 123.5h0M257.5 137.5h0M257.5 131.5h0M264.5 142.5h0M261.5 136.5h0M264.5 132.5h0M259.5 127.5h0M256.5 132.5h0M261.5 135.5h0M258.5 125.5h0M258.5 115.5h0M258.5 128.5h0M255.5 132.5h0M260.5 131.5h0M264.5 129.5h0M260.5 130.5h0M262.5 127.5h0M260.5 141.5h0M259.5 129.5h0M262.5 131.5h0M258.5 134.5h0M260.5 132.5h0M265.5 127.5h0M258.5 132.5h0M253.5 129.5h0M255.5 132.5h0M251.5 124.5h0M257.5 123.5h0M258.5 125.5h0M262.5 129.5h0M260.5 127.5h0M260.5 116.5h0M259.5 125.5h0M264.5 129.5h0M256.5 126.5h0M258.5 126.5h0M261.5 134.5h0M259.5 135.5h0M261.5 130.5h0M260.5 124.5h0M256.5 133.5h0M254.5 125.5h0M258.5 127.5h0M257.5 126.5h0M256.5 139.5h0M261.5 132.5h0M258.5 127.5h0M256.5 142.5h0M255.5 117.5h0M257.5 133.5h0M262.5 121.5h0M255.5 138.5h0M258.5 118.5h0M252.5 136.5h0M254.5 122.5h0M257.5 125.5h0M259.5 124.5h0M255.5 119.5h0M256.5 132.5h0M255.5 125.5h0M264.5 117.5h0M264.5 129.5h0M261.5 130.5h0M254.5 131.5h0M262.5 136.5h0M259.5 132.5h0M254.5 130.5h0M256.5 137.5h0M256.5 129.5h0M258.5 125.5h0M260.5 135.5h0M261.5 130.5h0M259.5 132.5h0M258.5 132.5h0M257.5 129.5h0M261.5 129.5h0M261.5 130.5h0M263.5 129.5h0M258.5 140.5h0M260.5 131.5h0M262.5 137.5h0M257.5 132.5h0M261.5 124.5h0M256.5 126.5h0M263.5 113.5h0" stroke="#d62728" stroke-width="1.0" stroke-linecap="square" fill="none"/>
<path d="M269.5 62.5h0M267.5 61.5h0M266.5 64.5h0M268.5 61.5h0M269.5 54.5h0M269.5 61.5h0M270.5 58.5h0M269.5 62.5h0M270.5 60.5h0M267.5 59.5h0M269.5 61.5h0M273.5 61.5h0M272.5 66.5h0M274.5 63.5h0M265.5 59.5h0M265.5 60.5h0M268.5 62.5h0M269.5 64.5h0M266.5 60.5h0M265.5 58.5h0M265.5 64.5h0M269.5 64.5h0M272.5 62.5h0M266.5 62.5h0M268.5 61.5h0" stroke="#d62728" stroke-width="1.0" stroke-linecap="square" fill="none"/>
<path d="M291.5 75.5h0M289.5 76.5h0M290.5 76.5h0M290.5 75.5h0M286.5 73.5h0M293.5 77.5h0M292.5 77.5h0M293.5 73.5h0M289.5 71.5h0M292.5 75.5h0M291.5 74.5h0M295.5 76.5h0M292.5 75.5h0M284.5 75.5h0M289.5 76.5h0" stroke="#d62728" stroke-width="1.0" stroke-linecap="square" fill="none"/>
<path d="M274.5 91.5h0M280.5 92.5h0M273.5 93.5h0M288.5 94.5h0M275.5 92.5h0M280.5 98.5h0M280.5 89.5h0M282.5 94.5h0M289.5 97.5h0M284.5 99.5h0M284.5 96.5h0M279.5 96.5h0M279.5 92.5h0M280.5 95.5h0M288.5 95.5h0M280.5 95.5h0M292.5 92.5h0M279.5 89.5h0M283.5 94.5h0M282.5 91.5h0M290.5 97.5h0M279.5 95.5h0M283.5 88.5h0M275.5 96.5h0M285.5 97.5h0" stroke="#d62728" stroke-width="1.0" stroke-linecap="square" fill="none"/>
<path d="M263.5 48.5h0M286.5 45.5h0M286.5 38.5h0M273.5 38.5h0M276.5 52.5h0M294.5 53.5h0M270.5 51.5h0M277.5 47.5h0M269.5 43.5h0M260.5 48.5h0M285.5 45.5h0M271.5 50.5h0M269.5 42.5h0M286.5 57.5h0M268.5 36.5h0M293.5 55.5h0M282.5 54.5h0M260.5 46.5h0M267.5 59.5h0M279.5 48.5h0M283.5 43.5h0M274.5 40.5h0M269.5 37.5h0M285.5 58.5h0M270.5 39.5h0M278.5 55.5h0M285.5 42.5h0M252.5 56.5h0M283.5 54.5h0M277.5 51.5h0" stroke="#1f77b4" stroke-width="1.0" stroke-linecap="square" fill="none"/>
<path d="M220.5 47.5h0M213.5 52.5h0M217.5 49.5h0M222.5 49.5h0M221.5 53.5h0M221.5 57.5h0M227.5 51.5h0M219.5 51.5h0M220.5 53.5h0M230.5 53.5h0M217.5 51.5h0M219.5 55.5h0M220.5 52.5h0M225.5 51.5h0M217.5 55.5h0M222.5 51.5h0M221.5 58.5h0M225.5 48.5h0" stroke="#1f77b4" stroke-width="1.0" stroke-linecap="square" fill="none"/>
<path d="M291.5 76.5h0M295.5 70.5h0M293.5 71.5h0M293.5 71.5h0M294.5 73.5h0M290.5 73.5h0" stroke="#1f77b4" stroke-width="1.0" stroke-linecap="square" fill="none"/>
<path d="M219.5 107.5h0M230.5 109.5h0M224.5 112.5h0M225.5 104.5h0M231.5 108.5h0M229.5 100.5h0M220.5 109.5h0M232.5 109.5h0M224.5 110.5h0M217.5 106.5h0M231.5 102.5h0M225.5 109.5h0M224.5 109.5h0M236.5 107.5h0M232.5 106.5h0M218.5 107.5h0M224.5 107.5h0M223.5 112.5h0M231.5 104.5h0M212.5 109.5h0M223.5 111.5h0M235.5 108.5h0M211.5 109.5h0M231.5 106.5h0M230.5 106.5h0M213.5 109.5h0M229.5 101.5h0M230.5 102.5h0M234.5 107.5h0M218.5 111.5h0M214.5 109.5h0M224.5 107.5h0M218.5 112.5h0M231.5 102.5h0M221.5 106.5h0M225.5 111.5h0M233.5 105.5h0M227.5 102.5h0M224.5 110.5h0M228.5 103.5h0M222.5 108.5h0M231.5 110.5h0M218.5 111.5h0M226.5 108.5h0M216.5 107.5h0M232.5 108.5h0M233.5 105.5h0M219.5 108.5h0M215.5 109.5h0M231.5 109.5h0M218.5 106.5h0M230.5 102.5h0M219.5 105.5h0M227.5 100.5h0M221.5 107.5h0M224.5 107.5h0M234.5 110.5h0M231.5 110.5h0M225.5 106.5h0M226.5 104.5h0M210.5 110.5h0M213.5 110.5h0M229.5 107.5h0M226.5 110.5h0M215.5 110.5h0M215.5 106.5h0M233.5 109.5h0M223.5 105.5h0M217.5 107.5h0M219.5 108.5h0M222.5 112.5h0M227.5 108.5h0M229.5 110.5h0M216.5 111.5h0M232.5 102.5h0M231.5 102.5h0M216.5 110.5h0M222.5 110.5h0M227.5 101.5h0M230.5 103.5h0M220.5 106.5h0M221.5 112.5h0M223.5 111.5h0M230.5 109.5h0M225.5 105.5h0M230.5 101.5h0M226.5 108.5h0M222.5 110.5h0M215.5 107.5h0M219.5 107.5h0M221.5 105.5h0M222.5 107.5h0M213.5 108.5h0M233.5 104.5h0M228.5 102.5h0M217.5 109.5h0M227.5 105.5h0M227.5 101.5h0M222.5 107.5h0M224.5 111.5h0M229.5 109.5h0M234.5 108.5h0M218.5 106.5h0M220.5 112.5h0M223.5 107.5h0M214.5 109.5h0M220.5 108.5h0M215.5 109.5h0M215.5 107.5h0M233.5 109.5h0M218.5 108.5h0M224.5 110.5h0M217.5 107.5h0M221.5 111.5h0M217.5 109.5h0M221.5 110.5h0M234.5 107.5h0M226.5 108.5h0M231.5 106.5h0M227.5 106.5h0M234.5 109.5h0M232.5 109.5h0M209.5 111.5h0M217.5 110.5h0M225.5 111.5h0M226.5 103.5h0M233.5 106.5h0M221.5 105.5h0M234.5 109.5h0M229.5 101.5h0M223.5 111.5h0M211.5 111.5h0M232.5 110.5h0M227.5 101.5h0M217.5 106.5h0M218.5 111.5h0M225.5 111.5h0M224.5 106.5h0M232.5 103.5h0M232.5 103.5h0M230.5 101.5h0M228.5 106.5h0M231.5 104.5h0M221.5 111.5h0M212.5 111.5h0M224.5 107.5h0M227.5 109.5h0M218.5 110.5h0M233.5 108.5h0M231.5 104.5h0M224.5 106.5h0M216.5 109.5h0M232.5 109.5h0M211.5 108.5h0M213.5 109.5h0M235.5 109.5h0M233.5 109.5h0M222.5 109.5h0M232.5 104.5h0M231.5 101.5h0M220.5 111.5h0M219.5 112.5h0M230.5 110.5h0M214.5 107.5h0M222.5 112.5h0M224.5 104.5h0M222.5 109.5h0M213.5 107.5h0M214.5 107.5h0M229.5 103.5h0M218.5 108.5h0M218.5 112.5h0M224.5 109.5h0M223.5 109.5h0M216.5 106.5h0M222.5 109.5h0M231.5 102.5h0M223.5 110.5h0M215.5 111.5h0M218.5 106.5h0M226.5 111.5h0M229.5 104.5h0M221.5 110.5h0M222.5 107.5h0M219.5 109.5h0M224.5 108.5h0M214.5 108.5h0M216.5 108.5h0M228.5 107.5h0M229.5 107.5h0M214.5 112.5h0M230.5 107.5h0M229.5 106.5h0M215.5 107.5h0M232.5 109.5h0M213.5 111.5h0M225.5 105.5h0M225.5 104.5h0M232.5 106.5h0M216.5 108.5h0M219.5 110.5h0M230.5 105.5h0M230.5 107.5h0M215.5 112.5h0M231.5 105.5h0M231.5 109.5h0M219.5 110.5h0M236.5 107.5h0M222.5 111.5h0M221.5 106.5h0M225.5 105.5h0M219.5 109.5h0M215.5 111.5h0M223.5 106.5h0M228.5 104.5h0M228.5 106.5h0M220.5 109.5h0M233.5 110.5h0M226.5 110.5h0M236.5 108.5h0M220.5 110.5h0M222.5 108.5h0M224.5 106.5h0M225.5 104.5h0M226.5 104.5h0M231.5 103.5h0M232.5 109.5h0M212.5 110.5h0M230.5 102.5h0M233.5 108.5h0" stroke="#2ca02c" stroke-width="1.05" stroke-linecap="square" fill="none"/>
<path d="M275.5 106.5h0M280.5 105.5h0M269.5 106.5h0M282.5 105.5h0M279.5 105.5h0M282.5 109.5h0M274.5 103.5h0M269.5 112.5h0M293.5 108.5h0M271.5 113.5h0M266.5 113.5h0M279.5 110.5h0M279.5 105.5h0M293.5 105.5h0M287.5 111.5h0M263.5 109.5h0M287.5 113.5h0M283.5 103.5h0M290.5 111.5h0M286.5 104.5h0M279.5 115.5h0M264.5 110.5h0M289.5 104.5h0M291.5 105.5h0M272.5 109.5h0M284.5 105.5h0M279.5 111.5h0M289.5 104.5h0M281.5 106.5h0M265.5 111.5h0M279.5 105.5h0M282.5 109.5h0M270.5 106.5h0M276.5 117.5h0M287.5 112.5h0M269.5 106.5h0M294.5 105.5h0M266.5 106.5h0M275.5 117.5h0M278.5 105.5h0M284.5 112.5h0M284.5 105.5h0M288.5 104.5h0M279.5 103.5h0M285.5 107.5h0M290.5 107.5h0M268.5 110.5h0M283.5 112.5h0M281.5 110.5h0M276.5 113.5h0M270.5 115.5h0M287.5 113.5h0M291.5 110.5h0M286.5 112.5h0M286.5 110.5h0M271.5 107.5h0M270.5 106.5h0M279.5 104.5h0M271.5 115.5h0M274.5 103.5h0M277.5 104.5h0M277.5 104.5h0M274.5 109.5h0M273.5 107.5h0M289.5 113.5h0M271.5 115.5h0M282.5 108.5h0M275.5 108.5h0M283.5 102.5h0M281.5 115.5h0M277.5 104.5h0M279.5 110.5h0M273.5 109.5h0M267.5 107.5h0M270.5 113.5h0M269.5 106.5h0M279.5 108.5h0M276.5 110.5h0M288.5 104.5h0M293.5 105.5h0M275.5 104.5h0M281.5 111.5h0M284.5 106.5h0M272.5 107.5h0M274.5 113.5h0M277.5 115.5h0M292.5 106.5h0M275.5 104.5h0M265.5 107.5h0M281.5 109.5h0M275.5 108.5h0M277.5 102.5h0M289.5 108.5h0M265.5 107.5h0M266.5 105.5h0M269.5 112.5h0M276.5 114.5h0M278.5 111.5h0M273.5 108.5h0M271.5 106.5h0M272.5 116.5h0M275.5 104.5h0M288.5 107.5h0M279.5 104.5h0M290.5 108.5h0M268.5 110.5h0M281.5 103.5h0M271.5 104.5h0M276.5 109.5h0M288.5 111.5h0M281.5 110.5h0M275.5 111.5h0M285.5 108.5h0M285.5 109.5h0M275.5 113.5h0M277.5 111.5h0M280.5 116.5h0M264.5 106.5h0M271.5 111.5h0M279.5 105.5h0M290.5 109.5h0M276.5 117.5h0M280.5 105.5h0M266.5 107.5h0M287.5 103.5h0M270.5 110.5h0M279.5 104.5h0M266.5 110.5h0M290.5 106.5h0M286.5 104.5h0M293.5 106.5h0M288.5 113.5h0M269.5 111.5h0M285.5 112.5h0M266.5 108.5h0M278.5 116.5h0M271.5 105.5h0M294.5 106.5h0M275.5 105.5h0M276.5 115.5h0M291.5 107.5h0M266.5 114.5h0M275.5 107.5h0M273.5 105.5h0M277.5 117.5h0M270.5 110.5h0M275.5 113.5h0M271.5 114.5h0M265.5 109.5h0M281.5 105.5h0M279.5 116.5h0M294.5 104.5h0M291.5 106.5h0M273.5 105.5h0M274.5 113.5h0M276.5 105.5h0M286.5 113.5h0M280.5 104.5h0M268.5 110.5h0M269.5 115.5h0M272.5 104.5h0M278.5 103.5h0M277.5 107.5h0M282.5 111.5h0M267.5 107.5h0M283.5 110.5h0M265.5 108.5h0M288.5 109.5h0M278.5 115.5h0M276.5 106.5h0M265.5 113.5h0M276.5 105.5h0M267.5 107.5h0M269.5 112.5h0M271.5 105.5h0" stroke="#ff7f0e" stroke-width="1.05" stroke-linecap="square" fill="none"/>
<path d="M233.5 125.5h0M234.5 124.5h0M235.5 121.5h0M234.5 122.5h0M238.5 125.5h0M234.5 124.5h0M231.5 121.5h0M231.5 125.5h0M233.5 121.5h0M235.5 122.5h0M236.5 127.5h0M231.5 126.5h0M234.5 116.5h0M231.5 123.5h0M237.5 122.5h0M234.5 123.5h0M236.5 127.5h0M233.5 121.5h0M233.5 122.5h0M233.5 126.5h0M235.5 120.5h0M237.5 122.5h0M235.5 123.5h0M229.5 126.5h0M236.5 122.5h0M233.5 122.5h0M233.5 122.5h0M235.5 123.5h0M236.5 124.5h0M236.5 122.5h0M231.5 121.5h0M233.5 122.5h0M232.5 124.5h0M235.5 125.5h0M238.5 125.5h0M237.5 123.5h0M235.5 121.5h0M235.5 123.5h0M236.5 124.5h0M234.5 124.5h0M233.5 121.5h0M239.5 122.5h0M235.5 122.5h0M234.5 124.5h0M234.5 123.5h0M234.5 124.5h0M233.5 125.5h0M233.5 125.5h0M235.5 124.5h0M233.5 125.5h0M234.5 123.5h0M233.5 123.5h0M232.5 124.5h0M229.5 123.5h0M235.5 124.5h0" stroke="#9467bd" stroke-width="1.05" stroke-linecap="square" fill="none"/>
<path d="M239.5 133.5h0M243.5 134.5h0M241.5 133.5h0M233.5 136.5h0M241.5 134.5h0M233.5 136.5h0M239.5 135.5h0M244.5 134.5h0M237.5 136.5h0M248.5 134.5h0M240.5 132.5h0M232.5 136.5h0M238.5 134.5h0M231.5 136.5h0M237.5 136.5h0M237.5 135.5h0" stroke="#9467bd" stroke-width="1.0" stroke-linecap="square" fill="none"/>
<text x="334.0" y="18.3" font-size="12" font-weight="bold" fill="#000">B</text>
<path d="M476.3 51.7L498.8 38.3M368.7 58.8L379.4 82M392.9 43.3L401.9 62.5M403.8 33.3L392.9 43.3M433.2 40.5L431.5 64.6M361.3 86.5L363.8 108.5M445.6 64.6L461.7 59.4M461.7 59.4L476.3 51.7" stroke="#b8b8b8" stroke-width="0.8" fill="none"/>
<defs><filter id="hb" x="-20%" y="-20%" width="140%" height="140%"><feGaussianBlur stdDeviation="0.7"/></filter></defs>
<g filter="url(#hb)">
<circle cx="403.8" cy="33.3" r="8.6" fill="#eea4ee"/>
<circle cx="392.9" cy="43.3" r="11.1" fill="#ffb8b8"/>
<circle cx="368.7" cy="58.8" r="10.9" fill="#ffb8b8"/>
<circle cx="433.2" cy="40.5" r="10.1" fill="#b8d2f8"/>
<circle cx="401.9" cy="62.7" r="12.1" fill="#f4f29c"/>
<circle cx="431.5" cy="64.8" r="11.4" fill="#b8d2f8"/>
<circle cx="445.6" cy="64.6" r="10.4" fill="#b8d2f8"/>
<circle cx="461.7" cy="59.4" r="9.8" fill="#eea4ee"/>
<circle cx="476.3" cy="51.7" r="9.3" fill="#eea4ee"/>
<circle cx="498.8" cy="38.3" r="9.8" fill="#a4f0bc"/>
<circle cx="372.7" cy="92.3" r="11.1" fill="#ffb8b8"/>
<circle cx="361.3" cy="86.5" r="13.0" fill="#ffb8b8"/>
<circle cx="379.4" cy="83.0" r="11.299999999999999" fill="#ffb8b8"/>
<circle cx="389.8" cy="82.7" r="11.299999999999999" fill="#ffb8b8"/>
<circle cx="406.3" cy="84.1" r="11.299999999999999" fill="#ffb8b8"/>
<circle cx="402.0" cy="77.4" r="11.9" fill="#ffb8b8"/>
<circle cx="421.9" cy="77.4" r="12.2" fill="#ffb8b8"/>
<circle cx="414.5" cy="131.3" r="13.7" fill="#f4f29c"/>
<circle cx="412.4" cy="120.0" r="14.9" fill="#f4f29c"/>
<circle cx="410.4" cy="102.6" r="13.6" fill="#f4f29c"/>
<circle cx="416.4" cy="92.8" r="15.1" fill="#ffb8b8"/>
<circle cx="431.6" cy="89.2" r="11.7" fill="#ffb8b8"/>
<circle cx="417.2" cy="150.7" r="11.5" fill="#f7f5c4"/>
<circle cx="419.9" cy="170.6" r="12.5" fill="#f7f5c4"/>
<circle cx="363.8" cy="108.5" r="9.0" fill="#f4f29c"/>
</g>
<path d="M403.80 33.30L406.55 27.41A6.50 6.50 0 0 1 401.58 39.41Z" fill="#0a55ff" stroke="#0a55ff" stroke-width="0.25"/>
<path d="M403.80 33.30L401.58 39.41A6.50 6.50 0 1 1 406.55 27.41Z" fill="#ffffff" stroke="#ffffff" stroke-width="0.25"/>
<path d="M403.80 33.30L406.23 27.27A6.50 6.50 0 0 1 406.55 27.41Z" fill="#3a3" stroke="#3a3" stroke-width="0.25"/>
<circle cx="403.8" cy="33.3" r="6.5" fill="none" stroke="#0b1640" stroke-width="1"/>
<circle cx="392.90" cy="43.30" r="9.00" fill="#0a55ff"/>
<path d="M392.9 43.3V34.70" stroke="#0a1a50" stroke-width="0.9"/>
<circle cx="392.9" cy="43.3" r="9.0" fill="none" stroke="#0b1640" stroke-width="1"/>
<path d="M368.70 58.80L367.78 50.05A8.80 8.80 0 1 1 365.69 67.07Z" fill="#ff0000" stroke="#ff0000" stroke-width="0.25"/>
<path d="M368.70 58.80L365.69 67.07A8.80 8.80 0 0 1 367.78 50.05Z" fill="#0a55ff" stroke="#0a55ff" stroke-width="0.25"/>
<path d="M368.7 58.8V50.40" stroke="#0a1a50" stroke-width="0.9"/>
<circle cx="368.7" cy="58.8" r="8.8" fill="none" stroke="#0b1640" stroke-width="1"/>
<path d="M433.20 40.50L435.41 32.81A8.00 8.00 0 1 1 433.20 32.50Z" fill="#0a55ff" stroke="#0a55ff" stroke-width="0.25"/>
<path d="M433.20 40.50L433.20 32.50A8.00 8.00 0 0 1 435.41 32.81Z" fill="#d01010" stroke="#d01010" stroke-width="0.25"/>
<path d="M433.2 40.5V32.90" stroke="#0a1a50" stroke-width="0.9"/>
<circle cx="433.2" cy="40.5" r="8.0" fill="none" stroke="#0b1640" stroke-width="1"/>
<circle cx="401.90" cy="62.70" r="10.00" fill="#0a55ff"/>
<path d="M401.9 62.7V53.10" stroke="#0a1a50" stroke-width="0.9"/>
<circle cx="401.9" cy="62.7" r="10.0" fill="none" stroke="#0b1640" stroke-width="1"/>
<circle cx="431.50" cy="64.80" r="9.30" fill="#0a55ff"/>
<path d="M431.5 64.8V55.90" stroke="#0a1a50" stroke-width="0.9"/>
<circle cx="431.5" cy="64.8" r="9.3" fill="none" stroke="#0b1640" stroke-width="1"/>
<path d="M445.60 64.60L446.76 56.38A8.30 8.30 0 1 1 445.60 56.30Z" fill="#0a55ff" stroke="#0a55ff" stroke-width="0.25"/>
<path d="M445.60 64.60L445.60 56.30A8.30 8.30 0 0 1 446.76 56.38Z" fill="#c03020" stroke="#c03020" stroke-width="0.25"/>
<path d="M445.6 64.6V56.70" stroke="#0a1a50" stroke-width="0.9"/>
<circle cx="445.6" cy="64.6" r="8.3" fill="none" stroke="#0b1640" stroke-width="1"/>
<path d="M461.70 59.40L463.04 51.82A7.70 7.70 0 1 1 461.70 51.70Z" fill="#0a55ff" stroke="#0a55ff" stroke-width="0.25"/>
<path d="M461.70 59.40L461.70 51.70A7.70 7.70 0 0 1 463.04 51.82Z" fill="#d01010" stroke="#d01010" stroke-width="0.25"/>
<path d="M461.7 59.4V52.10" stroke="#0a1a50" stroke-width="0.9"/>
<circle cx="461.7" cy="59.4" r="7.7" fill="none" stroke="#0b1640" stroke-width="1"/>
<path d="M476.30 51.70L479.90 45.46A7.20 7.20 0 0 1 483.50 51.95Z" fill="#0a55ff" stroke="#0a55ff" stroke-width="0.25"/>
<path d="M476.30 51.70L483.50 51.95A7.20 7.20 0 1 1 478.16 44.75Z" fill="#ffffff" stroke="#ffffff" stroke-width="0.25"/>
<path d="M476.30 51.70L478.16 44.75A7.20 7.20 0 0 1 479.90 45.46Z" fill="#b8e020" stroke="#b8e020" stroke-width="0.25"/>
<circle cx="476.3" cy="51.7" r="7.2" fill="none" stroke="#0b1640" stroke-width="1"/>
<path d="M498.80 38.30L498.80 30.60A7.70 7.70 0 0 1 506.12 35.92Z" fill="#0a55ff" stroke="#0a55ff" stroke-width="0.25"/>
<path d="M498.80 38.30L506.12 35.92A7.70 7.70 0 1 1 498.80 30.60Z" fill="#ffffff" stroke="#ffffff" stroke-width="0.25"/>
<circle cx="498.8" cy="38.3" r="7.7" fill="none" stroke="#0b1640" stroke-width="1"/>
<circle cx="372.70" cy="92.30" r="9.00" fill="#0a55ff"/>
<circle cx="372.7" cy="92.3" r="9.0" fill="none" stroke="#0b1640" stroke-width="1"/>
<circle cx="361.30" cy="86.50" r="10.90" fill="#0a55ff"/>
<path d="M361.3 86.5V76.00" stroke="#0a1a50" stroke-width="0.9"/>
<circle cx="361.3" cy="86.5" r="10.9" fill="none" stroke="#0b1640" stroke-width="1"/>
<circle cx="379.40" cy="83.00" r="9.20" fill="#0a55ff"/>
<circle cx="379.4" cy="83.0" r="9.2" fill="none" stroke="#0b1640" stroke-width="1"/>
<circle cx="389.80" cy="82.70" r="9.20" fill="#0a55ff"/>
<path d="M389.8 82.7V73.90" stroke="#0a1a50" stroke-width="0.9"/>
<circle cx="389.8" cy="82.7" r="9.2" fill="none" stroke="#0b1640" stroke-width="1"/>
<circle cx="406.30" cy="84.10" r="9.20" fill="#0a55ff"/>
<circle cx="406.3" cy="84.1" r="9.2" fill="none" stroke="#0b1640" stroke-width="1"/>
<circle cx="402.00" cy="77.40" r="9.80" fill="#0a55ff"/>
<path d="M402.0 77.4V68.00" stroke="#0a1a50" stroke-width="0.9"/>
<circle cx="402.0" cy="77.4" r="9.8" fill="none" stroke="#0b1640" stroke-width="1"/>
<circle cx="421.90" cy="77.40" r="10.10" fill="#0a55ff"/>
<path d="M421.9 77.4V67.70" stroke="#0a1a50" stroke-width="0.9"/>
<circle cx="421.9" cy="77.4" r="10.1" fill="none" stroke="#0b1640" stroke-width="1"/>
<circle cx="414.50" cy="131.30" r="11.60" fill="#0a55ff"/>
<circle cx="414.5" cy="131.3" r="11.6" fill="none" stroke="#0b1640" stroke-width="1"/>
<circle cx="412.40" cy="120.00" r="12.80" fill="#0a55ff"/>
<path d="M412.40 120.00L410.62 107.32A12.80 12.80 0 0 1 414.18 107.32Z" fill="#f0f0d0" stroke="#f0f0d0" stroke-width="0.25"/>
<circle cx="412.4" cy="120.0" r="12.8" fill="none" stroke="#0b1640" stroke-width="1"/>
<circle cx="410.40" cy="102.60" r="11.50" fill="#0a55ff"/>
<circle cx="410.4" cy="102.6" r="11.5" fill="none" stroke="#0b1640" stroke-width="1"/>
<circle cx="416.40" cy="92.80" r="13.00" fill="#0a55ff"/>
<path d="M416.4 92.8V80.20" stroke="#0a1a50" stroke-width="0.9"/>
<circle cx="416.4" cy="92.8" r="13.0" fill="none" stroke="#0b1640" stroke-width="1"/>
<circle cx="431.60" cy="89.20" r="9.60" fill="#0a55ff"/>
<path d="M431.6 89.2V80.00" stroke="#e8e8c0" stroke-width="0.9"/>
<circle cx="431.6" cy="89.2" r="9.6" fill="none" stroke="#0b1640" stroke-width="1"/>
<path d="M417.20 150.70L417.20 141.30A9.40 9.40 0 1 1 409.06 146.00Z" fill="#a4ee5c" stroke="#a4ee5c" stroke-width="0.25"/>
<path d="M417.20 150.70L409.06 146.00A9.40 9.40 0 0 1 417.20 141.30Z" fill="#ffffff" stroke="#ffffff" stroke-width="0.25"/>
<circle cx="417.2" cy="150.7" r="9.4" fill="none" stroke="#3d4a2a" stroke-width="1"/>
<circle cx="419.90" cy="170.60" r="10.40" fill="#a4ee5c"/>
<path d="M419.9 170.6V160.60" stroke="#333" stroke-width="0.9"/>
<circle cx="419.9" cy="170.6" r="10.4" fill="none" stroke="#3d4a2a" stroke-width="1"/>
<path d="M363.80 108.50L365.47 101.80A6.90 6.90 0 1 1 363.80 101.60Z" fill="#ffffff" stroke="#ffffff" stroke-width="0.25"/>
<path d="M363.80 108.50L363.80 101.60A6.90 6.90 0 0 1 365.47 101.80Z" fill="#1030a0" stroke="#1030a0" stroke-width="0.25"/>
<circle cx="363.8" cy="108.5" r="6.9" fill="none" stroke="#666" stroke-width="1"/>
<rect x="443.6" y="138.4" width="6.4" height="6" fill="#ffffff" stroke="#111" stroke-width="0.9"/>
<text x="453.2" y="143.20000000000002" font-size="8.0" textLength="28.9" lengthAdjust="spacingAndGlyphs">Ungated</text>
<rect x="443.6" y="148.8" width="6.4" height="6" fill="#2f43a8" stroke="#111" stroke-width="0.9"/>
<text x="453.2" y="153.6" font-size="8.0" textLength="15.5" lengthAdjust="spacingAndGlyphs">CD4</text>
<rect x="443.6" y="159.2" width="6.4" height="6" fill="#88c040" stroke="#111" stroke-width="0.9"/>
<text x="453.2" y="164.0" font-size="8.0" textLength="15.5" lengthAdjust="spacingAndGlyphs">CD8</text>
<rect x="443.6" y="169.6" width="6.4" height="6" fill="#e03a1a" stroke="#111" stroke-width="0.9"/>
<text x="453.2" y="174.4" font-size="8.0" textLength="34.2" lengthAdjust="spacingAndGlyphs">CD4CD25</text>
<text x="6.3" y="211.9" font-size="12" font-weight="bold" textLength="9.4" lengthAdjust="spacingAndGlyphs" fill="#000">C</text>
<text x="59.3" y="211.3" font-size="9.8" textLength="19.0" lengthAdjust="spacingAndGlyphs">CD8</text>
<text x="79.1" y="209.3" font-size="7.2" textLength="3.8" lengthAdjust="spacingAndGlyphs">+</text>
<text x="86.0" y="211.3" font-size="9.8" textLength="29.6" lengthAdjust="spacingAndGlyphs">T Cells</text>
<path d="M74.8 224.0L83.6 253.4M83.6 253.4L92.3 279.4M92.3 279.4L120.3 282.4M120.3 282.4L151.0 285.7M92.3 279.4L25.7 350.0" stroke="#c0c0c0" stroke-width="0.8" fill="none"/>
<path d="M74.80 224.30L70.80 224.30A4.00 4.00 0 0 1 74.80 220.30Z" fill="#00ccf7" stroke="#00ccf7" stroke-width="0.25"/>
<path d="M74.80 224.30L74.80 220.50A3.80 3.80 0 0 1 78.60 224.30Z" fill="#00007f" stroke="#00007f" stroke-width="0.25"/>
<path d="M74.80 224.30L77.30 224.30A2.50 2.50 0 0 1 74.80 226.80Z" fill="#7f0000" stroke="#7f0000" stroke-width="0.25"/>
<path d="M74.80 224.30L74.80 230.10A5.80 5.80 0 0 1 69.00 224.30Z" fill="#ffcc00" stroke="#ffcc00" stroke-width="0.25"/>
<path d="M84.60 252.60L82.40 252.60A2.20 2.20 0 0 1 84.60 250.40Z" fill="#00ccf7" stroke="#00ccf7" stroke-width="0.25"/>
<path d="M84.60 252.60L84.60 250.00A2.60 2.60 0 0 1 87.20 252.60Z" fill="#00007f" stroke="#00007f" stroke-width="0.25"/>
<path d="M84.60 252.60L85.40 252.60A0.80 0.80 0 0 1 84.60 253.40Z" fill="#7f0000" stroke="#7f0000" stroke-width="0.25"/>
<path d="M84.60 252.60L84.60 258.80A6.20 6.20 0 0 1 78.40 252.60Z" fill="#ffcc00" stroke="#ffcc00" stroke-width="0.25"/>
<path d="M92.30 279.40L91.30 279.40A1.00 1.00 0 0 1 92.30 278.40Z" fill="#00ccf7" stroke="#00ccf7" stroke-width="0.25"/>
<path d="M92.30 279.40L95.70 279.40A3.40 3.40 0 0 1 92.30 282.80Z" fill="#7f0000" stroke="#7f0000" stroke-width="0.25"/>
<path d="M120.30 282.40L116.50 282.40A3.80 3.80 0 0 1 120.30 278.60Z" fill="#00ccf7" stroke="#00ccf7" stroke-width="0.25"/>
<path d="M120.30 282.40L120.30 281.60A0.80 0.80 0 0 1 121.10 282.40Z" fill="#00007f" stroke="#00007f" stroke-width="0.25"/>
<path d="M120.30 282.40L123.90 282.40A3.60 3.60 0 0 1 120.30 286.00Z" fill="#7f0000" stroke="#7f0000" stroke-width="0.25"/>
<path d="M151.00 285.70L149.50 285.70A1.50 1.50 0 0 1 151.00 284.20Z" fill="#00ccf7" stroke="#00ccf7" stroke-width="0.25"/>
<path d="M151.00 285.70L151.00 285.20A0.50 0.50 0 0 1 151.50 285.70Z" fill="#00007f" stroke="#00007f" stroke-width="0.25"/>
<path d="M151.00 285.70L155.00 285.70A4.00 4.00 0 0 1 151.00 289.70Z" fill="#7f0000" stroke="#7f0000" stroke-width="0.25"/>
<path d="M66.80 306.70L60.20 306.70A6.60 6.60 0 0 1 66.80 300.10Z" fill="#00ccf7" stroke="#00ccf7" stroke-width="0.25"/>
<path d="M52.20 321.40L44.50 321.40A7.70 7.70 0 0 1 52.20 313.70Z" fill="#00ccf7" stroke="#00ccf7" stroke-width="0.25"/>
<path d="M25.70 350.00L20.40 350.00A5.30 5.30 0 0 1 25.70 344.70Z" fill="#00ccf7" stroke="#00ccf7" stroke-width="0.25"/>
<path d="M25.70 350.00L25.70 343.70A6.30 6.30 0 0 1 32.00 350.00Z" fill="#00007f" stroke="#00007f" stroke-width="0.25"/>
<circle cx="74.8" cy="224.0" r="6.1" fill="none" stroke="#5a5a5a" stroke-width="1"/>
<circle cx="83.6" cy="253.4" r="9.2" fill="none" stroke="#5a5a5a" stroke-width="1"/>
<circle cx="92.3" cy="279.4" r="8.0" fill="none" stroke="#5a5a5a" stroke-width="1"/>
<circle cx="120.3" cy="282.4" r="6.3" fill="none" stroke="#5a5a5a" stroke-width="1"/>
<circle cx="151.0" cy="285.7" r="5.5" fill="none" stroke="#5a5a5a" stroke-width="1"/>
<circle cx="77.2" cy="295.0" r="12.9" fill="none" stroke="#5a5a5a" stroke-width="1"/>
<circle cx="66.3" cy="306.8" r="12.4" fill="none" stroke="#5a5a5a" stroke-width="1"/>
<circle cx="52.2" cy="321.4" r="8.5" fill="none" stroke="#5a5a5a" stroke-width="1"/>
<circle cx="25.7" cy="350.0" r="6.5" fill="none" stroke="#5a5a5a" stroke-width="1"/>
<path d="M122.6 332.4L136 331.2Q139.5 330.6 141.5 329" stroke="#00ccf7" stroke-width="2.4" stroke-linecap="round" fill="none"/>
<path d="M171.8 332.4L158.4 331.2Q154.9 330.6 152.9 329" stroke="#00007f" stroke-width="2.4" stroke-linecap="round" fill="none"/>
<path d="M122.6 349.9L136 351.1Q139.5 351.7 141.5 353.3" stroke="#ffcc00" stroke-width="2.4" stroke-linecap="round" fill="none"/>
<path d="M171.8 349.9L158.4 351.1Q154.9 351.7 152.9 353.3" stroke="#7f0000" stroke-width="2.4" stroke-linecap="round" fill="none"/>
<path d="M147.30 341.20L134.10 341.20A13.20 13.20 0 0 1 147.30 328.00Z" fill="#00ccf7" stroke="#00ccf7" stroke-width="0.25"/>
<path d="M147.30 341.20L147.30 328.00A13.20 13.20 0 0 1 160.50 341.20Z" fill="#00007f" stroke="#00007f" stroke-width="0.25"/>
<path d="M147.30 341.20L160.50 341.20A13.20 13.20 0 0 1 147.30 354.40Z" fill="#7f0000" stroke="#7f0000" stroke-width="0.25"/>
<path d="M147.30 341.20L147.30 354.40A13.20 13.20 0 0 1 134.10 341.20Z" fill="#ffcc00" stroke="#ffcc00" stroke-width="0.25"/>
<circle cx="147.3" cy="341.2" r="13.2" fill="none" stroke="#333" stroke-width="0.8"/>
<text x="118.2" y="334.6" font-size="8.4" text-anchor="end" textLength="17.5" lengthAdjust="spacingAndGlyphs">PD-1</text>
<text x="118.2" y="352.3" font-size="8.4" text-anchor="end" textLength="27.2" lengthAdjust="spacingAndGlyphs">CTLA-4</text>
<text x="175.3" y="334.6" font-size="8.4" textLength="23.8" lengthAdjust="spacingAndGlyphs">LAG-3</text>
<text x="175.3" y="352.3" font-size="8.4" textLength="21.5" lengthAdjust="spacingAndGlyphs">TIM-3</text>
<text x="182.4" y="211.7" font-size="12" font-weight="bold" fill="#000">E</text>
<text x="221.6" y="211.3" font-size="9.8" textLength="19.0" lengthAdjust="spacingAndGlyphs">CD4</text>
<text x="240.8" y="209.3" font-size="7.2" textLength="3.8" lengthAdjust="spacingAndGlyphs">+</text>
<text x="248.8" y="211.3" font-size="9.8" textLength="29.6" lengthAdjust="spacingAndGlyphs">T Cells</text>
<path d="M282.2 226.4L277.3 250.8M277.3 250.8L312.4 259.0M277.3 250.8L259.4 262.4M232.3 246.5L259.4 262.4M232.3 246.5L259.1 349.9M259.4 262.4L247.9 278.9M247.9 278.9L229.9 287.9M229.9 287.9L188.9 294.3" stroke="#c0c0c0" stroke-width="0.8" fill="none"/>
<path d="M282.60 226.90L282.00 226.90A0.60 0.60 0 0 1 282.60 226.30Z" fill="#00ccf7" stroke="#00ccf7" stroke-width="0.25"/>
<path d="M282.60 226.90L282.60 223.90A3.00 3.00 0 0 1 285.60 226.90Z" fill="#00007f" stroke="#00007f" stroke-width="0.25"/>
<path d="M282.60 226.90L282.90 226.90A0.30 0.30 0 0 1 282.60 227.20Z" fill="#7f0000" stroke="#7f0000" stroke-width="0.25"/>
<path d="M232.90 246.80L232.40 246.80A0.50 0.50 0 0 1 232.90 246.30Z" fill="#00ccf7" stroke="#00ccf7" stroke-width="0.25"/>
<path d="M232.90 246.80L232.90 245.80A1.00 1.00 0 0 1 233.90 246.80Z" fill="#00007f" stroke="#00007f" stroke-width="0.25"/>
<path d="M232.90 246.80L236.10 246.80A3.20 3.20 0 0 1 232.90 250.00Z" fill="#7f0000" stroke="#7f0000" stroke-width="0.25"/>
<path d="M232.90 246.80L232.90 247.60A0.80 0.80 0 0 1 232.10 246.80Z" fill="#ffcc00" stroke="#ffcc00" stroke-width="0.25"/>
<path d="M277.60 251.00L276.20 251.00A1.40 1.40 0 0 1 277.60 249.60Z" fill="#00ccf7" stroke="#00ccf7" stroke-width="0.25"/>
<path d="M277.60 251.00L277.60 249.40A1.60 1.60 0 0 1 279.20 251.00Z" fill="#00007f" stroke="#00007f" stroke-width="0.25"/>
<path d="M312.90 259.40L308.30 259.40A4.60 4.60 0 0 1 312.90 254.80Z" fill="#00ccf7" stroke="#00ccf7" stroke-width="0.25"/>
<path d="M312.90 259.40L312.90 258.40A1.00 1.00 0 0 1 313.90 259.40Z" fill="#00007f" stroke="#00007f" stroke-width="0.25"/>
<path d="M312.90 259.40L313.50 259.40A0.60 0.60 0 0 1 312.90 260.00Z" fill="#7f0000" stroke="#7f0000" stroke-width="0.25"/>
<path d="M259.60 262.60L259.30 262.60A0.30 0.30 0 0 1 259.60 262.30Z" fill="#00ccf7" stroke="#00ccf7" stroke-width="0.25"/>
<path d="M259.60 262.60L259.60 261.80A0.80 0.80 0 0 1 260.40 262.60Z" fill="#00007f" stroke="#00007f" stroke-width="0.25"/>
<path d="M259.60 262.60L261.80 262.60A2.20 2.20 0 0 1 259.60 264.80Z" fill="#7f0000" stroke="#7f0000" stroke-width="0.25"/>
<path d="M259.60 262.60L259.60 262.80A0.20 0.20 0 0 1 259.40 262.60Z" fill="#ffcc00" stroke="#ffcc00" stroke-width="0.25"/>
<path d="M230.20 288.60L229.90 288.60A0.30 0.30 0 0 1 230.20 288.30Z" fill="#00ccf7" stroke="#00ccf7" stroke-width="0.25"/>
<path d="M230.20 288.60L230.20 288.30A0.30 0.30 0 0 1 230.50 288.60Z" fill="#00007f" stroke="#00007f" stroke-width="0.25"/>
<path d="M230.20 288.60L230.20 291.20A2.60 2.60 0 0 1 227.60 288.60Z" fill="#ffcc00" stroke="#ffcc00" stroke-width="0.25"/>
<path d="M189.40 294.80L188.80 294.80A0.60 0.60 0 0 1 189.40 294.20Z" fill="#00ccf7" stroke="#00ccf7" stroke-width="0.25"/>
<path d="M189.40 294.80L189.40 293.40A1.40 1.40 0 0 1 190.80 294.80Z" fill="#00007f" stroke="#00007f" stroke-width="0.25"/>
<path d="M189.40 294.80L189.90 294.80A0.50 0.50 0 0 1 189.40 295.30Z" fill="#7f0000" stroke="#7f0000" stroke-width="0.25"/>
<path d="M189.40 294.80L189.40 300.40A5.60 5.60 0 0 1 183.80 294.80Z" fill="#ffcc00" stroke="#ffcc00" stroke-width="0.25"/>
<path d="M259.10 349.90L253.80 349.90A5.30 5.30 0 0 1 259.10 344.60Z" fill="#00ccf7" stroke="#00ccf7" stroke-width="0.25"/>
<path d="M259.10 349.90L259.10 344.60A5.30 5.30 0 0 1 264.40 349.90Z" fill="#00007f" stroke="#00007f" stroke-width="0.25"/>
<path d="M259.10 349.90L264.40 349.90A5.30 5.30 0 0 1 259.10 355.20Z" fill="#7f0000" stroke="#7f0000" stroke-width="0.25"/>
<circle cx="282.2" cy="226.4" r="7.1" fill="none" stroke="#5a5a5a" stroke-width="1"/>
<circle cx="232.3" cy="246.5" r="6.0" fill="none" stroke="#5a5a5a" stroke-width="1"/>
<circle cx="277.3" cy="250.8" r="5.8" fill="none" stroke="#5a5a5a" stroke-width="1"/>
<circle cx="312.4" cy="259.0" r="7.2" fill="none" stroke="#5a5a5a" stroke-width="1"/>
<circle cx="259.4" cy="262.4" r="7.3" fill="none" stroke="#5a5a5a" stroke-width="1"/>
<circle cx="247.9" cy="278.9" r="12.6" fill="none" stroke="#5a5a5a" stroke-width="1"/>
<circle cx="229.9" cy="287.9" r="8.0" fill="none" stroke="#5a5a5a" stroke-width="1"/>
<circle cx="188.9" cy="294.3" r="6.5" fill="none" stroke="#5a5a5a" stroke-width="1"/>
<circle cx="259.1" cy="349.9" r="5.3" fill="none" stroke="#5a5a5a" stroke-width="1"/>
<text x="336.3" y="211.9" font-size="12" font-weight="bold" fill="#000">G</text>
<text x="375.6" y="211.3" font-size="9.8" textLength="29.6" lengthAdjust="spacingAndGlyphs">CD11c</text>
<text x="405.9" y="209.3" font-size="7.2" textLength="3.8" lengthAdjust="spacingAndGlyphs">+</text>
<text x="416.2" y="211.3" font-size="9.8" textLength="21.5" lengthAdjust="spacingAndGlyphs">Cells</text>
<path d="M360.9 230.9L369.6 237.5M369.6 237.5L374.7 243.5M374.7 243.5L377.3 251.5M377.3 251.5L366.1 255.7M377.3 251.5L388.1 257.4M388.1 257.4L399.8 264.8M399.8 264.8L413.7 260.3M413.7 260.3L427.0 254.7M427.0 254.7L437.9 242.4M437.9 242.4L453.9 232.1M453.9 232.1L471.8 222.8M427.0 254.7L445.0 261.8M399.8 264.8L398.5 278.7M398.5 278.7L397.3 290.6M397.3 290.6L398.3 307.1M398.3 307.1L423.7 312.2M398.3 307.1L390.7 321.3M390.7 321.3L408.7 329.7M390.7 321.3L378.7 332.3M378.7 332.3L360.9 326.5M378.7 332.3L361.3 340.7M361.3 340.7L344.4 349.8M378.7 332.3L380.8 350.4M380.8 350.4L391.3 342.6" stroke="#c0c0c0" stroke-width="0.8" fill="none"/>
<path d="M360.90 230.90L359.10 230.90A1.80 1.80 0 0 1 362.70 230.90Z" fill="#05058a" stroke="#05058a" stroke-width="0.25"/>
<path d="M360.90 230.90L361.20 230.90A0.30 0.30 0 0 1 360.60 230.90Z" fill="#880606" stroke="#880606" stroke-width="0.25"/>
<circle cx="360.9" cy="230.9" r="6.6" fill="none" stroke="#5a5a5a" stroke-width="1"/>
<path d="M369.60 237.50L368.80 237.50A0.80 0.80 0 0 1 370.40 237.50Z" fill="#05058a" stroke="#05058a" stroke-width="0.25"/>
<path d="M369.60 237.50L369.90 237.50A0.30 0.30 0 0 1 369.30 237.50Z" fill="#880606" stroke="#880606" stroke-width="0.25"/>
<circle cx="369.6" cy="237.5" r="6.6" fill="none" stroke="#5a5a5a" stroke-width="1"/>
<path d="M374.70 243.50L374.10 243.50A0.60 0.60 0 0 1 375.30 243.50Z" fill="#05058a" stroke="#05058a" stroke-width="0.25"/>
<path d="M374.70 243.50L375.10 243.50A0.40 0.40 0 0 1 374.30 243.50Z" fill="#880606" stroke="#880606" stroke-width="0.25"/>
<circle cx="374.7" cy="243.5" r="6.6" fill="none" stroke="#5a5a5a" stroke-width="1"/>
<path d="M377.30 251.50L376.90 251.50A0.40 0.40 0 0 1 377.70 251.50Z" fill="#05058a" stroke="#05058a" stroke-width="0.25"/>
<path d="M377.30 251.50L378.10 251.50A0.80 0.80 0 0 1 376.50 251.50Z" fill="#880606" stroke="#880606" stroke-width="0.25"/>
<circle cx="377.3" cy="251.5" r="6.6" fill="none" stroke="#5a5a5a" stroke-width="1"/>
<path d="M366.10 255.70L364.80 255.70A1.30 1.30 0 0 1 367.40 255.70Z" fill="#05058a" stroke="#05058a" stroke-width="0.25"/>
<path d="M366.10 255.70L366.60 255.70A0.50 0.50 0 0 1 365.60 255.70Z" fill="#880606" stroke="#880606" stroke-width="0.25"/>
<circle cx="366.1" cy="255.7" r="6.6" fill="none" stroke="#5a5a5a" stroke-width="1"/>
<path d="M388.10 257.40L387.50 257.40A0.60 0.60 0 0 1 388.70 257.40Z" fill="#05058a" stroke="#05058a" stroke-width="0.25"/>
<path d="M388.10 257.40L390.30 257.40A2.20 2.20 0 0 1 385.90 257.40Z" fill="#880606" stroke="#880606" stroke-width="0.25"/>
<circle cx="388.1" cy="257.4" r="6.6" fill="none" stroke="#5a5a5a" stroke-width="1"/>
<path d="M399.80 264.80L398.60 264.80A1.20 1.20 0 0 1 401.00 264.80Z" fill="#05058a" stroke="#05058a" stroke-width="0.25"/>
<path d="M399.80 264.80L403.60 264.80A3.80 3.80 0 0 1 396.00 264.80Z" fill="#880606" stroke="#880606" stroke-width="0.25"/>
<circle cx="399.8" cy="264.8" r="6.6" fill="none" stroke="#5a5a5a" stroke-width="1"/>
<path d="M413.70 260.30L411.30 260.30A2.40 2.40 0 0 1 416.10 260.30Z" fill="#05058a" stroke="#05058a" stroke-width="0.25"/>
<path d="M413.70 260.30L415.90 260.30A2.20 2.20 0 0 1 411.50 260.30Z" fill="#880606" stroke="#880606" stroke-width="0.25"/>
<circle cx="413.7" cy="260.3" r="6.6" fill="none" stroke="#5a5a5a" stroke-width="1"/>
<path d="M427.00 254.70L425.00 254.70A2.00 2.00 0 0 1 429.00 254.70Z" fill="#05058a" stroke="#05058a" stroke-width="0.25"/>
<path d="M427.00 254.70L428.50 254.70A1.50 1.50 0 0 1 425.50 254.70Z" fill="#880606" stroke="#880606" stroke-width="0.25"/>
<circle cx="427.0" cy="254.7" r="6.6" fill="none" stroke="#5a5a5a" stroke-width="1"/>
<path d="M437.90 242.40L434.90 242.40A3.00 3.00 0 0 1 440.90 242.40Z" fill="#05058a" stroke="#05058a" stroke-width="0.25"/>
<path d="M437.90 242.40L438.90 242.40A1.00 1.00 0 0 1 436.90 242.40Z" fill="#880606" stroke="#880606" stroke-width="0.25"/>
<circle cx="437.9" cy="242.4" r="6.6" fill="none" stroke="#5a5a5a" stroke-width="1"/>
<path d="M445.00 261.80L442.00 261.80A3.00 3.00 0 0 1 448.00 261.80Z" fill="#05058a" stroke="#05058a" stroke-width="0.25"/>
<path d="M445.00 261.80L448.00 261.80A3.00 3.00 0 0 1 442.00 261.80Z" fill="#880606" stroke="#880606" stroke-width="0.25"/>
<circle cx="445.0" cy="261.8" r="6.6" fill="none" stroke="#5a5a5a" stroke-width="1"/>
<path d="M453.90 232.10L449.20 232.10A4.70 4.70 0 0 1 458.60 232.10Z" fill="#05058a" stroke="#05058a" stroke-width="0.25"/>
<path d="M453.90 232.10L454.70 232.10A0.80 0.80 0 0 1 453.10 232.10Z" fill="#880606" stroke="#880606" stroke-width="0.25"/>
<circle cx="453.9" cy="232.1" r="6.6" fill="none" stroke="#5a5a5a" stroke-width="1"/>
<path d="M471.80 222.80L465.10 222.80A6.70 6.70 0 0 1 478.50 222.80Z" fill="#05058a" stroke="#05058a" stroke-width="0.25"/>
<path d="M471.80 222.80L473.00 222.80A1.20 1.20 0 0 1 470.60 222.80Z" fill="#880606" stroke="#880606" stroke-width="0.25"/>
<circle cx="471.8" cy="222.8" r="6.6" fill="none" stroke="#5a5a5a" stroke-width="1"/>
<path d="M398.50 278.70L397.70 278.70A0.80 0.80 0 0 1 399.30 278.70Z" fill="#05058a" stroke="#05058a" stroke-width="0.25"/>
<path d="M398.50 278.70L402.50 278.70A4.00 4.00 0 0 1 394.50 278.70Z" fill="#880606" stroke="#880606" stroke-width="0.25"/>
<circle cx="398.5" cy="278.7" r="6.6" fill="none" stroke="#5a5a5a" stroke-width="1"/>
<path d="M397.30 290.60L395.50 290.60A1.80 1.80 0 0 1 399.10 290.60Z" fill="#05058a" stroke="#05058a" stroke-width="0.25"/>
<path d="M397.30 290.60L401.30 290.60A4.00 4.00 0 0 1 393.30 290.60Z" fill="#880606" stroke="#880606" stroke-width="0.25"/>
<circle cx="397.3" cy="290.6" r="6.6" fill="none" stroke="#5a5a5a" stroke-width="1"/>
<path d="M398.30 307.10L395.00 307.10A3.30 3.30 0 0 1 401.60 307.10Z" fill="#05058a" stroke="#05058a" stroke-width="0.25"/>
<path d="M398.30 307.10L403.10 307.10A4.80 4.80 0 0 1 393.50 307.10Z" fill="#880606" stroke="#880606" stroke-width="0.25"/>
<circle cx="398.3" cy="307.1" r="6.6" fill="none" stroke="#5a5a5a" stroke-width="1"/>
<path d="M423.70 312.20L422.20 312.20A1.50 1.50 0 0 1 425.20 312.20Z" fill="#05058a" stroke="#05058a" stroke-width="0.25"/>
<path d="M423.70 312.20L429.00 312.20A5.30 5.30 0 0 1 418.40 312.20Z" fill="#880606" stroke="#880606" stroke-width="0.25"/>
<circle cx="423.7" cy="312.2" r="6.6" fill="none" stroke="#5a5a5a" stroke-width="1"/>
<path d="M390.70 321.30L385.90 321.30A4.80 4.80 0 0 1 395.50 321.30Z" fill="#05058a" stroke="#05058a" stroke-width="0.25"/>
<path d="M390.70 321.30L395.50 321.30A4.80 4.80 0 0 1 385.90 321.30Z" fill="#880606" stroke="#880606" stroke-width="0.25"/>
<circle cx="390.7" cy="321.3" r="6.6" fill="none" stroke="#5a5a5a" stroke-width="1"/>
<path d="M408.70 329.70L404.50 329.70A4.20 4.20 0 0 1 412.90 329.70Z" fill="#05058a" stroke="#05058a" stroke-width="0.25"/>
<path d="M408.70 329.70L411.50 329.70A2.80 2.80 0 0 1 405.90 329.70Z" fill="#880606" stroke="#880606" stroke-width="0.25"/>
<circle cx="408.7" cy="329.7" r="6.6" fill="none" stroke="#5a5a5a" stroke-width="1"/>
<path d="M360.90 326.50L356.10 326.50A4.80 4.80 0 0 1 365.70 326.50Z" fill="#05058a" stroke="#05058a" stroke-width="0.25"/>
<path d="M360.90 326.50L366.30 326.50A5.40 5.40 0 0 1 355.50 326.50Z" fill="#880606" stroke="#880606" stroke-width="0.25"/>
<circle cx="360.9" cy="326.5" r="6.6" fill="none" stroke="#5a5a5a" stroke-width="1"/>
<path d="M378.70 332.30L373.40 332.30A5.30 5.30 0 0 1 384.00 332.30Z" fill="#05058a" stroke="#05058a" stroke-width="0.25"/>
<path d="M378.70 332.30L384.00 332.30A5.30 5.30 0 0 1 373.40 332.30Z" fill="#880606" stroke="#880606" stroke-width="0.25"/>
<circle cx="378.7" cy="332.3" r="6.6" fill="none" stroke="#5a5a5a" stroke-width="1"/>
<path d="M361.30 340.70L355.10 340.70A6.20 6.20 0 0 1 367.50 340.70Z" fill="#05058a" stroke="#05058a" stroke-width="0.25"/>
<path d="M361.30 340.70L367.50 340.70A6.20 6.20 0 0 1 355.10 340.70Z" fill="#880606" stroke="#880606" stroke-width="0.25"/>
<circle cx="361.3" cy="340.7" r="6.6" fill="none" stroke="#5a5a5a" stroke-width="1"/>
<path d="M391.30 342.60L385.10 342.60A6.20 6.20 0 0 1 397.50 342.60Z" fill="#05058a" stroke="#05058a" stroke-width="0.25"/>
<path d="M391.30 342.60L397.50 342.60A6.20 6.20 0 0 1 385.10 342.60Z" fill="#880606" stroke="#880606" stroke-width="0.25"/>
<circle cx="391.3" cy="342.6" r="6.6" fill="none" stroke="#5a5a5a" stroke-width="1"/>
<path d="M344.40 349.80L337.80 349.80A6.60 6.60 0 0 1 351.00 349.80Z" fill="#05058a" stroke="#05058a" stroke-width="0.25"/>
<path d="M344.40 349.80L351.00 349.80A6.60 6.60 0 0 1 337.80 349.80Z" fill="#880606" stroke="#880606" stroke-width="0.25"/>
<circle cx="344.4" cy="349.8" r="6.6" fill="none" stroke="#5a5a5a" stroke-width="1"/>
<path d="M380.80 350.40L375.80 350.40A5.00 5.00 0 0 1 385.80 350.40Z" fill="#05058a" stroke="#05058a" stroke-width="0.25"/>
<path d="M380.80 350.40L386.20 350.40A5.40 5.40 0 0 1 375.40 350.40Z" fill="#880606" stroke="#880606" stroke-width="0.25"/>
<circle cx="380.8" cy="350.4" r="6.6" fill="none" stroke="#5a5a5a" stroke-width="1"/>
<path d="M437 333C445 331 450 336.5 456 336.6L456 338.4C450 338.5 445 334 437 335Z" fill="#05058a"/>
<path d="M437 354.5C445 355.5 450 351 456 350.6L456 352.4C450 352.8 445 357 437 356.2Z" fill="#880606"/>
<path d="M437.00 343.80L426.40 343.80A10.60 10.60 0 0 1 447.60 343.80Z" fill="#05058a" stroke="#05058a" stroke-width="0.25"/>
<path d="M437.00 343.80L447.60 343.80A10.60 10.60 0 0 1 426.40 343.80Z" fill="#880606" stroke="#880606" stroke-width="0.25"/>
<text x="460.7" y="339.6" font-size="8.1" textLength="21" lengthAdjust="spacingAndGlyphs">PD-L1</text>
<text x="460.7" y="352.9" font-size="8.1" textLength="21.3" lengthAdjust="spacingAndGlyphs">PD-L2</text>
<text x="7.0" y="379.54999999999995" font-size="12" font-weight="bold" fill="#000">D</text>
<path d="M52.2 374.6V468.5H465.4" stroke="#111" stroke-width="1.2" fill="none"/>
<path d="M49.1 468.50H52.2M49.1 450.23H52.2M49.1 431.96H52.2M49.1 413.69H52.2M49.1 395.42H52.2M49.1 377.15H52.2M81.4 468.5V471.5M152.3 468.5V471.5M223.2 468.5V471.5M294.4 468.5V471.5M365.2 468.5V471.5M436.4 468.5V471.5" stroke="#111" stroke-width="1" fill="none"/>
<text x="46.3" y="471.45" font-size="8.4" text-anchor="end" textLength="4.6" lengthAdjust="spacingAndGlyphs">0</text>
<text x="46.3" y="453.18" font-size="8.4" text-anchor="end" textLength="9.2" lengthAdjust="spacingAndGlyphs">20</text>
<text x="46.3" y="434.90999999999997" font-size="8.4" text-anchor="end" textLength="9.2" lengthAdjust="spacingAndGlyphs">40</text>
<text x="46.3" y="416.64" font-size="8.4" text-anchor="end" textLength="9.2" lengthAdjust="spacingAndGlyphs">60</text>
<text x="46.3" y="398.37" font-size="8.4" text-anchor="end" textLength="9.2" lengthAdjust="spacingAndGlyphs">80</text>
<text x="46.3" y="380.09999999999997" font-size="8.4" text-anchor="end" textLength="12.6" lengthAdjust="spacingAndGlyphs">100</text>
<text x="27.6" y="421.025" font-size="10.0" text-anchor="middle" textLength="30.6" lengthAdjust="spacingAndGlyphs" transform="rotate(-90 27.6 421.025)">% of CD8</text>
<text x="81.4" y="481.4" font-size="8.3" text-anchor="middle" textLength="16.8" lengthAdjust="spacingAndGlyphs">PD-1</text>
<text x="152.3" y="481.4" font-size="8.3" text-anchor="middle" textLength="20.8" lengthAdjust="spacingAndGlyphs">TIM-3</text>
<text x="223.2" y="481.4" font-size="8.3" text-anchor="middle" textLength="22.8" lengthAdjust="spacingAndGlyphs">LAG-3</text>
<text x="294.4" y="481.4" font-size="8.3" text-anchor="middle" textLength="50.0" lengthAdjust="spacingAndGlyphs">TIM-3<tspan font-size="5.5" dy="-3">+</tspan><tspan dy="3">LAG-3</tspan><tspan font-size="5.5" dy="-3">+</tspan></text>
<text x="365.2" y="481.4" font-size="8.3" text-anchor="middle" textLength="47.4" lengthAdjust="spacingAndGlyphs">PD-1<tspan font-size="5.5" dy="-3">+</tspan><tspan dy="3">TIM-3</tspan><tspan font-size="5.5" dy="-3">+</tspan></text>
<text x="436.4" y="481.4" font-size="8.3" text-anchor="middle" textLength="73.3" lengthAdjust="spacingAndGlyphs">PD-1<tspan font-size="5.5" dy="-3">+</tspan><tspan dy="3">TIM-3</tspan><tspan font-size="5.5" dy="-3">+</tspan><tspan dy="3">LAG-3</tspan><tspan font-size="5.5" dy="-3">+</tspan></text>
<g fill="#b0122e"><circle cx="65.0" cy="402.3" r="2.0"/><circle cx="73.8" cy="399.5" r="2.0"/><circle cx="67.9" cy="405.8" r="2.0"/><circle cx="73.8" cy="408.6" r="2.0"/><circle cx="67.9" cy="417.1" r="2.0"/><circle cx="73.3" cy="416.1" r="2.0"/><circle cx="70.4" cy="427.0" r="2.0"/><circle cx="70.4" cy="441.5" r="2.0"/><circle cx="141.5" cy="430.1" r="2.0"/><circle cx="141.5" cy="437.4" r="2.0"/><circle cx="144.2" cy="440.6" r="2.0"/><circle cx="136.1" cy="443.3" r="2.0"/><circle cx="139.1" cy="445.5" r="2.0"/><circle cx="145.0" cy="451.7" r="2.0"/><circle cx="144.2" cy="457.6" r="2.0"/><circle cx="138.8" cy="462.2" r="2.0"/><circle cx="212.6" cy="460.6" r="2.0"/><circle cx="207.7" cy="463.5" r="2.0"/><circle cx="217.4" cy="463.5" r="2.0"/><circle cx="210.5" cy="467.0" r="2.0"/><circle cx="214.5" cy="467.0" r="2.0"/><circle cx="212.6" cy="467.8" r="2.0"/><circle cx="216.0" cy="466.5" r="2.0"/><circle cx="209.0" cy="466.3" r="2.0"/><circle cx="280.5" cy="464.5" r="2.0"/><circle cx="286.0" cy="463.8" r="2.0"/><circle cx="288.0" cy="465.5" r="2.0"/><circle cx="278.5" cy="467.0" r="2.0"/><circle cx="283.0" cy="468.0" r="2.0"/><circle cx="285.5" cy="467.6" r="2.0"/><circle cx="281.0" cy="467.4" r="2.0"/><circle cx="287.0" cy="467.1" r="2.0"/><circle cx="352.0" cy="463.5" r="2.0"/><circle cx="357.0" cy="461.0" r="2.0"/><circle cx="359.5" cy="464.0" r="2.0"/><circle cx="350.0" cy="466.0" r="2.0"/><circle cx="354.0" cy="467.5" r="2.0"/><circle cx="348.0" cy="465.0" r="2.0"/><circle cx="356.5" cy="466.5" r="2.0"/><circle cx="360.0" cy="465.8" r="2.0"/><circle cx="422.7" cy="462.2" r="2.0"/><circle cx="428.0" cy="461.4" r="2.0"/><circle cx="429.6" cy="463.5" r="2.0"/><circle cx="423.0" cy="467.0" r="2.0"/><circle cx="426.0" cy="467.4" r="2.0"/><circle cx="420.0" cy="465.8" r="2.0"/><circle cx="425.0" cy="466.2" r="2.0"/><circle cx="430.5" cy="465.3" r="2.0"/></g>
<g fill="#2d4f94"><rect x="85.4" y="465.8" width="14.2" height="4.0" rx="1.3"/><rect x="156.3" y="465.8" width="14.2" height="4.0" rx="1.3"/><rect x="227.2" y="465.8" width="14.2" height="4.0" rx="1.3"/><rect x="298.4" y="465.8" width="14.2" height="4.0" rx="1.3"/><rect x="369.2" y="465.8" width="14.2" height="4.0" rx="1.3"/><rect x="440.4" y="465.8" width="14.2" height="4.0" rx="1.3"/><rect x="88.1" y="464.3" width="3" height="3"/><rect x="93.7" y="464.0" width="3" height="3"/></g>
<path d="M63.0 415.15H77.8M70.4 419.63V409.76M67.4 419.63H73.4M67.4 409.76H73.4M134.4 446.03H148.6M141.5 450.32V441.37M138.5 450.32H144.5M138.5 441.37H144.5M205.0 465.21H220.0M212.5 465.94V464.48M209.5 465.94H215.5M209.5 464.48H215.5M276.5 466.67H290.1M283.3 467.13V466.22M280.3 467.13H286.3M280.3 466.22H286.3M347.0 465.21H361.6M354.3 465.85V464.57M351.3 465.85H357.3M351.3 464.57H357.3M418.0 464.66H432.0M425.0 465.30V464.02M422.0 465.30H428.0M422.0 464.02H428.0M85.9 467.68H99.1M156.8 467.68H170.0M227.7 467.68H240.9M298.9 467.68H312.1M369.7 467.68H382.9M440.9 467.68H454.1" stroke="#111" stroke-width="1.4" fill="none"/>
<path d="M68.9 384.4V393.4M68.9 388.9H89.4M89.4 384.4V393.4M139.6 411.6V420.6M139.6 416.1H160.1M160.1 411.6V420.6M212.1 437.9V446.9M212.1 442.4H232.4M232.4 437.9V446.9M280.3 437.9V446.9M280.3 442.4H300.6M300.6 437.9V446.9M354.1 437.9V446.9M354.1 442.4H374.6M374.6 437.9V446.9M425.9 437.9V446.9M425.9 442.4H446.6M446.6 437.9V446.9" stroke="#2a2a2a" stroke-width="1" fill="none"/>
<text x="76.10000000000001" y="383.5" font-size="9" text-anchor="middle" font-weight="bold">*</text>
<text x="81.30000000000001" y="383.5" font-size="9" text-anchor="middle" font-weight="bold">*</text>
<text x="149.9" y="410.70000000000005" font-size="9" text-anchor="middle" font-weight="bold">*</text>
<text x="222.25" y="436.79999999999995" font-size="7.8" text-anchor="middle" textLength="7.6" lengthAdjust="spacingAndGlyphs">ns</text>
<text x="290.45" y="436.79999999999995" font-size="7.8" text-anchor="middle" textLength="7.6" lengthAdjust="spacingAndGlyphs">ns</text>
<text x="364.34999999999997" y="436.79999999999995" font-size="7.8" text-anchor="middle" textLength="7.6" lengthAdjust="spacingAndGlyphs">ns</text>
<text x="436.25" y="436.79999999999995" font-size="7.8" text-anchor="middle" textLength="7.6" lengthAdjust="spacingAndGlyphs">ns</text>
<circle cx="385.3" cy="381.1" r="1.9" fill="#b0122e"/>
<rect x="383.9" y="390.4" width="3.2" height="3" fill="#2d4f94"/>
<text x="390.6" y="383.1" font-size="7.3" font-style="italic" textLength="39.6" lengthAdjust="spacingAndGlyphs">BRAFV600E</text>
<text x="431.0" y="380.70000000000005" font-size="5.4" font-style="italic" textLength="16.2" lengthAdjust="spacingAndGlyphs">CD11c</text>
<text x="449.3" y="383.20000000000005" font-size="7.3" textLength="15.7" lengthAdjust="spacingAndGlyphs">mice</text>
<text x="390.5" y="393.70000000000005" font-size="7.3" font-style="italic" textLength="12.2" lengthAdjust="spacingAndGlyphs">Cre</text>
<text x="403.0" y="391.6" font-size="5.2" font-style="italic" textLength="5" lengthAdjust="spacingAndGlyphs">-/-</text>
<text x="410.2" y="393.70000000000005" font-size="7.3" textLength="15.4" lengthAdjust="spacingAndGlyphs">mice</text>
<text x="7.4" y="505.8499999999999" font-size="12" font-weight="bold" fill="#000">F</text>
<path d="M52.2 500.9V594.8H465.4" stroke="#111" stroke-width="1.2" fill="none"/>
<path d="M49.1 594.80H52.2M49.1 576.53H52.2M49.1 558.26H52.2M49.1 539.99H52.2M49.1 521.72H52.2M49.1 503.45H52.2M81.4 594.8V597.8M152.3 594.8V597.8M223.2 594.8V597.8M294.4 594.8V597.8M365.2 594.8V597.8M436.4 594.8V597.8" stroke="#111" stroke-width="1" fill="none"/>
<text x="46.3" y="597.75" font-size="8.4" text-anchor="end" textLength="4.6" lengthAdjust="spacingAndGlyphs">0</text>
<text x="46.3" y="579.48" font-size="8.4" text-anchor="end" textLength="9.2" lengthAdjust="spacingAndGlyphs">20</text>
<text x="46.3" y="561.21" font-size="8.4" text-anchor="end" textLength="9.2" lengthAdjust="spacingAndGlyphs">40</text>
<text x="46.3" y="542.94" font-size="8.4" text-anchor="end" textLength="9.2" lengthAdjust="spacingAndGlyphs">60</text>
<text x="46.3" y="524.67" font-size="8.4" text-anchor="end" textLength="9.2" lengthAdjust="spacingAndGlyphs">80</text>
<text x="46.3" y="506.3999999999999" font-size="8.4" text-anchor="end" textLength="12.6" lengthAdjust="spacingAndGlyphs">100</text>
<text x="27.6" y="547.325" font-size="10.0" text-anchor="middle" textLength="30.6" lengthAdjust="spacingAndGlyphs" transform="rotate(-90 27.6 547.325)">% of CD4</text>
<text x="81.4" y="607.8" font-size="8.3" text-anchor="middle" textLength="16.8" lengthAdjust="spacingAndGlyphs">PD-1</text>
<text x="152.3" y="607.8" font-size="8.3" text-anchor="middle" textLength="20.8" lengthAdjust="spacingAndGlyphs">TIM-3</text>
<text x="223.2" y="607.8" font-size="8.3" text-anchor="middle" textLength="22.8" lengthAdjust="spacingAndGlyphs">LAG-3</text>
<text x="294.4" y="607.8" font-size="8.3" text-anchor="middle" textLength="50.0" lengthAdjust="spacingAndGlyphs">TIM-3<tspan font-size="5.5" dy="-3">+</tspan><tspan dy="3">LAG-3</tspan><tspan font-size="5.5" dy="-3">+</tspan></text>
<text x="365.2" y="607.8" font-size="8.3" text-anchor="middle" textLength="47.4" lengthAdjust="spacingAndGlyphs">PD-1<tspan font-size="5.5" dy="-3">+</tspan><tspan dy="3">TIM-3</tspan><tspan font-size="5.5" dy="-3">+</tspan></text>
<text x="436.4" y="607.8" font-size="8.3" text-anchor="middle" textLength="73.3" lengthAdjust="spacingAndGlyphs">PD-1<tspan font-size="5.5" dy="-3">+</tspan><tspan dy="3">TIM-3</tspan><tspan font-size="5.5" dy="-3">+</tspan><tspan dy="3">LAG-3</tspan><tspan font-size="5.5" dy="-3">+</tspan></text>
<g fill="#b0122e"><circle cx="70.5" cy="553.2" r="2.0"/><circle cx="67.7" cy="556.4" r="2.0"/><circle cx="73.4" cy="556.4" r="2.0"/><circle cx="68.1" cy="559.7" r="2.0"/><circle cx="72.1" cy="559.7" r="2.0"/><circle cx="67.7" cy="562.1" r="2.0"/><circle cx="73.4" cy="566.8" r="2.0"/><circle cx="70.4" cy="574.6" r="2.0"/><circle cx="136.1" cy="580.0" r="2.0"/><circle cx="146.9" cy="580.0" r="2.0"/><circle cx="140.2" cy="588.6" r="2.0"/><circle cx="138.0" cy="583.4" r="2.0"/><circle cx="143.0" cy="584.3" r="2.0"/><circle cx="141.0" cy="582.5" r="2.0"/><circle cx="145.0" cy="581.6" r="2.0"/><circle cx="139.0" cy="586.1" r="2.0"/><circle cx="210.0" cy="593.0" r="2.0"/><circle cx="213.0" cy="592.5" r="2.0"/><circle cx="216.0" cy="593.0" r="2.0"/><circle cx="212.0" cy="594.1" r="2.0"/><circle cx="209.0" cy="594.2" r="2.0"/><circle cx="215.0" cy="593.9" r="2.0"/><circle cx="218.0" cy="594.0" r="2.0"/><circle cx="207.0" cy="593.7" r="2.0"/><circle cx="281.0" cy="593.4" r="2.0"/><circle cx="284.0" cy="592.5" r="2.0"/><circle cx="287.0" cy="593.4" r="2.0"/><circle cx="283.0" cy="594.1" r="2.0"/><circle cx="279.0" cy="594.0" r="2.0"/><circle cx="286.0" cy="593.9" r="2.0"/><circle cx="289.0" cy="594.1" r="2.0"/><circle cx="282.0" cy="593.8" r="2.0"/><circle cx="350.5" cy="589.8" r="2.0"/><circle cx="354.5" cy="587.0" r="2.0"/><circle cx="357.5" cy="589.3" r="2.0"/><circle cx="352.0" cy="592.1" r="2.0"/><circle cx="356.0" cy="592.5" r="2.0"/><circle cx="359.0" cy="591.6" r="2.0"/><circle cx="353.0" cy="593.7" r="2.0"/><circle cx="358.0" cy="593.9" r="2.0"/><circle cx="421.5" cy="592.5" r="2.0"/><circle cx="424.5" cy="591.1" r="2.0"/><circle cx="427.0" cy="591.6" r="2.0"/><circle cx="422.0" cy="593.7" r="2.0"/><circle cx="426.0" cy="593.2" r="2.0"/><circle cx="429.0" cy="593.4" r="2.0"/><circle cx="424.0" cy="594.1" r="2.0"/><circle cx="420.0" cy="593.7" r="2.0"/></g>
<g fill="#2d4f94"><rect x="85.4" y="592.1" width="14.2" height="4.0" rx="1.3"/><rect x="156.3" y="592.1" width="14.2" height="4.0" rx="1.3"/><rect x="227.2" y="592.1" width="14.2" height="4.0" rx="1.3"/><rect x="298.4" y="592.1" width="14.2" height="4.0" rx="1.3"/><rect x="369.2" y="592.1" width="14.2" height="4.0" rx="1.3"/><rect x="440.4" y="592.1" width="14.2" height="4.0" rx="1.3"/></g>
<path d="M63.2 560.91H77.8M70.5 563.74V559.26M67.5 563.74H73.5M67.5 559.26H73.5M134.4 583.47H148.6M141.5 584.57V582.38M138.5 584.57H144.5M138.5 582.38H144.5M206.0 593.70H219.0M277.0 593.70H290.0M348.0 591.79H361.0M418.5 592.97H431.5M85.9 593.98H99.1M156.8 593.98H170.0M227.7 593.98H240.9M298.9 593.98H312.1M369.7 593.98H382.9M440.9 593.98H454.1" stroke="#111" stroke-width="1.4" fill="none"/>
<path d="M68.9 531.9V540.9M68.9 536.4H89.4M89.4 531.9V540.9M139.6 559.3V568.3M139.6 563.8H160.1M160.1 559.3V568.3M212.1 574.6V583.6M212.1 579.1H232.4M232.4 574.6V583.6M280.3 574.6V583.6M280.3 579.1H300.6M300.6 574.6V583.6M354.1 574.6V583.6M354.1 579.1H374.6M374.6 574.6V583.6M425.9 574.6V583.6M425.9 579.1H446.6M446.6 574.6V583.6" stroke="#2a2a2a" stroke-width="1" fill="none"/>
<text x="76.10000000000001" y="531.0" font-size="9" text-anchor="middle" font-weight="bold">*</text>
<text x="81.30000000000001" y="531.0" font-size="9" text-anchor="middle" font-weight="bold">*</text>
<text x="149.9" y="558.4" font-size="9" text-anchor="middle" font-weight="bold">*</text>
<text x="222.25" y="573.5" font-size="7.8" text-anchor="middle" textLength="7.6" lengthAdjust="spacingAndGlyphs">ns</text>
<text x="290.45" y="573.5" font-size="7.8" text-anchor="middle" textLength="7.6" lengthAdjust="spacingAndGlyphs">ns</text>
<text x="364.34999999999997" y="573.5" font-size="7.8" text-anchor="middle" textLength="7.6" lengthAdjust="spacingAndGlyphs">ns</text>
<text x="436.25" y="573.5" font-size="7.8" text-anchor="middle" textLength="7.6" lengthAdjust="spacingAndGlyphs">ns</text>
<circle cx="385.3" cy="507.6" r="1.9" fill="#b0122e"/>
<rect x="383.9" y="516.9" width="3.2" height="3" fill="#2d4f94"/>
<text x="390.6" y="509.6" font-size="7.3" font-style="italic" textLength="39.6" lengthAdjust="spacingAndGlyphs">BRAFV600E</text>
<text x="431.0" y="507.20000000000005" font-size="5.4" font-style="italic" textLength="16.2" lengthAdjust="spacingAndGlyphs">CD11c</text>
<text x="449.3" y="509.70000000000005" font-size="7.3" textLength="15.7" lengthAdjust="spacingAndGlyphs">mice</text>
<text x="390.5" y="520.2" font-size="7.3" font-style="italic" textLength="12.2" lengthAdjust="spacingAndGlyphs">Cre</text>
<text x="403.0" y="518.1" font-size="5.2" font-style="italic" textLength="5" lengthAdjust="spacingAndGlyphs">-/-</text>
<text x="410.2" y="520.2" font-size="7.3" textLength="15.4" lengthAdjust="spacingAndGlyphs">mice</text>
</g>
<rect x="0.55" y="0.55" width="518.9" height="615.9" fill="none" stroke="#000" stroke-width="1.3"/>
</svg>
</body></html>
